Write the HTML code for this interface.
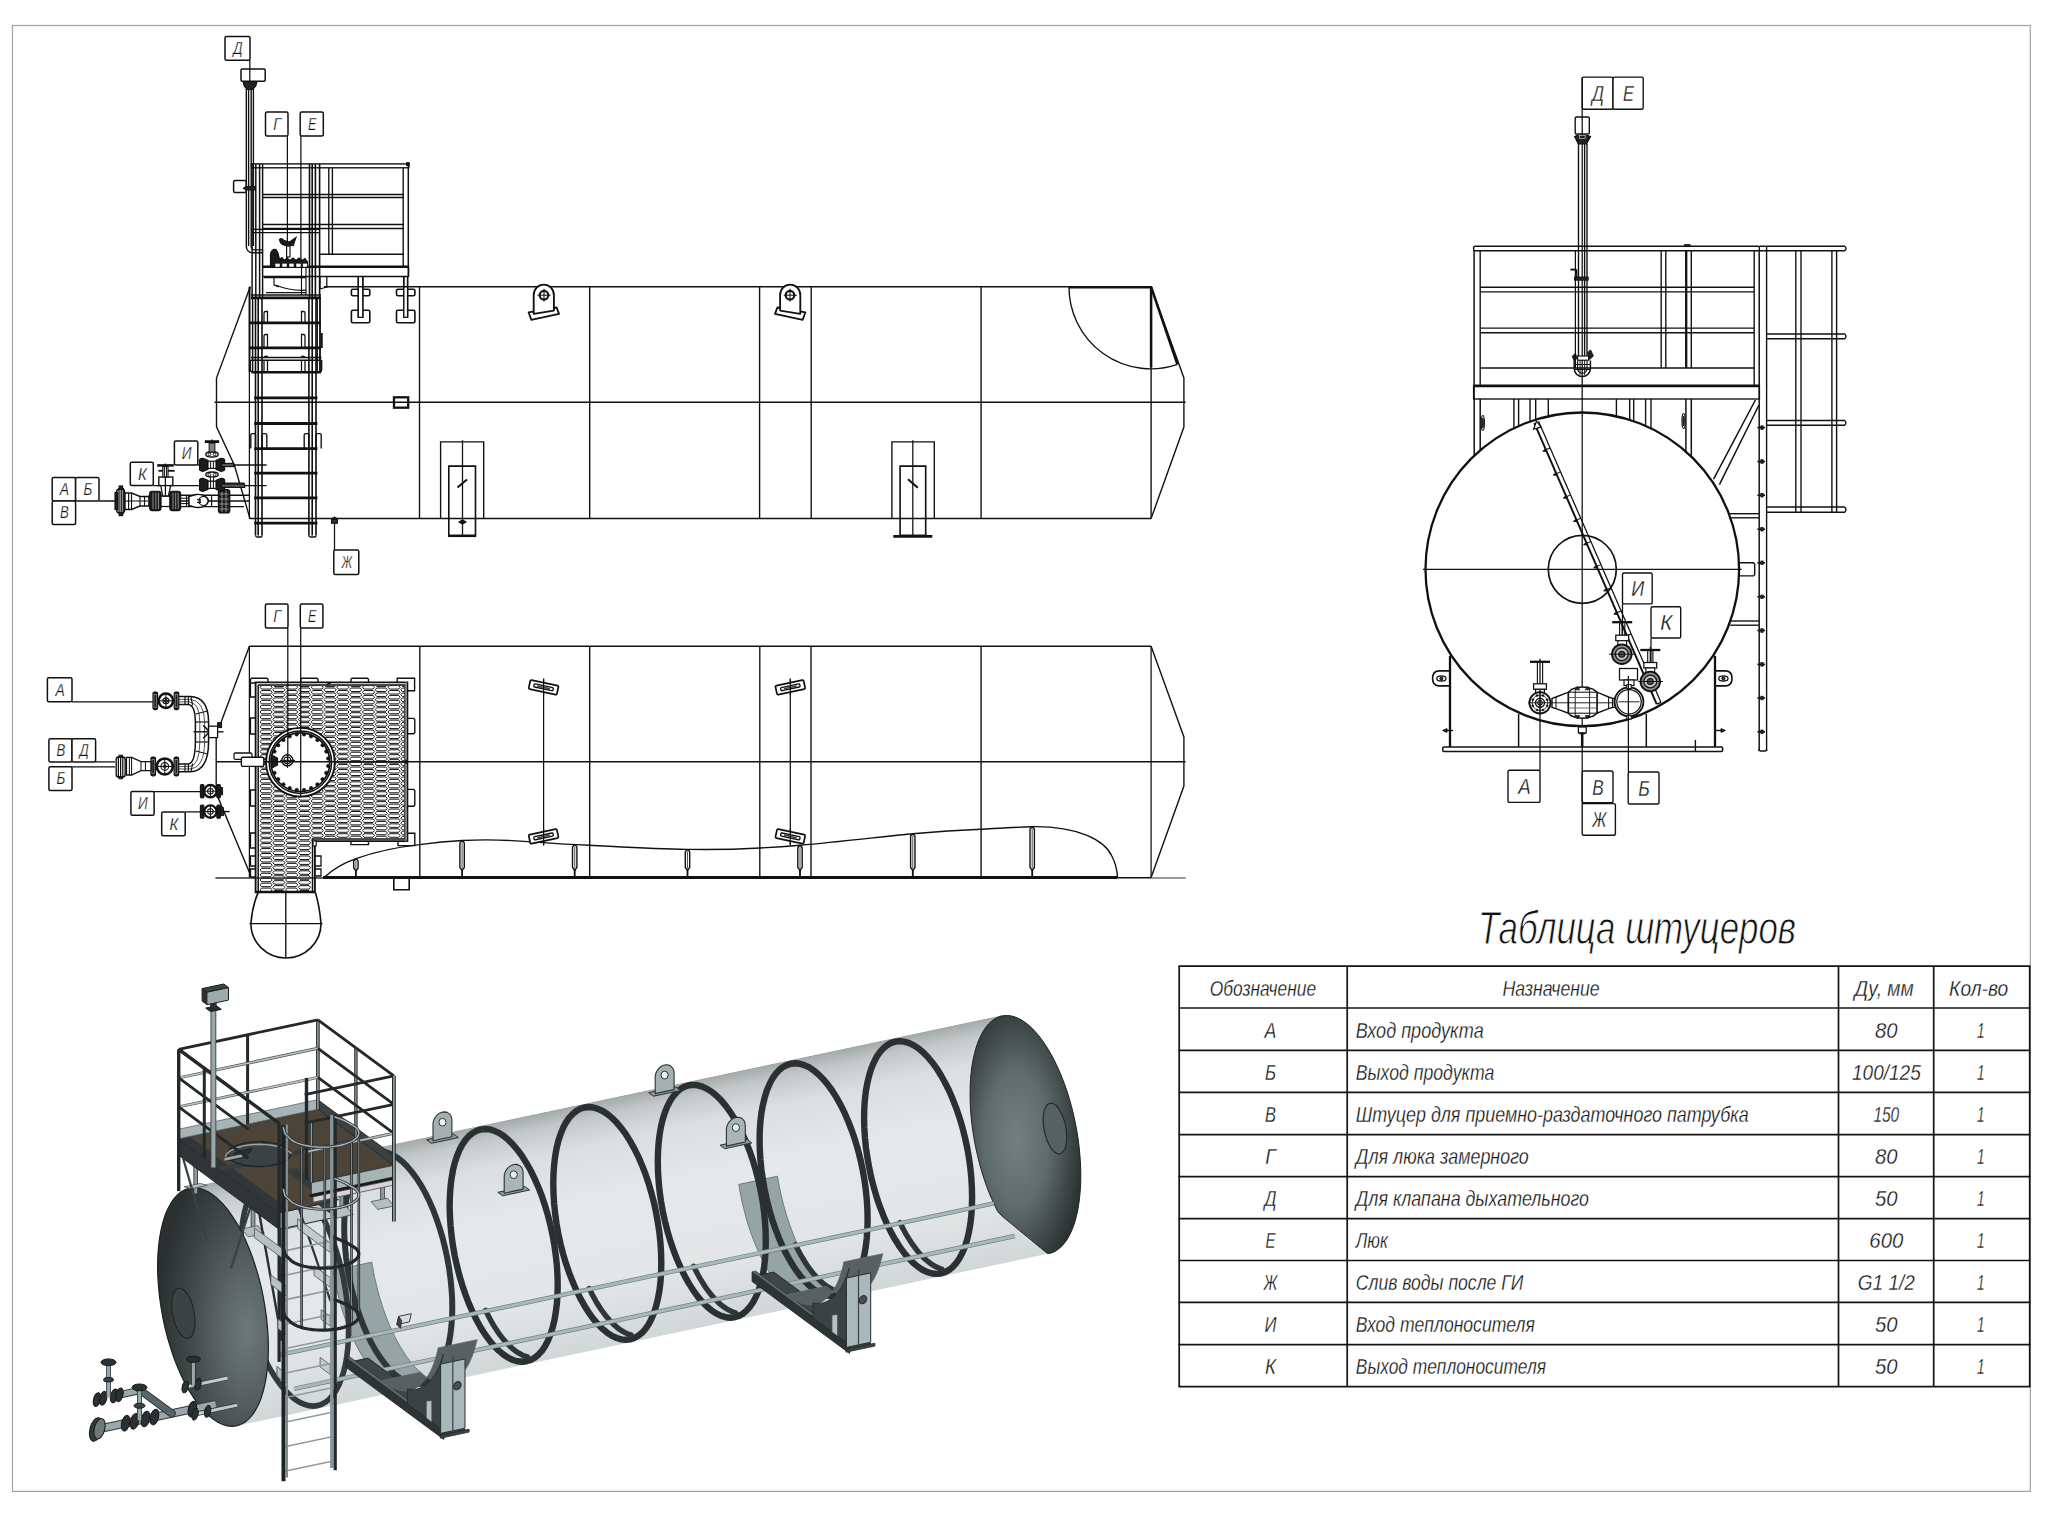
<!DOCTYPE html>
<html lang="ru"><head><meta charset="utf-8"><title>Таблица штуцеров</title>
<style>
html,body{margin:0;padding:0;background:#fff;}
body{width:2048px;height:1517px;overflow:hidden;}
svg{display:block;}
text{font-family:"Liberation Sans",sans-serif;font-style:italic;fill:#111;}
</style></head><body>
<svg width="2048" height="1517" viewBox="0 0 2048 1517">
<g id="p_frame">
<rect x="12.5" y="25.5" width="2017.8" height="1465.9" rx="0" fill="none" stroke="#a3a3a3" stroke-width="1.21" />
</g>
<g id="p_table">
<text x="1478.0" y="944.0" font-size="46" text-anchor="start" textLength="318.0" lengthAdjust="spacingAndGlyphs" stroke="#fff" stroke-width="0.9" >Таблица штуцеров</text>
<line x1="1178.5" y1="966.1" x2="2030.4" y2="966.1" stroke="#151515" stroke-width="1.72" />
<line x1="1178.5" y1="1008.0" x2="2030.4" y2="1008.0" stroke="#151515" stroke-width="1.72" />
<line x1="1178.5" y1="1050.4" x2="2030.4" y2="1050.4" stroke="#151515" stroke-width="1.72" />
<line x1="1178.5" y1="1092.4" x2="2030.4" y2="1092.4" stroke="#151515" stroke-width="1.72" />
<line x1="1178.5" y1="1134.7" x2="2030.4" y2="1134.7" stroke="#151515" stroke-width="1.72" />
<line x1="1178.5" y1="1176.6" x2="2030.4" y2="1176.6" stroke="#151515" stroke-width="1.72" />
<line x1="1178.5" y1="1218.7" x2="2030.4" y2="1218.7" stroke="#151515" stroke-width="1.72" />
<line x1="1178.5" y1="1260.5" x2="2030.4" y2="1260.5" stroke="#151515" stroke-width="1.72" />
<line x1="1178.5" y1="1302.4" x2="2030.4" y2="1302.4" stroke="#151515" stroke-width="1.72" />
<line x1="1178.5" y1="1344.7" x2="2030.4" y2="1344.7" stroke="#151515" stroke-width="1.72" />
<line x1="1178.5" y1="1386.7" x2="2030.4" y2="1386.7" stroke="#151515" stroke-width="1.72" />
<line x1="1179.2" y1="966.1" x2="1179.2" y2="1386.7" stroke="#151515" stroke-width="1.72" />
<line x1="1347.2" y1="966.1" x2="1347.2" y2="1386.7" stroke="#151515" stroke-width="1.72" />
<line x1="1838.5" y1="966.1" x2="1838.5" y2="1386.7" stroke="#151515" stroke-width="1.72" />
<line x1="1933.7" y1="966.1" x2="1933.7" y2="1386.7" stroke="#151515" stroke-width="1.72" />
<line x1="2029.7" y1="966.1" x2="2029.7" y2="1386.7" stroke="#151515" stroke-width="1.72" />
<text x="1209.7" y="995.8" font-size="22" text-anchor="start" textLength="106.4" lengthAdjust="spacingAndGlyphs" stroke="#fff" stroke-width="0.3" >Обозначение</text>
<text x="1502.6" y="995.8" font-size="22" text-anchor="start" textLength="97.1" lengthAdjust="spacingAndGlyphs" stroke="#fff" stroke-width="0.3" >Назначение</text>
<text x="1854.6" y="995.8" font-size="22" text-anchor="start" textLength="59.1" lengthAdjust="spacingAndGlyphs" stroke="#fff" stroke-width="0.3" >Ду, мм</text>
<text x="1949.1" y="995.8" font-size="22" text-anchor="start" textLength="59.1" lengthAdjust="spacingAndGlyphs" stroke="#fff" stroke-width="0.3" >Кол-во</text>
<text x="1264.6" y="1037.6" font-size="22" text-anchor="start" textLength="11.8" lengthAdjust="spacingAndGlyphs" stroke="#fff" stroke-width="0.3" >А</text>
<text x="1355.8" y="1037.6" font-size="22" text-anchor="start" textLength="127.9" lengthAdjust="spacingAndGlyphs" stroke="#fff" stroke-width="0.3" >Вход продукта</text>
<text x="1875.0" y="1037.6" font-size="22" text-anchor="start" textLength="22.6" lengthAdjust="spacingAndGlyphs" stroke="#fff" stroke-width="0.3" >80</text>
<text x="1977.0" y="1037.6" font-size="22" text-anchor="start" textLength="7.6" lengthAdjust="spacingAndGlyphs" stroke="#fff" stroke-width="0.3" >1</text>
<text x="1265.0" y="1080.0" font-size="22" text-anchor="start" textLength="11.0" lengthAdjust="spacingAndGlyphs" stroke="#fff" stroke-width="0.3" >Б</text>
<text x="1355.8" y="1080.0" font-size="22" text-anchor="start" textLength="138.6" lengthAdjust="spacingAndGlyphs" stroke="#fff" stroke-width="0.3" >Выход продукта</text>
<text x="1852.0" y="1080.0" font-size="22" text-anchor="start" textLength="68.7" lengthAdjust="spacingAndGlyphs" stroke="#fff" stroke-width="0.3" >100/125</text>
<text x="1977.0" y="1080.0" font-size="22" text-anchor="start" textLength="7.6" lengthAdjust="spacingAndGlyphs" stroke="#fff" stroke-width="0.3" >1</text>
<text x="1265.0" y="1122.0" font-size="22" text-anchor="start" textLength="11.0" lengthAdjust="spacingAndGlyphs" stroke="#fff" stroke-width="0.3" >В</text>
<text x="1355.8" y="1122.0" font-size="22" text-anchor="start" textLength="392.9" lengthAdjust="spacingAndGlyphs" stroke="#fff" stroke-width="0.3" >Штуцер для приемно-раздаточного патрубка</text>
<text x="1873.4" y="1122.0" font-size="22" text-anchor="start" textLength="25.8" lengthAdjust="spacingAndGlyphs" stroke="#fff" stroke-width="0.3" >150</text>
<text x="1977.0" y="1122.0" font-size="22" text-anchor="start" textLength="7.6" lengthAdjust="spacingAndGlyphs" stroke="#fff" stroke-width="0.3" >1</text>
<text x="1265.2" y="1164.3" font-size="22" text-anchor="start" textLength="10.5" lengthAdjust="spacingAndGlyphs" stroke="#fff" stroke-width="0.3" >Г</text>
<text x="1355.8" y="1164.3" font-size="22" text-anchor="start" textLength="173.0" lengthAdjust="spacingAndGlyphs" stroke="#fff" stroke-width="0.3" >Для люка замерного</text>
<text x="1875.0" y="1164.3" font-size="22" text-anchor="start" textLength="22.6" lengthAdjust="spacingAndGlyphs" stroke="#fff" stroke-width="0.3" >80</text>
<text x="1977.0" y="1164.3" font-size="22" text-anchor="start" textLength="7.6" lengthAdjust="spacingAndGlyphs" stroke="#fff" stroke-width="0.3" >1</text>
<text x="1264.5" y="1206.2" font-size="22" text-anchor="start" textLength="12.0" lengthAdjust="spacingAndGlyphs" stroke="#fff" stroke-width="0.3" >Д</text>
<text x="1355.8" y="1206.2" font-size="22" text-anchor="start" textLength="233.2" lengthAdjust="spacingAndGlyphs" stroke="#fff" stroke-width="0.3" >Для клапана дыхательного</text>
<text x="1875.0" y="1206.2" font-size="22" text-anchor="start" textLength="22.6" lengthAdjust="spacingAndGlyphs" stroke="#fff" stroke-width="0.3" >50</text>
<text x="1977.0" y="1206.2" font-size="22" text-anchor="start" textLength="7.6" lengthAdjust="spacingAndGlyphs" stroke="#fff" stroke-width="0.3" >1</text>
<text x="1265.5" y="1248.3" font-size="22" text-anchor="start" textLength="10.0" lengthAdjust="spacingAndGlyphs" stroke="#fff" stroke-width="0.3" >Е</text>
<text x="1355.8" y="1248.3" font-size="22" text-anchor="start" textLength="32.2" lengthAdjust="spacingAndGlyphs" stroke="#fff" stroke-width="0.3" >Люк</text>
<text x="1869.3" y="1248.3" font-size="22" text-anchor="start" textLength="34.0" lengthAdjust="spacingAndGlyphs" stroke="#fff" stroke-width="0.3" >600</text>
<text x="1977.0" y="1248.3" font-size="22" text-anchor="start" textLength="7.6" lengthAdjust="spacingAndGlyphs" stroke="#fff" stroke-width="0.3" >1</text>
<text x="1263.8" y="1290.1" font-size="22" text-anchor="start" textLength="13.5" lengthAdjust="spacingAndGlyphs" stroke="#fff" stroke-width="0.3" >Ж</text>
<text x="1355.8" y="1290.1" font-size="22" text-anchor="start" textLength="167.6" lengthAdjust="spacingAndGlyphs" stroke="#fff" stroke-width="0.3" >Слив воды после ГИ</text>
<text x="1857.8" y="1290.1" font-size="22" text-anchor="start" textLength="57.0" lengthAdjust="spacingAndGlyphs" stroke="#fff" stroke-width="0.3" >G1 1/2</text>
<text x="1977.0" y="1290.1" font-size="22" text-anchor="start" textLength="7.6" lengthAdjust="spacingAndGlyphs" stroke="#fff" stroke-width="0.3" >1</text>
<text x="1264.5" y="1332.0" font-size="22" text-anchor="start" textLength="12.0" lengthAdjust="spacingAndGlyphs" stroke="#fff" stroke-width="0.3" >И</text>
<text x="1355.8" y="1332.0" font-size="22" text-anchor="start" textLength="179.0" lengthAdjust="spacingAndGlyphs" stroke="#fff" stroke-width="0.3" >Вход теплоносителя</text>
<text x="1875.0" y="1332.0" font-size="22" text-anchor="start" textLength="22.6" lengthAdjust="spacingAndGlyphs" stroke="#fff" stroke-width="0.3" >50</text>
<text x="1977.0" y="1332.0" font-size="22" text-anchor="start" textLength="7.6" lengthAdjust="spacingAndGlyphs" stroke="#fff" stroke-width="0.3" >1</text>
<text x="1265.0" y="1374.3" font-size="22" text-anchor="start" textLength="11.0" lengthAdjust="spacingAndGlyphs" stroke="#fff" stroke-width="0.3" >К</text>
<text x="1355.8" y="1374.3" font-size="22" text-anchor="start" textLength="190.2" lengthAdjust="spacingAndGlyphs" stroke="#fff" stroke-width="0.3" >Выход теплоносителя</text>
<text x="1875.0" y="1374.3" font-size="22" text-anchor="start" textLength="22.6" lengthAdjust="spacingAndGlyphs" stroke="#fff" stroke-width="0.3" >50</text>
<text x="1977.0" y="1374.3" font-size="22" text-anchor="start" textLength="7.6" lengthAdjust="spacingAndGlyphs" stroke="#fff" stroke-width="0.3" >1</text>
</g>
<g id="p_view1">
<line x1="324.0" y1="286.8" x2="1151.1" y2="286.8" stroke="#111" stroke-width="1.49" />
<line x1="249.4" y1="518.5" x2="1151.1" y2="518.5" stroke="#111" stroke-width="1.49" />
<line x1="214.5" y1="402.2" x2="1185.6" y2="402.2" stroke="#111" stroke-width="1.38" />
<line x1="419.5" y1="286.8" x2="419.5" y2="518.5" stroke="#111" stroke-width="1.38" />
<line x1="589.7" y1="286.8" x2="589.7" y2="518.5" stroke="#111" stroke-width="1.38" />
<line x1="759.6" y1="286.8" x2="759.6" y2="518.5" stroke="#111" stroke-width="1.38" />
<line x1="811.2" y1="286.8" x2="811.2" y2="518.5" stroke="#111" stroke-width="1.38" />
<line x1="981.1" y1="286.8" x2="981.1" y2="518.5" stroke="#111" stroke-width="1.38" />
<line x1="249.4" y1="286.8" x2="249.4" y2="518.5" stroke="#111" stroke-width="1.26" />
<line x1="1151.1" y1="286.8" x2="1151.1" y2="518.5" stroke="#111" stroke-width="1.38" />
<path d="M250.3 286.5 L216.5 378.1 L216.5 426.9 L234.3 465.0 L250.0 518.5" fill="none" stroke="#111" stroke-width="1.38" />
<path d="M1151.1 286.8 L1183.9 377.9 L1183.9 427.1 L1151.1 518.5" fill="none" stroke="#111" stroke-width="1.38" />
<path d="M1069 286.8 A81.8 81.8 0 0 0 1177.4 364.4" fill="none" stroke="#111" stroke-width="1.38" />
<line x1="1069.0" y1="287.2" x2="1151.6" y2="287.2" stroke="#111" stroke-width="2.53" />
<line x1="1151.1" y1="286.8" x2="1151.1" y2="367.5" stroke="#111" stroke-width="2.53" />
<line x1="1151.1" y1="286.8" x2="1177.4" y2="364.4" stroke="#111" stroke-width="2.53" />
<rect x="394.0" y="397.3" width="14.2" height="10.4" rx="0" fill="none" stroke="#111" stroke-width="2.3" />
<path d="M528.6 312.3 L556.6 307.5 L559.0 313.9 L531.3 319.8 Z" fill="#fff" stroke="#111" stroke-width="1.84" stroke-linejoin="round"/>
<path d="M533.7 313.8 L533.7 295 A10.1 10.3 0 0 1 553.9 295 L553.9 310.6 Z" fill="#fff" stroke="#111" stroke-width="1.84" stroke-linejoin="round"/>
<circle cx="544.0" cy="295.2" r="4.3" fill="none" stroke="#111" stroke-width="2.18"/>
<line x1="537.4" y1="295.2" x2="550.6" y2="295.2" stroke="#111" stroke-width="1.03" />
<line x1="544.0" y1="288.8" x2="544.0" y2="301.8" stroke="#111" stroke-width="1.03" />
<path d="M805.4 312.3 L777.4 307.5 L775.0 313.9 L802.7 319.8 Z" fill="#fff" stroke="#111" stroke-width="1.84" stroke-linejoin="round"/>
<path d="M800.3 313.8 L800.3 295 A10.1 10.3 0 0 0 780.1 295 L780.1 310.6 Z" fill="#fff" stroke="#111" stroke-width="1.84" stroke-linejoin="round"/>
<circle cx="790.0" cy="295.2" r="4.3" fill="none" stroke="#111" stroke-width="2.18"/>
<line x1="783.8" y1="295.2" x2="797.0" y2="295.2" stroke="#111" stroke-width="1.03" />
<line x1="790.0" y1="288.8" x2="790.0" y2="301.8" stroke="#111" stroke-width="1.03" />
<path d="M440.6 518.5 L440.6 441.9 L483.7 441.9 L483.7 518.5" fill="none" stroke="#111" stroke-width="1.38" />
<path d="M448.8 535.4 L448.8 466.1 L475.5 466.1 L475.5 535.4" fill="none" stroke="#111" stroke-width="1.61" />
<line x1="448.1" y1="535.8" x2="476.2" y2="535.8" stroke="#111" stroke-width="2.53" />
<line x1="462.5" y1="440.2" x2="462.5" y2="535.5" stroke="#111" stroke-width="1.26" />
<line x1="457.5" y1="487.5" x2="467.0" y2="479.5" stroke="#111" stroke-width="2.07" />
<path d="M459.0 521.9 L462.5 519.8 L466.0 521.9 L462.5 524.0 Z" fill="#111" stroke="#111" stroke-width="1.15" />
<path d="M891.9 518.5 L891.9 441.9 L934.3 441.9 L934.3 518.5" fill="none" stroke="#111" stroke-width="1.38" />
<path d="M900.1 535.4 L900.1 466.1 L925.7 466.1 L925.7 535.4" fill="none" stroke="#111" stroke-width="1.61" />
<line x1="899.4" y1="535.8" x2="926.4" y2="535.8" stroke="#111" stroke-width="2.53" />
<line x1="912.8" y1="440.2" x2="912.8" y2="535.5" stroke="#111" stroke-width="1.26" />
<line x1="908.0" y1="479.3" x2="917.8" y2="487.8" stroke="#111" stroke-width="2.07" />
<line x1="893.3" y1="536.4" x2="932.3" y2="536.4" stroke="#111" stroke-width="2.76" />
<line x1="334.5" y1="516.5" x2="334.5" y2="550.0" stroke="#111" stroke-width="1.26" />
<rect x="331.6" y="519.2" width="5.8" height="4.0" rx="0" fill="#333" stroke="#111" stroke-width="1.15" />
<line x1="332.5" y1="518.2" x2="336.5" y2="518.2" stroke="#111" stroke-width="1.84" />
<rect x="333.8" y="550.0" width="25.0" height="24.4" rx="1.5" fill="#fff" stroke="#111" stroke-width="1.49" />
<text x="341.7" y="567.9" font-size="16" text-anchor="start" textLength="10.2" lengthAdjust="spacingAndGlyphs" stroke="#fff" stroke-width="0.25" >Ж</text>
<rect x="251.5" y="163.9" width="157.3" height="3.9" rx="0" fill="none" stroke="#111" stroke-width="1.38" />
<line x1="263.0" y1="194.4" x2="404.0" y2="194.4" stroke="#111" stroke-width="1.49" />
<line x1="263.0" y1="197.6" x2="404.0" y2="197.6" stroke="#111" stroke-width="1.49" />
<line x1="263.0" y1="224.6" x2="404.0" y2="224.6" stroke="#111" stroke-width="1.49" />
<line x1="263.0" y1="228.4" x2="404.0" y2="228.4" stroke="#111" stroke-width="1.49" />
<line x1="252.0" y1="229.4" x2="320.0" y2="229.4" stroke="#111" stroke-width="1.38" />
<line x1="252.0" y1="232.6" x2="320.0" y2="232.6" stroke="#111" stroke-width="1.38" />
<line x1="252.1" y1="164.0" x2="252.1" y2="297.0" stroke="#111" stroke-width="1.49" />
<line x1="255.8" y1="164.0" x2="255.8" y2="297.0" stroke="#111" stroke-width="1.49" />
<line x1="259.6" y1="164.0" x2="259.6" y2="297.0" stroke="#111" stroke-width="1.49" />
<line x1="262.6" y1="164.0" x2="262.6" y2="297.0" stroke="#111" stroke-width="1.49" />
<line x1="309.5" y1="164.0" x2="309.5" y2="297.0" stroke="#111" stroke-width="1.61" />
<line x1="312.2" y1="164.0" x2="312.2" y2="297.0" stroke="#111" stroke-width="1.61" />
<line x1="315.4" y1="164.0" x2="315.4" y2="297.0" stroke="#111" stroke-width="1.61" />
<line x1="319.6" y1="164.0" x2="319.6" y2="297.0" stroke="#111" stroke-width="1.61" />
<line x1="328.8" y1="167.8" x2="328.8" y2="254.0" stroke="#111" stroke-width="1.38" />
<line x1="332.4" y1="167.8" x2="332.4" y2="254.0" stroke="#111" stroke-width="1.38" />
<line x1="403.2" y1="167.8" x2="403.2" y2="266.7" stroke="#111" stroke-width="1.38" />
<line x1="408.3" y1="164.0" x2="408.3" y2="276.6" stroke="#111" stroke-width="1.49" />
<rect x="406.6" y="162.6" width="2.6" height="2.8" rx="0" fill="#111" stroke="#111" stroke-width="0.92" />
<line x1="320.0" y1="254.2" x2="403.2" y2="254.2" stroke="#111" stroke-width="1.49" />
<line x1="263.0" y1="266.8" x2="408.8" y2="266.8" stroke="#111" stroke-width="2.53" />
<line x1="263.0" y1="276.6" x2="408.8" y2="276.6" stroke="#111" stroke-width="1.49" />
<line x1="408.6" y1="266.8" x2="408.6" y2="276.6" stroke="#111" stroke-width="1.38" />
<line x1="324.0" y1="286.8" x2="328.0" y2="286.8" stroke="#111" stroke-width="1.38" />
<path d="M320.0 276.6 L320.0 289.0 L326.8 287.0" fill="none" stroke="#111" stroke-width="1.26" />
<line x1="326.8" y1="276.6" x2="326.8" y2="287.0" stroke="#111" stroke-width="1.26" />
<path d="M358.3 276.6 L358.3 317.0 L362.8 317.0 L362.8 276.6" fill="none" stroke="#111" stroke-width="1.38" />
<rect x="351.4" y="289.2" width="18.4" height="6.6" rx="1.5" fill="none" stroke="#111" stroke-width="1.61" />
<rect x="351.4" y="310.3" width="18.4" height="12.4" rx="1.5" fill="none" stroke="#111" stroke-width="1.61" />
<rect x="358.3" y="288.0" width="4.5" height="29.4" rx="0" fill="#fff" stroke="#fff" stroke-width="0.11" />
<path d="M358.3 276.6 L358.3 317.4 L362.8 317.4 L362.8 276.6" fill="none" stroke="#111" stroke-width="1.38" />
<path d="M403.8 276.6 L403.8 317.0 L407.6 317.0 L407.6 276.6" fill="none" stroke="#111" stroke-width="1.38" />
<rect x="396.5" y="289.2" width="18.4" height="6.6" rx="1.5" fill="none" stroke="#111" stroke-width="1.61" />
<rect x="396.5" y="310.3" width="18.4" height="12.4" rx="1.5" fill="none" stroke="#111" stroke-width="1.61" />
<rect x="403.8" y="288.0" width="3.8" height="29.4" rx="0" fill="#fff" stroke="#fff" stroke-width="0.11" />
<path d="M403.8 276.6 L403.8 317.4 L407.6 317.4 L407.6 276.6" fill="none" stroke="#111" stroke-width="1.38" />
<rect x="225.0" y="36.6" width="25.0" height="23.6" rx="1.5" fill="#fff" stroke="#111" stroke-width="1.49" />
<text x="233.3" y="54.1" font-size="16" text-anchor="start" textLength="9.3" lengthAdjust="spacingAndGlyphs" stroke="#fff" stroke-width="0.25" >Д</text>
<line x1="249.8" y1="60.0" x2="249.8" y2="82.0" stroke="#111" stroke-width="1.26" />
<rect x="241.0" y="68.9" width="24.2" height="12.4" rx="1.2" fill="none" stroke="#111" stroke-width="1.49" />
<path d="M243.2 82.2 L256.8 82.2 L255.8 86.0 L252.6 89.5 L247.0 89.5 L244.2 86.0 Z" fill="#222" stroke="#111" stroke-width="1.15" />
<line x1="246.3" y1="89.0" x2="246.3" y2="246.0" stroke="#111" stroke-width="1.38" />
<line x1="248.6" y1="89.0" x2="248.6" y2="246.0" stroke="#111" stroke-width="1.38" />
<line x1="251.2" y1="89.0" x2="251.2" y2="246.0" stroke="#111" stroke-width="1.38" />
<line x1="253.4" y1="89.0" x2="253.4" y2="246.0" stroke="#111" stroke-width="1.38" />
<path d="M246.3 246 Q246.5 252.5 253 252.8 L262 252.8" fill="none" stroke="#111" stroke-width="1.38" />
<path d="M251 246 Q251.2 249.6 254 249.8 L262 249.8" fill="none" stroke="#111" stroke-width="1.26" />
<rect x="233.6" y="180.5" width="12.7" height="11.9" rx="1.5" fill="none" stroke="#111" stroke-width="1.49" />
<path d="M243.5 188.3 L246.0 186.6 L255.0 186.6 L255.0 190.0 L246.0 190.0 Z" fill="#222" stroke="#111" stroke-width="1.15" />
<rect x="265.5" y="112.0" width="22.5" height="24.0" rx="1.5" fill="#fff" stroke="#111" stroke-width="1.49" />
<text x="273.3" y="129.7" font-size="16" text-anchor="start" textLength="7.9" lengthAdjust="spacingAndGlyphs" stroke="#fff" stroke-width="0.25" >Г</text>
<rect x="300.2" y="112.0" width="23.1" height="24.0" rx="1.5" fill="#fff" stroke="#111" stroke-width="1.49" />
<text x="308.1" y="129.7" font-size="16" text-anchor="start" textLength="8.4" lengthAdjust="spacingAndGlyphs" stroke="#fff" stroke-width="0.25" >Е</text>
<line x1="287.4" y1="136.0" x2="287.4" y2="262.0" stroke="#111" stroke-width="1.26" />
<line x1="300.9" y1="136.0" x2="300.9" y2="262.0" stroke="#111" stroke-width="1.26" />
<path d="M270.5 266 L270.5 254 Q272 248.5 276 249.5 L278 253 L279.5 259.5 L282 257.5 L284.5 260.5 L287 258 L290 260.5 L293 258 L296 260.5 L299 258 L302 260.5 L305 258.5 L307.5 262 L307.5 266 Z" fill="#1a1a1a" stroke="#111" stroke-width="1.15" />
<path d="M279.5 239.5 Q282 237.5 284 240.5 L289.5 242 L296 237.5 L294 243 L293.5 245.5 L287 246 L283.5 245 Q280 243.5 279.5 239.5 Z" fill="#1a1a1a" stroke="#111" stroke-width="1.15" />
<rect x="286.6" y="246.0" width="3.4" height="11.0" rx="0" fill="#fff" stroke="#111" stroke-width="1.15" />
<rect x="275.7" y="264.0" width="3.6" height="2.5" rx="0" fill="#fff" stroke="#fff" stroke-width="0.69" />
<rect x="282.7" y="264.0" width="3.6" height="2.5" rx="0" fill="#fff" stroke="#fff" stroke-width="0.69" />
<rect x="289.7" y="264.0" width="3.6" height="2.5" rx="0" fill="#fff" stroke="#fff" stroke-width="0.69" />
<rect x="296.7" y="264.0" width="3.6" height="2.5" rx="0" fill="#fff" stroke="#fff" stroke-width="0.69" />
<rect x="303.2" y="264.0" width="3.6" height="2.5" rx="0" fill="#fff" stroke="#fff" stroke-width="0.69" />
<line x1="264.0" y1="277.5" x2="306.0" y2="277.5" stroke="#111" stroke-width="1.26" />
<path d="M274.0 276.6 L274.0 285.0 L279.0 287.0" fill="none" stroke="#111" stroke-width="1.15" />
<path d="M275.5 285 Q290 291 306 290.2" fill="none" stroke="#111" stroke-width="1.26" />
<line x1="266.0" y1="292.6" x2="306.0" y2="292.6" stroke="#111" stroke-width="1.15" />
<line x1="301.5" y1="266.8" x2="301.5" y2="295.0" stroke="#111" stroke-width="1.15" />
<line x1="306.0" y1="266.8" x2="306.0" y2="295.0" stroke="#111" stroke-width="1.15" />
<line x1="249.6" y1="287.0" x2="249.6" y2="372.0" stroke="#111" stroke-width="1.84" />
<line x1="252.6" y1="297.0" x2="252.6" y2="372.0" stroke="#111" stroke-width="1.49" />
<line x1="320.0" y1="297.0" x2="320.0" y2="372.0" stroke="#111" stroke-width="1.84" />
<line x1="317.2" y1="297.0" x2="317.2" y2="372.0" stroke="#111" stroke-width="1.49" />
<line x1="321.8" y1="333.0" x2="321.8" y2="348.0" stroke="#111" stroke-width="1.84" />
<line x1="255.5" y1="297.0" x2="255.5" y2="535.5" stroke="#111" stroke-width="1.61" />
<line x1="258.2" y1="297.0" x2="258.2" y2="535.5" stroke="#111" stroke-width="1.61" />
<line x1="262.0" y1="297.0" x2="262.0" y2="535.5" stroke="#111" stroke-width="1.61" />
<line x1="308.9" y1="297.0" x2="308.9" y2="535.5" stroke="#111" stroke-width="1.61" />
<line x1="312.2" y1="297.0" x2="312.2" y2="535.5" stroke="#111" stroke-width="1.61" />
<line x1="316.0" y1="297.0" x2="316.0" y2="535.5" stroke="#111" stroke-width="1.61" />
<path d="M255.5 535.5 Q255.7 537 257 537 L260.6 537 Q262 537 262 535.5" fill="none" stroke="#111" stroke-width="1.38" />
<path d="M308.9 535.5 Q309 537 310.4 537 L314.6 537 Q316 537 316 535.5" fill="none" stroke="#111" stroke-width="1.38" />
<line x1="251.0" y1="295.0" x2="321.0" y2="295.0" stroke="#111" stroke-width="1.38" />
<line x1="251.0" y1="297.8" x2="321.0" y2="297.8" stroke="#111" stroke-width="2.76" />
<line x1="250.0" y1="322.8" x2="321.0" y2="322.8" stroke="#111" stroke-width="2.76" />
<line x1="250.0" y1="347.9" x2="321.0" y2="347.9" stroke="#111" stroke-width="2.76" />
<line x1="251.0" y1="357.6" x2="321.5" y2="357.6" stroke="#111" stroke-width="1.49" />
<line x1="251.0" y1="360.2" x2="321.5" y2="360.2" stroke="#111" stroke-width="1.49" />
<line x1="251.5" y1="372.3" x2="321.0" y2="372.3" stroke="#111" stroke-width="2.53" />
<path d="M250.2 360 L250.2 369.5 Q250.4 372 253 372.3" fill="none" stroke="#111" stroke-width="1.49" />
<path d="M321.6 360 L321.6 369.5 Q321.4 372 319 372.3" fill="none" stroke="#111" stroke-width="1.49" />
<path d="M264 322.5 L264 313.0 Q264 311.5 265.5 311.5 L267.5 311.5 L267.5 322.5" fill="none" stroke="#111" stroke-width="1.26" />
<path d="M305 322.5 L305 313.0 Q305 311.5 303.5 311.5 L301.5 311.5 L301.5 322.5" fill="none" stroke="#111" stroke-width="1.26" />
<path d="M264 347.5 L264 336.0 Q264 334.5 265.5 334.5 L267.5 334.5 L267.5 347.5" fill="none" stroke="#111" stroke-width="1.26" />
<path d="M305 347.5 L305 336.0 Q305 334.5 303.5 334.5 L301.5 334.5 L301.5 347.5" fill="none" stroke="#111" stroke-width="1.26" />
<line x1="264.0" y1="360.5" x2="264.0" y2="372.0" stroke="#111" stroke-width="1.26" />
<line x1="267.5" y1="360.5" x2="267.5" y2="372.0" stroke="#111" stroke-width="1.26" />
<line x1="301.5" y1="360.5" x2="301.5" y2="372.0" stroke="#111" stroke-width="1.26" />
<line x1="305.0" y1="360.5" x2="305.0" y2="372.0" stroke="#111" stroke-width="1.26" />
<path d="M264 357 Q266 355.5 268 356.5" fill="none" stroke="#111" stroke-width="1.15" />
<path d="M305 357 Q303 355.5 301 356.5" fill="none" stroke="#111" stroke-width="1.15" />
<line x1="254.2" y1="397.9" x2="317.4" y2="397.9" stroke="#111" stroke-width="2.76" />
<line x1="254.2" y1="423.5" x2="317.4" y2="423.5" stroke="#111" stroke-width="2.76" />
<line x1="254.2" y1="448.6" x2="317.4" y2="448.6" stroke="#111" stroke-width="2.76" />
<line x1="254.2" y1="473.2" x2="317.4" y2="473.2" stroke="#111" stroke-width="2.76" />
<line x1="254.2" y1="497.8" x2="317.4" y2="497.8" stroke="#111" stroke-width="2.76" />
<line x1="254.2" y1="523.2" x2="317.4" y2="523.2" stroke="#111" stroke-width="2.76" />
<path d="M250.8 448.4 L250.8 435.1 Q250.8 433.6 252.3 433.6 L254.0 433.6 Q255.5 433.6 255.5 435.1 L255.5 448.4" fill="none" stroke="#111" stroke-width="1.38" />
<path d="M262 448.4 L262 435.1 Q262 433.6 263.5 433.6 L265.3 433.6 Q266.8 433.6 266.8 435.1 L266.8 448.4" fill="none" stroke="#111" stroke-width="1.38" />
<path d="M304.2 448.4 L304.2 435.1 Q304.2 433.6 305.7 433.6 L307.4 433.6 Q308.9 433.6 308.9 435.1 L308.9 448.4" fill="none" stroke="#111" stroke-width="1.38" />
<path d="M316 448.4 L316 435.1 Q316 433.6 317.5 433.6 L319.7 433.6 Q321.2 433.6 321.2 435.1 L321.2 448.4" fill="none" stroke="#111" stroke-width="1.38" />
<rect x="52.2" y="477.5" width="23.4" height="23.4" rx="1.5" fill="#fff" stroke="#111" stroke-width="1.49" />
<text x="59.8" y="494.9" font-size="16" text-anchor="start" textLength="9.3" lengthAdjust="spacingAndGlyphs" stroke="#fff" stroke-width="0.25" >А</text>
<rect x="75.6" y="477.5" width="23.4" height="23.4" rx="1.5" fill="#fff" stroke="#111" stroke-width="1.49" />
<text x="83.4" y="494.9" font-size="16" text-anchor="start" textLength="8.8" lengthAdjust="spacingAndGlyphs" stroke="#fff" stroke-width="0.25" >Б</text>
<rect x="52.2" y="500.9" width="23.4" height="23.5" rx="1.5" fill="#fff" stroke="#111" stroke-width="1.49" />
<text x="60.0" y="518.4" font-size="16" text-anchor="start" textLength="8.8" lengthAdjust="spacingAndGlyphs" stroke="#fff" stroke-width="0.25" >В</text>
<rect x="130.3" y="462.2" width="23.0" height="23.4" rx="1.5" fill="#fff" stroke="#111" stroke-width="1.49" />
<text x="137.9" y="479.6" font-size="16" text-anchor="start" textLength="8.8" lengthAdjust="spacingAndGlyphs" stroke="#fff" stroke-width="0.25" >К</text>
<rect x="174.4" y="441.1" width="23.4" height="23.9" rx="1.5" fill="#fff" stroke="#111" stroke-width="1.49" />
<text x="181.7" y="458.8" font-size="16" text-anchor="start" textLength="9.8" lengthAdjust="spacingAndGlyphs" stroke="#fff" stroke-width="0.25" >И</text>
<line x1="99.0" y1="501.0" x2="250.0" y2="501.0" stroke="#111" stroke-width="1.26" />
<line x1="153.3" y1="485.6" x2="266.6" y2="485.6" stroke="#111" stroke-width="1.26" />
<line x1="197.8" y1="465.0" x2="266.6" y2="465.0" stroke="#111" stroke-width="1.26" />
<rect x="116.6" y="489.0" width="8.0" height="24.0" rx="3" fill="#fff" stroke="#111" stroke-width="1.38" />
<rect x="115.0" y="492.5" width="2.4" height="17.0" rx="0" fill="#222" stroke="#111" stroke-width="1.15" />
<line x1="119.0" y1="488.0" x2="119.0" y2="514.0" stroke="#111" stroke-width="1.38" />
<line x1="121.2" y1="488.0" x2="121.2" y2="514.0" stroke="#111" stroke-width="1.38" />
<line x1="123.2" y1="488.0" x2="123.2" y2="514.0" stroke="#111" stroke-width="1.38" />
<rect x="119.2" y="486.0" width="3.4" height="3.0" rx="0" fill="#222" stroke="#111" stroke-width="1.15" />
<rect x="119.2" y="513.0" width="3.4" height="2.6" rx="0" fill="#222" stroke="#111" stroke-width="1.15" />
<path d="M125.0 493.0 L131.5 493.0 L140.0 496.5 L149.0 496.5 L149.0 506.0 L140.0 506.0 L131.5 509.5 L125.0 509.5 Z" fill="#fff" stroke="#111" stroke-width="1.38" />
<line x1="128.6" y1="493.0" x2="128.6" y2="509.5" stroke="#111" stroke-width="1.15" />
<line x1="131.5" y1="493.0" x2="131.5" y2="509.5" stroke="#111" stroke-width="1.15" />
<line x1="140.0" y1="496.5" x2="140.0" y2="506.0" stroke="#111" stroke-width="1.15" />
<line x1="144.5" y1="496.5" x2="144.5" y2="506.0" stroke="#111" stroke-width="1.15" />
<line x1="125.0" y1="501.0" x2="149.0" y2="501.0" stroke="#111" stroke-width="1.03" />
<rect x="149.6" y="491.2" width="11.4" height="19.4" rx="2.5" fill="#1c1c1c" stroke="#111" stroke-width="1.15" />
<line x1="153.0" y1="492.7" x2="153.0" y2="509.1" stroke="#bbb" stroke-width="0.69" />
<line x1="155.9" y1="492.7" x2="155.9" y2="509.1" stroke="#bbb" stroke-width="0.69" />
<line x1="158.5" y1="492.7" x2="158.5" y2="509.1" stroke="#bbb" stroke-width="0.69" />
<rect x="148.8" y="495.7" width="1.8" height="3.0" rx="0" fill="#1c1c1c" stroke="#111" stroke-width="0.57" />
<rect x="148.8" y="503.1" width="1.8" height="3.0" rx="0" fill="#1c1c1c" stroke="#111" stroke-width="0.57" />
<rect x="169.8" y="491.2" width="10.8" height="19.4" rx="2.5" fill="#1c1c1c" stroke="#111" stroke-width="1.15" />
<line x1="173.0" y1="492.7" x2="173.0" y2="509.1" stroke="#bbb" stroke-width="0.69" />
<line x1="175.7" y1="492.7" x2="175.7" y2="509.1" stroke="#bbb" stroke-width="0.69" />
<line x1="178.2" y1="492.7" x2="178.2" y2="509.1" stroke="#bbb" stroke-width="0.69" />
<rect x="169.0" y="495.7" width="1.8" height="3.0" rx="0" fill="#1c1c1c" stroke="#111" stroke-width="0.57" />
<rect x="169.0" y="503.1" width="1.8" height="3.0" rx="0" fill="#1c1c1c" stroke="#111" stroke-width="0.57" />
<rect x="161.0" y="496.0" width="8.8" height="10.5" rx="0" fill="#fff" stroke="#111" stroke-width="1.26" />
<rect x="158.8" y="477.0" width="14.0" height="8.6" rx="0" fill="#fff" stroke="#111" stroke-width="1.38" />
<path d="M160.8 485.6 L162.6 496.0 L168.4 496.0 L170.6 485.6 Z" fill="#fff" stroke="#111" stroke-width="1.26" />
<line x1="165.4" y1="463.5" x2="165.4" y2="496.0" stroke="#111" stroke-width="1.26" />
<rect x="162.8" y="466.5" width="5.2" height="10.5" rx="0" fill="#fff" stroke="#111" stroke-width="1.15" />
<line x1="164.4" y1="466.5" x2="164.4" y2="477.0" stroke="#111" stroke-width="1.03" />
<line x1="166.4" y1="466.5" x2="166.4" y2="477.0" stroke="#111" stroke-width="1.03" />
<line x1="157.2" y1="465.4" x2="173.8" y2="465.4" stroke="#111" stroke-width="2.53" />
<line x1="158.5" y1="470.8" x2="162.8" y2="470.8" stroke="#111" stroke-width="1.84" />
<line x1="168.0" y1="470.8" x2="174.6" y2="470.8" stroke="#111" stroke-width="1.84" />
<line x1="180.6" y1="495.2" x2="250.0" y2="495.2" stroke="#111" stroke-width="1.38" />
<line x1="180.6" y1="506.6" x2="244.0" y2="506.6" stroke="#111" stroke-width="1.38" />
<line x1="180.6" y1="498.2" x2="196.0" y2="498.2" stroke="#111" stroke-width="1.03" />
<line x1="180.6" y1="503.6" x2="196.0" y2="503.6" stroke="#111" stroke-width="1.03" />
<line x1="186.6" y1="495.2" x2="186.6" y2="506.6" stroke="#111" stroke-width="1.15" />
<line x1="189.0" y1="495.2" x2="189.0" y2="506.6" stroke="#111" stroke-width="1.15" />
<path d="M189 496.5 L196 494.5 Q206 493.5 208.6 500.9 Q206 508.5 196 507.4 L189 505.5 Z" fill="#fff" stroke="#111" stroke-width="1.38" />
<circle cx="203.6" cy="500.9" r="4.6" fill="none" stroke="#111" stroke-width="1.15"/>
<path d="M199 498 Q201.5 501 199 504" fill="none" stroke="#111" stroke-width="1.03" />
<line x1="197.0" y1="499.6" x2="201.0" y2="499.6" stroke="#111" stroke-width="1.03" />
<line x1="197.0" y1="502.4" x2="201.0" y2="502.4" stroke="#111" stroke-width="1.03" />
<line x1="211.6" y1="495.2" x2="211.6" y2="506.6" stroke="#111" stroke-width="1.15" />
<rect x="218.4" y="489.5" width="11.4" height="23.5" rx="2.5" fill="#1c1c1c" stroke="#111" stroke-width="1.15" />
<line x1="219.5" y1="494.0" x2="228.6" y2="494.0" stroke="#bbb" stroke-width="0.69" />
<line x1="219.5" y1="499.0" x2="228.6" y2="499.0" stroke="#bbb" stroke-width="0.69" />
<line x1="219.5" y1="504.0" x2="228.6" y2="504.0" stroke="#bbb" stroke-width="0.69" />
<line x1="219.5" y1="509.0" x2="228.6" y2="509.0" stroke="#bbb" stroke-width="0.69" />
<line x1="222.0" y1="490.5" x2="222.0" y2="512.0" stroke="#bbb" stroke-width="0.69" />
<line x1="226.0" y1="490.5" x2="226.0" y2="512.0" stroke="#bbb" stroke-width="0.69" />
<path d="M199.6 461.8 Q198.6 458.3 203 458.3 L208 460.3 L208 469.3 L203 471.3 Q198.6 471.3 199.6 467.8 Z" fill="#1c1c1c" stroke="#111" stroke-width="1.15" />
<path d="M224.6 461.8 Q225.6 458.3 221 458.3 L216 460.3 L216 469.3 L221 471.3 Q225.6 471.3 224.6 467.8 Z" fill="#1c1c1c" stroke="#111" stroke-width="1.15" />
<rect x="208.0" y="461.2" width="8.0" height="7.2" rx="0" fill="#fff" stroke="#111" stroke-width="1.15" />
<line x1="210.6" y1="461.2" x2="210.6" y2="468.4" stroke="#111" stroke-width="1.03" />
<line x1="213.4" y1="461.2" x2="213.4" y2="468.4" stroke="#111" stroke-width="1.03" />
<path d="M199.6 481.8 Q198.6 478.3 203 478.3 L208 480.3 L208 489.3 L203 491.3 Q198.6 491.3 199.6 487.8 Z" fill="#1c1c1c" stroke="#111" stroke-width="1.15" />
<path d="M224.6 481.8 Q225.6 478.3 221 478.3 L216 480.3 L216 489.3 L221 491.3 Q225.6 491.3 224.6 487.8 Z" fill="#1c1c1c" stroke="#111" stroke-width="1.15" />
<rect x="208.0" y="481.2" width="8.0" height="7.2" rx="0" fill="#fff" stroke="#111" stroke-width="1.15" />
<line x1="210.6" y1="481.2" x2="210.6" y2="488.4" stroke="#111" stroke-width="1.03" />
<line x1="213.4" y1="481.2" x2="213.4" y2="488.4" stroke="#111" stroke-width="1.03" />
<ellipse cx="212.0" cy="454.4" rx="6.2" ry="2.6" fill="#fff" stroke="#111" stroke-width="1.38" />
<circle cx="209.4" cy="454.4" r="1.4" fill="none" stroke="#111" stroke-width="0.92"/>
<circle cx="214.6" cy="454.4" r="1.4" fill="none" stroke="#111" stroke-width="0.92"/>
<ellipse cx="212.0" cy="474.6" rx="6.2" ry="2.6" fill="#fff" stroke="#111" stroke-width="1.38" />
<circle cx="209.4" cy="474.6" r="1.4" fill="none" stroke="#111" stroke-width="0.92"/>
<circle cx="214.6" cy="474.6" r="1.4" fill="none" stroke="#111" stroke-width="0.92"/>
<rect x="209.2" y="443.0" width="5.6" height="9.0" rx="0" fill="#fff" stroke="#111" stroke-width="1.15" />
<line x1="211.0" y1="443.0" x2="211.0" y2="452.0" stroke="#111" stroke-width="1.03" />
<line x1="213.0" y1="443.0" x2="213.0" y2="452.0" stroke="#111" stroke-width="1.03" />
<rect x="210.4" y="477.0" width="3.2" height="4.0" rx="0" fill="#fff" stroke="#111" stroke-width="1.03" />
<line x1="204.8" y1="441.6" x2="219.2" y2="441.6" stroke="#111" stroke-width="2.76" />
<line x1="212.0" y1="439.5" x2="212.0" y2="443.0" stroke="#111" stroke-width="1.38" />
<rect x="221.5" y="463.4" width="12.1" height="3.2" rx="0" fill="#555" stroke="#111" stroke-width="1.15" />
<rect x="221.5" y="484.0" width="23.1" height="3.4" rx="0" fill="#555" stroke="#111" stroke-width="1.15" />
<line x1="222.0" y1="483.2" x2="244.6" y2="483.2" stroke="#111" stroke-width="1.38" />
</g>
<g id="p_view2">
<line x1="249.4" y1="646.2" x2="1151.1" y2="646.2" stroke="#111" stroke-width="1.49" />
<line x1="216.0" y1="761.8" x2="1185.6" y2="761.8" stroke="#111" stroke-width="1.38" />
<line x1="249.4" y1="646.2" x2="249.4" y2="877.6" stroke="#111" stroke-width="1.26" />
<line x1="1151.1" y1="646.2" x2="1151.1" y2="877.6" stroke="#111" stroke-width="1.26" />
<line x1="419.8" y1="646.2" x2="419.8" y2="877.6" stroke="#111" stroke-width="1.38" />
<line x1="589.7" y1="646.2" x2="589.7" y2="877.6" stroke="#111" stroke-width="1.38" />
<line x1="759.8" y1="646.2" x2="759.8" y2="877.6" stroke="#111" stroke-width="1.38" />
<line x1="811.0" y1="646.2" x2="811.0" y2="877.6" stroke="#111" stroke-width="1.38" />
<line x1="981.1" y1="646.2" x2="981.1" y2="877.6" stroke="#111" stroke-width="1.38" />
<line x1="215.4" y1="878.0" x2="323.0" y2="878.0" stroke="#333" stroke-width="1.26" />
<line x1="323.0" y1="877.6" x2="1117.0" y2="877.6" stroke="#111" stroke-width="2.99" />
<line x1="1117.0" y1="877.8" x2="1151.1" y2="877.8" stroke="#111" stroke-width="1.61" />
<line x1="1151.1" y1="878.0" x2="1185.6" y2="878.0" stroke="#777" stroke-width="1.38" />
<path d="M249.4 646.2 L220.7 723.3" fill="none" stroke="#111" stroke-width="1.38" />
<path d="M216.2 733.6 L216.2 793.0 L250.5 875.0" fill="none" stroke="#111" stroke-width="1.38" />
<path d="M1151.1 646.2 L1183.9 736.9 L1183.9 786.1 L1151.1 877.6" fill="none" stroke="#111" stroke-width="1.38" />
<path d="M324 877.6 C334 868 345 862.5 355.9 858.6 C376 851.5 398 847 419.4 844.6 C434 842.6 448 841.2 462.5 840.5 C480 839.6 497 839.8 512 840.6 C523 841.2 533 841.9 543.6 842.6 C559 843.8 574 844.6 589.7 845.3 C622 846.9 655 848.9 687.1 849.4 C712 849.8 736 849.4 760 848 C775 847.2 788 846.3 800 845.3 C838 842 875 837.5 912.8 833.7 C936 831.5 958 830 981.1 829.2 C998 828.3 1015 827.2 1032.2 826.7 C1052 826.3 1071 829 1087.1 835.3 C1100 840.8 1108 847.5 1111.7 855.8 C1115.5 863 1117.2 870 1117.5 877.6" fill="none" stroke="#111" stroke-width="1.38" />
<path d="M353.7 868.0 L353.7 861.1 Q355.9 857.1 358.1 861.1 L358.1 868.0 L355.9 871.0 Z" fill="#fff" stroke="#111" stroke-width="1.38" />
<line x1="355.9" y1="860.6" x2="355.9" y2="869.0" stroke="#555" stroke-width="1.03" />
<line x1="355.9" y1="870.0" x2="355.9" y2="877.6" stroke="#111" stroke-width="1.84" />
<path d="M459.9 867.4 L459.9 843.0 Q462.1 839.0 464.3 843.0 L464.3 867.4 L462.1 870.4 Z" fill="#fff" stroke="#111" stroke-width="1.38" />
<line x1="462.1" y1="842.5" x2="462.1" y2="868.4" stroke="#555" stroke-width="1.03" />
<line x1="462.1" y1="869.4" x2="462.1" y2="877.6" stroke="#111" stroke-width="1.84" />
<path d="M572.5 867.4 L572.5 847.0 Q574.7 843.0 576.9 847.0 L576.9 867.4 L574.7 870.4 Z" fill="#fff" stroke="#111" stroke-width="1.38" />
<line x1="574.7" y1="846.5" x2="574.7" y2="868.4" stroke="#555" stroke-width="1.03" />
<line x1="574.7" y1="869.4" x2="574.7" y2="877.6" stroke="#111" stroke-width="1.84" />
<path d="M685.3 867.4 L685.3 851.9 Q687.5 847.9 689.7 851.9 L689.7 867.4 L687.5 870.4 Z" fill="#fff" stroke="#111" stroke-width="1.38" />
<line x1="687.5" y1="851.4" x2="687.5" y2="868.4" stroke="#555" stroke-width="1.03" />
<line x1="687.5" y1="869.4" x2="687.5" y2="877.6" stroke="#111" stroke-width="1.84" />
<path d="M797.8 867.4 L797.8 847.8 Q800.0 843.8 802.2 847.8 L802.2 867.4 L800.0 870.4 Z" fill="#fff" stroke="#111" stroke-width="1.38" />
<line x1="800.0" y1="847.3" x2="800.0" y2="868.4" stroke="#555" stroke-width="1.03" />
<line x1="800.0" y1="869.4" x2="800.0" y2="877.6" stroke="#111" stroke-width="1.84" />
<path d="M910.6 867.4 L910.6 836.2 Q912.8 832.2 915.0 836.2 L915.0 867.4 L912.8 870.4 Z" fill="#fff" stroke="#111" stroke-width="1.38" />
<line x1="912.8" y1="835.7" x2="912.8" y2="868.4" stroke="#555" stroke-width="1.03" />
<line x1="912.8" y1="869.4" x2="912.8" y2="877.6" stroke="#111" stroke-width="1.84" />
<path d="M1030.0 867.4 L1030.0 829.2 Q1032.2 825.2 1034.4 829.2 L1034.4 867.4 L1032.2 870.4 Z" fill="#fff" stroke="#111" stroke-width="1.38" />
<line x1="1032.2" y1="828.7" x2="1032.2" y2="868.4" stroke="#555" stroke-width="1.03" />
<line x1="1032.2" y1="869.4" x2="1032.2" y2="877.6" stroke="#111" stroke-width="1.84" />
<path d="M393.8 878.0 L393.8 889.7 L409.2 889.7 L409.2 878.0" fill="none" stroke="#111" stroke-width="1.61" />
<line x1="543.6" y1="678.5" x2="543.6" y2="845.6" stroke="#111" stroke-width="1.26" />
<g transform="rotate(12 543.6 687.3)">
<rect x="529.2" y="682.7" width="28.8" height="9.2" rx="1.2" fill="#fff" stroke="#111" stroke-width="1.72" />
<rect x="533.8" y="685.7" width="19.6" height="3.2" rx="1" fill="#fff" stroke="#111" stroke-width="1.38" />
<line x1="537.1" y1="687.3" x2="550.1" y2="687.3" stroke="#444" stroke-width="1.49" />
</g>
<line x1="543.6" y1="679.3" x2="543.6" y2="695.3" stroke="#111" stroke-width="1.15" />
<g transform="rotate(-12 543.6 836.4)">
<rect x="529.2" y="831.8" width="28.8" height="9.2" rx="1.2" fill="#fff" stroke="#111" stroke-width="1.72" />
<rect x="533.8" y="834.8" width="19.6" height="3.2" rx="1" fill="#fff" stroke="#111" stroke-width="1.38" />
<line x1="537.1" y1="836.4" x2="550.1" y2="836.4" stroke="#444" stroke-width="1.49" />
</g>
<line x1="543.6" y1="828.4" x2="543.6" y2="844.4" stroke="#111" stroke-width="1.15" />
<line x1="790.3" y1="678.5" x2="790.3" y2="845.6" stroke="#111" stroke-width="1.26" />
<g transform="rotate(-12 790.3 687.3)">
<rect x="775.9" y="682.7" width="28.8" height="9.2" rx="1.2" fill="#fff" stroke="#111" stroke-width="1.72" />
<rect x="780.5" y="685.7" width="19.6" height="3.2" rx="1" fill="#fff" stroke="#111" stroke-width="1.38" />
<line x1="783.8" y1="687.3" x2="796.8" y2="687.3" stroke="#444" stroke-width="1.49" />
</g>
<line x1="790.3" y1="679.3" x2="790.3" y2="695.3" stroke="#111" stroke-width="1.15" />
<g transform="rotate(12 790.3 836.4)">
<rect x="775.9" y="831.8" width="28.8" height="9.2" rx="1.2" fill="#fff" stroke="#111" stroke-width="1.72" />
<rect x="780.5" y="834.8" width="19.6" height="3.2" rx="1" fill="#fff" stroke="#111" stroke-width="1.38" />
<line x1="783.8" y1="836.4" x2="796.8" y2="836.4" stroke="#444" stroke-width="1.49" />
</g>
<line x1="790.3" y1="828.4" x2="790.3" y2="844.4" stroke="#111" stroke-width="1.15" />
<path d="M250.5 682.3 L250.5 679.2 L251.5 678.2 L267.0 678.2 L268.0 679.2 L268.0 682.3" fill="none" stroke="#111" stroke-width="1.38" />
<path d="M300.8 682.3 L300.8 679.2 L301.8 678.2 L317.0 678.2 L318.0 679.2 L318.0 682.3" fill="none" stroke="#111" stroke-width="1.38" />
<path d="M351.0 682.3 L351.0 679.2 L352.0 678.2 L367.5 678.2 L368.5 679.2 L368.5 682.3" fill="none" stroke="#111" stroke-width="1.38" />
<path d="M397.2 682.3 L397.2 678.2 L414.6 678.2 L414.6 690.8 L407.4 690.8" fill="none" stroke="#111" stroke-width="1.38" />
<path d="M407.4 718.4 L413.6 718.4 L414.8 719.6 L414.8 732.6 L413.6 733.8 L407.4 733.8" fill="none" stroke="#111" stroke-width="1.38" />
<path d="M407.4 789.4 L413.6 789.4 L414.8 790.6 L414.8 805.0 L413.6 806.2 L407.4 806.2" fill="none" stroke="#111" stroke-width="1.38" />
<path d="M407.4 833.3 L414.8 833.3 L414.8 845.6 L398.0 845.6 L398.0 841.2" fill="none" stroke="#111" stroke-width="1.38" />
<path d="M351.0 841.2 L351.0 844.6 L368.5 844.6 L368.5 841.2" fill="none" stroke="#111" stroke-width="1.38" />
<path d="M255.6 683.0 L250.5 683.0 L250.5 697.0 L255.6 697.0" fill="none" stroke="#111" stroke-width="1.26" />
<path d="M255.6 718.0 L250.5 718.0 L250.5 734.0 L255.6 734.0" fill="none" stroke="#111" stroke-width="1.26" />
<path d="M255.6 790.0 L250.5 790.0 L250.5 806.0 L255.6 806.0" fill="none" stroke="#111" stroke-width="1.26" />
<path d="M255.6 833.0 L250.5 833.0 L250.5 848.0 L255.6 848.0" fill="none" stroke="#111" stroke-width="1.26" />
<path d="M255.6 856.0 L250.5 856.0 L250.5 866.0 L255.6 866.0" fill="none" stroke="#111" stroke-width="1.26" />
<path d="M255.6 869.0 L250.5 869.0 L250.5 877.0 L255.6 877.0" fill="none" stroke="#111" stroke-width="1.26" />
<path d="M314.9 856.0 L321.0 856.0 L321.0 866.0 L314.9 866.0" fill="none" stroke="#111" stroke-width="1.26" />
<path d="M314.9 869.0 L321.0 869.0 L321.0 876.0 L314.9 876.0" fill="none" stroke="#111" stroke-width="1.26" />
<defs><clipPath id="grc"><path d="M259.4 685.4 L404 685.4 L404 838.0 L311.7 838.0 L311.7 891.1999999999999 L259.4 891.1999999999999 Z"/></clipPath></defs>
<path clip-path="url(#grc)" fill="none" stroke="#151515" stroke-width="1.0" d="M260.05 682.36l1.5-1.75h9.1l1.5 1.75l-1.5 1.75h-9.1zM260.05 687.30l1.5-1.75h9.1l1.5 1.75l-1.5 1.75h-9.1zM260.05 692.24l1.5-1.75h9.1l1.5 1.75l-1.5 1.75h-9.1zM260.05 697.18l1.5-1.75h9.1l1.5 1.75l-1.5 1.75h-9.1zM260.05 702.12l1.5-1.75h9.1l1.5 1.75l-1.5 1.75h-9.1zM260.05 707.06l1.5-1.75h9.1l1.5 1.75l-1.5 1.75h-9.1zM260.05 712.00l1.5-1.75h9.1l1.5 1.75l-1.5 1.75h-9.1zM260.05 716.94l1.5-1.75h9.1l1.5 1.75l-1.5 1.75h-9.1zM260.05 721.88l1.5-1.75h9.1l1.5 1.75l-1.5 1.75h-9.1zM260.05 726.82l1.5-1.75h9.1l1.5 1.75l-1.5 1.75h-9.1zM260.05 731.76l1.5-1.75h9.1l1.5 1.75l-1.5 1.75h-9.1zM260.05 736.70l1.5-1.75h9.1l1.5 1.75l-1.5 1.75h-9.1zM260.05 741.64l1.5-1.75h9.1l1.5 1.75l-1.5 1.75h-9.1zM260.05 746.58l1.5-1.75h9.1l1.5 1.75l-1.5 1.75h-9.1zM260.05 751.52l1.5-1.75h9.1l1.5 1.75l-1.5 1.75h-9.1zM260.05 756.46l1.5-1.75h9.1l1.5 1.75l-1.5 1.75h-9.1zM260.05 761.40l1.5-1.75h9.1l1.5 1.75l-1.5 1.75h-9.1zM260.05 766.34l1.5-1.75h9.1l1.5 1.75l-1.5 1.75h-9.1zM260.05 771.28l1.5-1.75h9.1l1.5 1.75l-1.5 1.75h-9.1zM260.05 776.22l1.5-1.75h9.1l1.5 1.75l-1.5 1.75h-9.1zM260.05 781.16l1.5-1.75h9.1l1.5 1.75l-1.5 1.75h-9.1zM260.05 786.10l1.5-1.75h9.1l1.5 1.75l-1.5 1.75h-9.1zM260.05 791.04l1.5-1.75h9.1l1.5 1.75l-1.5 1.75h-9.1zM260.05 795.98l1.5-1.75h9.1l1.5 1.75l-1.5 1.75h-9.1zM260.05 800.92l1.5-1.75h9.1l1.5 1.75l-1.5 1.75h-9.1zM260.05 805.86l1.5-1.75h9.1l1.5 1.75l-1.5 1.75h-9.1zM260.05 810.80l1.5-1.75h9.1l1.5 1.75l-1.5 1.75h-9.1zM260.05 815.74l1.5-1.75h9.1l1.5 1.75l-1.5 1.75h-9.1zM260.05 820.68l1.5-1.75h9.1l1.5 1.75l-1.5 1.75h-9.1zM260.05 825.62l1.5-1.75h9.1l1.5 1.75l-1.5 1.75h-9.1zM260.05 830.56l1.5-1.75h9.1l1.5 1.75l-1.5 1.75h-9.1zM260.05 835.50l1.5-1.75h9.1l1.5 1.75l-1.5 1.75h-9.1zM260.05 840.44l1.5-1.75h9.1l1.5 1.75l-1.5 1.75h-9.1zM260.05 845.38l1.5-1.75h9.1l1.5 1.75l-1.5 1.75h-9.1zM260.05 850.32l1.5-1.75h9.1l1.5 1.75l-1.5 1.75h-9.1zM260.05 855.26l1.5-1.75h9.1l1.5 1.75l-1.5 1.75h-9.1zM260.05 860.20l1.5-1.75h9.1l1.5 1.75l-1.5 1.75h-9.1zM260.05 865.14l1.5-1.75h9.1l1.5 1.75l-1.5 1.75h-9.1zM260.05 870.08l1.5-1.75h9.1l1.5 1.75l-1.5 1.75h-9.1zM260.05 875.02l1.5-1.75h9.1l1.5 1.75l-1.5 1.75h-9.1zM260.05 879.96l1.5-1.75h9.1l1.5 1.75l-1.5 1.75h-9.1zM260.05 884.90l1.5-1.75h9.1l1.5 1.75l-1.5 1.75h-9.1zM260.05 889.84l1.5-1.75h9.1l1.5 1.75l-1.5 1.75h-9.1zM260.05 894.78l1.5-1.75h9.1l1.5 1.75l-1.5 1.75h-9.1zM272.85 684.83l1.5-1.75h9.1l1.5 1.75l-1.5 1.75h-9.1zM272.85 689.77l1.5-1.75h9.1l1.5 1.75l-1.5 1.75h-9.1zM272.85 694.71l1.5-1.75h9.1l1.5 1.75l-1.5 1.75h-9.1zM272.85 699.65l1.5-1.75h9.1l1.5 1.75l-1.5 1.75h-9.1zM272.85 704.59l1.5-1.75h9.1l1.5 1.75l-1.5 1.75h-9.1zM272.85 709.53l1.5-1.75h9.1l1.5 1.75l-1.5 1.75h-9.1zM272.85 714.47l1.5-1.75h9.1l1.5 1.75l-1.5 1.75h-9.1zM272.85 719.41l1.5-1.75h9.1l1.5 1.75l-1.5 1.75h-9.1zM272.85 724.35l1.5-1.75h9.1l1.5 1.75l-1.5 1.75h-9.1zM272.85 729.29l1.5-1.75h9.1l1.5 1.75l-1.5 1.75h-9.1zM272.85 734.23l1.5-1.75h9.1l1.5 1.75l-1.5 1.75h-9.1zM272.85 739.17l1.5-1.75h9.1l1.5 1.75l-1.5 1.75h-9.1zM272.85 744.11l1.5-1.75h9.1l1.5 1.75l-1.5 1.75h-9.1zM272.85 749.05l1.5-1.75h9.1l1.5 1.75l-1.5 1.75h-9.1zM272.85 753.99l1.5-1.75h9.1l1.5 1.75l-1.5 1.75h-9.1zM272.85 758.93l1.5-1.75h9.1l1.5 1.75l-1.5 1.75h-9.1zM272.85 763.87l1.5-1.75h9.1l1.5 1.75l-1.5 1.75h-9.1zM272.85 768.81l1.5-1.75h9.1l1.5 1.75l-1.5 1.75h-9.1zM272.85 773.75l1.5-1.75h9.1l1.5 1.75l-1.5 1.75h-9.1zM272.85 778.69l1.5-1.75h9.1l1.5 1.75l-1.5 1.75h-9.1zM272.85 783.63l1.5-1.75h9.1l1.5 1.75l-1.5 1.75h-9.1zM272.85 788.57l1.5-1.75h9.1l1.5 1.75l-1.5 1.75h-9.1zM272.85 793.51l1.5-1.75h9.1l1.5 1.75l-1.5 1.75h-9.1zM272.85 798.45l1.5-1.75h9.1l1.5 1.75l-1.5 1.75h-9.1zM272.85 803.39l1.5-1.75h9.1l1.5 1.75l-1.5 1.75h-9.1zM272.85 808.33l1.5-1.75h9.1l1.5 1.75l-1.5 1.75h-9.1zM272.85 813.27l1.5-1.75h9.1l1.5 1.75l-1.5 1.75h-9.1zM272.85 818.21l1.5-1.75h9.1l1.5 1.75l-1.5 1.75h-9.1zM272.85 823.15l1.5-1.75h9.1l1.5 1.75l-1.5 1.75h-9.1zM272.85 828.09l1.5-1.75h9.1l1.5 1.75l-1.5 1.75h-9.1zM272.85 833.03l1.5-1.75h9.1l1.5 1.75l-1.5 1.75h-9.1zM272.85 837.97l1.5-1.75h9.1l1.5 1.75l-1.5 1.75h-9.1zM272.85 842.91l1.5-1.75h9.1l1.5 1.75l-1.5 1.75h-9.1zM272.85 847.85l1.5-1.75h9.1l1.5 1.75l-1.5 1.75h-9.1zM272.85 852.79l1.5-1.75h9.1l1.5 1.75l-1.5 1.75h-9.1zM272.85 857.73l1.5-1.75h9.1l1.5 1.75l-1.5 1.75h-9.1zM272.85 862.67l1.5-1.75h9.1l1.5 1.75l-1.5 1.75h-9.1zM272.85 867.61l1.5-1.75h9.1l1.5 1.75l-1.5 1.75h-9.1zM272.85 872.55l1.5-1.75h9.1l1.5 1.75l-1.5 1.75h-9.1zM272.85 877.49l1.5-1.75h9.1l1.5 1.75l-1.5 1.75h-9.1zM272.85 882.43l1.5-1.75h9.1l1.5 1.75l-1.5 1.75h-9.1zM272.85 887.37l1.5-1.75h9.1l1.5 1.75l-1.5 1.75h-9.1zM272.85 892.31l1.5-1.75h9.1l1.5 1.75l-1.5 1.75h-9.1zM285.65 682.36l1.5-1.75h9.1l1.5 1.75l-1.5 1.75h-9.1zM285.65 687.30l1.5-1.75h9.1l1.5 1.75l-1.5 1.75h-9.1zM285.65 692.24l1.5-1.75h9.1l1.5 1.75l-1.5 1.75h-9.1zM285.65 697.18l1.5-1.75h9.1l1.5 1.75l-1.5 1.75h-9.1zM285.65 702.12l1.5-1.75h9.1l1.5 1.75l-1.5 1.75h-9.1zM285.65 707.06l1.5-1.75h9.1l1.5 1.75l-1.5 1.75h-9.1zM285.65 712.00l1.5-1.75h9.1l1.5 1.75l-1.5 1.75h-9.1zM285.65 716.94l1.5-1.75h9.1l1.5 1.75l-1.5 1.75h-9.1zM285.65 721.88l1.5-1.75h9.1l1.5 1.75l-1.5 1.75h-9.1zM285.65 726.82l1.5-1.75h9.1l1.5 1.75l-1.5 1.75h-9.1zM285.65 731.76l1.5-1.75h9.1l1.5 1.75l-1.5 1.75h-9.1zM285.65 736.70l1.5-1.75h9.1l1.5 1.75l-1.5 1.75h-9.1zM285.65 741.64l1.5-1.75h9.1l1.5 1.75l-1.5 1.75h-9.1zM285.65 746.58l1.5-1.75h9.1l1.5 1.75l-1.5 1.75h-9.1zM285.65 751.52l1.5-1.75h9.1l1.5 1.75l-1.5 1.75h-9.1zM285.65 756.46l1.5-1.75h9.1l1.5 1.75l-1.5 1.75h-9.1zM285.65 761.40l1.5-1.75h9.1l1.5 1.75l-1.5 1.75h-9.1zM285.65 766.34l1.5-1.75h9.1l1.5 1.75l-1.5 1.75h-9.1zM285.65 771.28l1.5-1.75h9.1l1.5 1.75l-1.5 1.75h-9.1zM285.65 776.22l1.5-1.75h9.1l1.5 1.75l-1.5 1.75h-9.1zM285.65 781.16l1.5-1.75h9.1l1.5 1.75l-1.5 1.75h-9.1zM285.65 786.10l1.5-1.75h9.1l1.5 1.75l-1.5 1.75h-9.1zM285.65 791.04l1.5-1.75h9.1l1.5 1.75l-1.5 1.75h-9.1zM285.65 795.98l1.5-1.75h9.1l1.5 1.75l-1.5 1.75h-9.1zM285.65 800.92l1.5-1.75h9.1l1.5 1.75l-1.5 1.75h-9.1zM285.65 805.86l1.5-1.75h9.1l1.5 1.75l-1.5 1.75h-9.1zM285.65 810.80l1.5-1.75h9.1l1.5 1.75l-1.5 1.75h-9.1zM285.65 815.74l1.5-1.75h9.1l1.5 1.75l-1.5 1.75h-9.1zM285.65 820.68l1.5-1.75h9.1l1.5 1.75l-1.5 1.75h-9.1zM285.65 825.62l1.5-1.75h9.1l1.5 1.75l-1.5 1.75h-9.1zM285.65 830.56l1.5-1.75h9.1l1.5 1.75l-1.5 1.75h-9.1zM285.65 835.50l1.5-1.75h9.1l1.5 1.75l-1.5 1.75h-9.1zM285.65 840.44l1.5-1.75h9.1l1.5 1.75l-1.5 1.75h-9.1zM285.65 845.38l1.5-1.75h9.1l1.5 1.75l-1.5 1.75h-9.1zM285.65 850.32l1.5-1.75h9.1l1.5 1.75l-1.5 1.75h-9.1zM285.65 855.26l1.5-1.75h9.1l1.5 1.75l-1.5 1.75h-9.1zM285.65 860.20l1.5-1.75h9.1l1.5 1.75l-1.5 1.75h-9.1zM285.65 865.14l1.5-1.75h9.1l1.5 1.75l-1.5 1.75h-9.1zM285.65 870.08l1.5-1.75h9.1l1.5 1.75l-1.5 1.75h-9.1zM285.65 875.02l1.5-1.75h9.1l1.5 1.75l-1.5 1.75h-9.1zM285.65 879.96l1.5-1.75h9.1l1.5 1.75l-1.5 1.75h-9.1zM285.65 884.90l1.5-1.75h9.1l1.5 1.75l-1.5 1.75h-9.1zM285.65 889.84l1.5-1.75h9.1l1.5 1.75l-1.5 1.75h-9.1zM285.65 894.78l1.5-1.75h9.1l1.5 1.75l-1.5 1.75h-9.1zM298.45 684.83l1.5-1.75h9.1l1.5 1.75l-1.5 1.75h-9.1zM298.45 689.77l1.5-1.75h9.1l1.5 1.75l-1.5 1.75h-9.1zM298.45 694.71l1.5-1.75h9.1l1.5 1.75l-1.5 1.75h-9.1zM298.45 699.65l1.5-1.75h9.1l1.5 1.75l-1.5 1.75h-9.1zM298.45 704.59l1.5-1.75h9.1l1.5 1.75l-1.5 1.75h-9.1zM298.45 709.53l1.5-1.75h9.1l1.5 1.75l-1.5 1.75h-9.1zM298.45 714.47l1.5-1.75h9.1l1.5 1.75l-1.5 1.75h-9.1zM298.45 719.41l1.5-1.75h9.1l1.5 1.75l-1.5 1.75h-9.1zM298.45 724.35l1.5-1.75h9.1l1.5 1.75l-1.5 1.75h-9.1zM298.45 729.29l1.5-1.75h9.1l1.5 1.75l-1.5 1.75h-9.1zM298.45 734.23l1.5-1.75h9.1l1.5 1.75l-1.5 1.75h-9.1zM298.45 739.17l1.5-1.75h9.1l1.5 1.75l-1.5 1.75h-9.1zM298.45 744.11l1.5-1.75h9.1l1.5 1.75l-1.5 1.75h-9.1zM298.45 749.05l1.5-1.75h9.1l1.5 1.75l-1.5 1.75h-9.1zM298.45 753.99l1.5-1.75h9.1l1.5 1.75l-1.5 1.75h-9.1zM298.45 758.93l1.5-1.75h9.1l1.5 1.75l-1.5 1.75h-9.1zM298.45 763.87l1.5-1.75h9.1l1.5 1.75l-1.5 1.75h-9.1zM298.45 768.81l1.5-1.75h9.1l1.5 1.75l-1.5 1.75h-9.1zM298.45 773.75l1.5-1.75h9.1l1.5 1.75l-1.5 1.75h-9.1zM298.45 778.69l1.5-1.75h9.1l1.5 1.75l-1.5 1.75h-9.1zM298.45 783.63l1.5-1.75h9.1l1.5 1.75l-1.5 1.75h-9.1zM298.45 788.57l1.5-1.75h9.1l1.5 1.75l-1.5 1.75h-9.1zM298.45 793.51l1.5-1.75h9.1l1.5 1.75l-1.5 1.75h-9.1zM298.45 798.45l1.5-1.75h9.1l1.5 1.75l-1.5 1.75h-9.1zM298.45 803.39l1.5-1.75h9.1l1.5 1.75l-1.5 1.75h-9.1zM298.45 808.33l1.5-1.75h9.1l1.5 1.75l-1.5 1.75h-9.1zM298.45 813.27l1.5-1.75h9.1l1.5 1.75l-1.5 1.75h-9.1zM298.45 818.21l1.5-1.75h9.1l1.5 1.75l-1.5 1.75h-9.1zM298.45 823.15l1.5-1.75h9.1l1.5 1.75l-1.5 1.75h-9.1zM298.45 828.09l1.5-1.75h9.1l1.5 1.75l-1.5 1.75h-9.1zM298.45 833.03l1.5-1.75h9.1l1.5 1.75l-1.5 1.75h-9.1zM298.45 837.97l1.5-1.75h9.1l1.5 1.75l-1.5 1.75h-9.1zM298.45 842.91l1.5-1.75h9.1l1.5 1.75l-1.5 1.75h-9.1zM298.45 847.85l1.5-1.75h9.1l1.5 1.75l-1.5 1.75h-9.1zM298.45 852.79l1.5-1.75h9.1l1.5 1.75l-1.5 1.75h-9.1zM298.45 857.73l1.5-1.75h9.1l1.5 1.75l-1.5 1.75h-9.1zM298.45 862.67l1.5-1.75h9.1l1.5 1.75l-1.5 1.75h-9.1zM298.45 867.61l1.5-1.75h9.1l1.5 1.75l-1.5 1.75h-9.1zM298.45 872.55l1.5-1.75h9.1l1.5 1.75l-1.5 1.75h-9.1zM298.45 877.49l1.5-1.75h9.1l1.5 1.75l-1.5 1.75h-9.1zM298.45 882.43l1.5-1.75h9.1l1.5 1.75l-1.5 1.75h-9.1zM298.45 887.37l1.5-1.75h9.1l1.5 1.75l-1.5 1.75h-9.1zM298.45 892.31l1.5-1.75h9.1l1.5 1.75l-1.5 1.75h-9.1zM311.25 682.36l1.5-1.75h9.1l1.5 1.75l-1.5 1.75h-9.1zM311.25 687.30l1.5-1.75h9.1l1.5 1.75l-1.5 1.75h-9.1zM311.25 692.24l1.5-1.75h9.1l1.5 1.75l-1.5 1.75h-9.1zM311.25 697.18l1.5-1.75h9.1l1.5 1.75l-1.5 1.75h-9.1zM311.25 702.12l1.5-1.75h9.1l1.5 1.75l-1.5 1.75h-9.1zM311.25 707.06l1.5-1.75h9.1l1.5 1.75l-1.5 1.75h-9.1zM311.25 712.00l1.5-1.75h9.1l1.5 1.75l-1.5 1.75h-9.1zM311.25 716.94l1.5-1.75h9.1l1.5 1.75l-1.5 1.75h-9.1zM311.25 721.88l1.5-1.75h9.1l1.5 1.75l-1.5 1.75h-9.1zM311.25 726.82l1.5-1.75h9.1l1.5 1.75l-1.5 1.75h-9.1zM311.25 731.76l1.5-1.75h9.1l1.5 1.75l-1.5 1.75h-9.1zM311.25 736.70l1.5-1.75h9.1l1.5 1.75l-1.5 1.75h-9.1zM311.25 741.64l1.5-1.75h9.1l1.5 1.75l-1.5 1.75h-9.1zM311.25 746.58l1.5-1.75h9.1l1.5 1.75l-1.5 1.75h-9.1zM311.25 751.52l1.5-1.75h9.1l1.5 1.75l-1.5 1.75h-9.1zM311.25 756.46l1.5-1.75h9.1l1.5 1.75l-1.5 1.75h-9.1zM311.25 761.40l1.5-1.75h9.1l1.5 1.75l-1.5 1.75h-9.1zM311.25 766.34l1.5-1.75h9.1l1.5 1.75l-1.5 1.75h-9.1zM311.25 771.28l1.5-1.75h9.1l1.5 1.75l-1.5 1.75h-9.1zM311.25 776.22l1.5-1.75h9.1l1.5 1.75l-1.5 1.75h-9.1zM311.25 781.16l1.5-1.75h9.1l1.5 1.75l-1.5 1.75h-9.1zM311.25 786.10l1.5-1.75h9.1l1.5 1.75l-1.5 1.75h-9.1zM311.25 791.04l1.5-1.75h9.1l1.5 1.75l-1.5 1.75h-9.1zM311.25 795.98l1.5-1.75h9.1l1.5 1.75l-1.5 1.75h-9.1zM311.25 800.92l1.5-1.75h9.1l1.5 1.75l-1.5 1.75h-9.1zM311.25 805.86l1.5-1.75h9.1l1.5 1.75l-1.5 1.75h-9.1zM311.25 810.80l1.5-1.75h9.1l1.5 1.75l-1.5 1.75h-9.1zM311.25 815.74l1.5-1.75h9.1l1.5 1.75l-1.5 1.75h-9.1zM311.25 820.68l1.5-1.75h9.1l1.5 1.75l-1.5 1.75h-9.1zM311.25 825.62l1.5-1.75h9.1l1.5 1.75l-1.5 1.75h-9.1zM311.25 830.56l1.5-1.75h9.1l1.5 1.75l-1.5 1.75h-9.1zM311.25 835.50l1.5-1.75h9.1l1.5 1.75l-1.5 1.75h-9.1zM311.25 840.44l1.5-1.75h9.1l1.5 1.75l-1.5 1.75h-9.1zM324.05 684.83l1.5-1.75h9.1l1.5 1.75l-1.5 1.75h-9.1zM324.05 689.77l1.5-1.75h9.1l1.5 1.75l-1.5 1.75h-9.1zM324.05 694.71l1.5-1.75h9.1l1.5 1.75l-1.5 1.75h-9.1zM324.05 699.65l1.5-1.75h9.1l1.5 1.75l-1.5 1.75h-9.1zM324.05 704.59l1.5-1.75h9.1l1.5 1.75l-1.5 1.75h-9.1zM324.05 709.53l1.5-1.75h9.1l1.5 1.75l-1.5 1.75h-9.1zM324.05 714.47l1.5-1.75h9.1l1.5 1.75l-1.5 1.75h-9.1zM324.05 719.41l1.5-1.75h9.1l1.5 1.75l-1.5 1.75h-9.1zM324.05 724.35l1.5-1.75h9.1l1.5 1.75l-1.5 1.75h-9.1zM324.05 729.29l1.5-1.75h9.1l1.5 1.75l-1.5 1.75h-9.1zM324.05 734.23l1.5-1.75h9.1l1.5 1.75l-1.5 1.75h-9.1zM324.05 739.17l1.5-1.75h9.1l1.5 1.75l-1.5 1.75h-9.1zM324.05 744.11l1.5-1.75h9.1l1.5 1.75l-1.5 1.75h-9.1zM324.05 749.05l1.5-1.75h9.1l1.5 1.75l-1.5 1.75h-9.1zM324.05 753.99l1.5-1.75h9.1l1.5 1.75l-1.5 1.75h-9.1zM324.05 758.93l1.5-1.75h9.1l1.5 1.75l-1.5 1.75h-9.1zM324.05 763.87l1.5-1.75h9.1l1.5 1.75l-1.5 1.75h-9.1zM324.05 768.81l1.5-1.75h9.1l1.5 1.75l-1.5 1.75h-9.1zM324.05 773.75l1.5-1.75h9.1l1.5 1.75l-1.5 1.75h-9.1zM324.05 778.69l1.5-1.75h9.1l1.5 1.75l-1.5 1.75h-9.1zM324.05 783.63l1.5-1.75h9.1l1.5 1.75l-1.5 1.75h-9.1zM324.05 788.57l1.5-1.75h9.1l1.5 1.75l-1.5 1.75h-9.1zM324.05 793.51l1.5-1.75h9.1l1.5 1.75l-1.5 1.75h-9.1zM324.05 798.45l1.5-1.75h9.1l1.5 1.75l-1.5 1.75h-9.1zM324.05 803.39l1.5-1.75h9.1l1.5 1.75l-1.5 1.75h-9.1zM324.05 808.33l1.5-1.75h9.1l1.5 1.75l-1.5 1.75h-9.1zM324.05 813.27l1.5-1.75h9.1l1.5 1.75l-1.5 1.75h-9.1zM324.05 818.21l1.5-1.75h9.1l1.5 1.75l-1.5 1.75h-9.1zM324.05 823.15l1.5-1.75h9.1l1.5 1.75l-1.5 1.75h-9.1zM324.05 828.09l1.5-1.75h9.1l1.5 1.75l-1.5 1.75h-9.1zM324.05 833.03l1.5-1.75h9.1l1.5 1.75l-1.5 1.75h-9.1zM324.05 837.97l1.5-1.75h9.1l1.5 1.75l-1.5 1.75h-9.1zM324.05 842.91l1.5-1.75h9.1l1.5 1.75l-1.5 1.75h-9.1zM336.85 682.36l1.5-1.75h9.1l1.5 1.75l-1.5 1.75h-9.1zM336.85 687.30l1.5-1.75h9.1l1.5 1.75l-1.5 1.75h-9.1zM336.85 692.24l1.5-1.75h9.1l1.5 1.75l-1.5 1.75h-9.1zM336.85 697.18l1.5-1.75h9.1l1.5 1.75l-1.5 1.75h-9.1zM336.85 702.12l1.5-1.75h9.1l1.5 1.75l-1.5 1.75h-9.1zM336.85 707.06l1.5-1.75h9.1l1.5 1.75l-1.5 1.75h-9.1zM336.85 712.00l1.5-1.75h9.1l1.5 1.75l-1.5 1.75h-9.1zM336.85 716.94l1.5-1.75h9.1l1.5 1.75l-1.5 1.75h-9.1zM336.85 721.88l1.5-1.75h9.1l1.5 1.75l-1.5 1.75h-9.1zM336.85 726.82l1.5-1.75h9.1l1.5 1.75l-1.5 1.75h-9.1zM336.85 731.76l1.5-1.75h9.1l1.5 1.75l-1.5 1.75h-9.1zM336.85 736.70l1.5-1.75h9.1l1.5 1.75l-1.5 1.75h-9.1zM336.85 741.64l1.5-1.75h9.1l1.5 1.75l-1.5 1.75h-9.1zM336.85 746.58l1.5-1.75h9.1l1.5 1.75l-1.5 1.75h-9.1zM336.85 751.52l1.5-1.75h9.1l1.5 1.75l-1.5 1.75h-9.1zM336.85 756.46l1.5-1.75h9.1l1.5 1.75l-1.5 1.75h-9.1zM336.85 761.40l1.5-1.75h9.1l1.5 1.75l-1.5 1.75h-9.1zM336.85 766.34l1.5-1.75h9.1l1.5 1.75l-1.5 1.75h-9.1zM336.85 771.28l1.5-1.75h9.1l1.5 1.75l-1.5 1.75h-9.1zM336.85 776.22l1.5-1.75h9.1l1.5 1.75l-1.5 1.75h-9.1zM336.85 781.16l1.5-1.75h9.1l1.5 1.75l-1.5 1.75h-9.1zM336.85 786.10l1.5-1.75h9.1l1.5 1.75l-1.5 1.75h-9.1zM336.85 791.04l1.5-1.75h9.1l1.5 1.75l-1.5 1.75h-9.1zM336.85 795.98l1.5-1.75h9.1l1.5 1.75l-1.5 1.75h-9.1zM336.85 800.92l1.5-1.75h9.1l1.5 1.75l-1.5 1.75h-9.1zM336.85 805.86l1.5-1.75h9.1l1.5 1.75l-1.5 1.75h-9.1zM336.85 810.80l1.5-1.75h9.1l1.5 1.75l-1.5 1.75h-9.1zM336.85 815.74l1.5-1.75h9.1l1.5 1.75l-1.5 1.75h-9.1zM336.85 820.68l1.5-1.75h9.1l1.5 1.75l-1.5 1.75h-9.1zM336.85 825.62l1.5-1.75h9.1l1.5 1.75l-1.5 1.75h-9.1zM336.85 830.56l1.5-1.75h9.1l1.5 1.75l-1.5 1.75h-9.1zM336.85 835.50l1.5-1.75h9.1l1.5 1.75l-1.5 1.75h-9.1zM336.85 840.44l1.5-1.75h9.1l1.5 1.75l-1.5 1.75h-9.1zM349.65 684.83l1.5-1.75h9.1l1.5 1.75l-1.5 1.75h-9.1zM349.65 689.77l1.5-1.75h9.1l1.5 1.75l-1.5 1.75h-9.1zM349.65 694.71l1.5-1.75h9.1l1.5 1.75l-1.5 1.75h-9.1zM349.65 699.65l1.5-1.75h9.1l1.5 1.75l-1.5 1.75h-9.1zM349.65 704.59l1.5-1.75h9.1l1.5 1.75l-1.5 1.75h-9.1zM349.65 709.53l1.5-1.75h9.1l1.5 1.75l-1.5 1.75h-9.1zM349.65 714.47l1.5-1.75h9.1l1.5 1.75l-1.5 1.75h-9.1zM349.65 719.41l1.5-1.75h9.1l1.5 1.75l-1.5 1.75h-9.1zM349.65 724.35l1.5-1.75h9.1l1.5 1.75l-1.5 1.75h-9.1zM349.65 729.29l1.5-1.75h9.1l1.5 1.75l-1.5 1.75h-9.1zM349.65 734.23l1.5-1.75h9.1l1.5 1.75l-1.5 1.75h-9.1zM349.65 739.17l1.5-1.75h9.1l1.5 1.75l-1.5 1.75h-9.1zM349.65 744.11l1.5-1.75h9.1l1.5 1.75l-1.5 1.75h-9.1zM349.65 749.05l1.5-1.75h9.1l1.5 1.75l-1.5 1.75h-9.1zM349.65 753.99l1.5-1.75h9.1l1.5 1.75l-1.5 1.75h-9.1zM349.65 758.93l1.5-1.75h9.1l1.5 1.75l-1.5 1.75h-9.1zM349.65 763.87l1.5-1.75h9.1l1.5 1.75l-1.5 1.75h-9.1zM349.65 768.81l1.5-1.75h9.1l1.5 1.75l-1.5 1.75h-9.1zM349.65 773.75l1.5-1.75h9.1l1.5 1.75l-1.5 1.75h-9.1zM349.65 778.69l1.5-1.75h9.1l1.5 1.75l-1.5 1.75h-9.1zM349.65 783.63l1.5-1.75h9.1l1.5 1.75l-1.5 1.75h-9.1zM349.65 788.57l1.5-1.75h9.1l1.5 1.75l-1.5 1.75h-9.1zM349.65 793.51l1.5-1.75h9.1l1.5 1.75l-1.5 1.75h-9.1zM349.65 798.45l1.5-1.75h9.1l1.5 1.75l-1.5 1.75h-9.1zM349.65 803.39l1.5-1.75h9.1l1.5 1.75l-1.5 1.75h-9.1zM349.65 808.33l1.5-1.75h9.1l1.5 1.75l-1.5 1.75h-9.1zM349.65 813.27l1.5-1.75h9.1l1.5 1.75l-1.5 1.75h-9.1zM349.65 818.21l1.5-1.75h9.1l1.5 1.75l-1.5 1.75h-9.1zM349.65 823.15l1.5-1.75h9.1l1.5 1.75l-1.5 1.75h-9.1zM349.65 828.09l1.5-1.75h9.1l1.5 1.75l-1.5 1.75h-9.1zM349.65 833.03l1.5-1.75h9.1l1.5 1.75l-1.5 1.75h-9.1zM349.65 837.97l1.5-1.75h9.1l1.5 1.75l-1.5 1.75h-9.1zM349.65 842.91l1.5-1.75h9.1l1.5 1.75l-1.5 1.75h-9.1zM362.45 682.36l1.5-1.75h9.1l1.5 1.75l-1.5 1.75h-9.1zM362.45 687.30l1.5-1.75h9.1l1.5 1.75l-1.5 1.75h-9.1zM362.45 692.24l1.5-1.75h9.1l1.5 1.75l-1.5 1.75h-9.1zM362.45 697.18l1.5-1.75h9.1l1.5 1.75l-1.5 1.75h-9.1zM362.45 702.12l1.5-1.75h9.1l1.5 1.75l-1.5 1.75h-9.1zM362.45 707.06l1.5-1.75h9.1l1.5 1.75l-1.5 1.75h-9.1zM362.45 712.00l1.5-1.75h9.1l1.5 1.75l-1.5 1.75h-9.1zM362.45 716.94l1.5-1.75h9.1l1.5 1.75l-1.5 1.75h-9.1zM362.45 721.88l1.5-1.75h9.1l1.5 1.75l-1.5 1.75h-9.1zM362.45 726.82l1.5-1.75h9.1l1.5 1.75l-1.5 1.75h-9.1zM362.45 731.76l1.5-1.75h9.1l1.5 1.75l-1.5 1.75h-9.1zM362.45 736.70l1.5-1.75h9.1l1.5 1.75l-1.5 1.75h-9.1zM362.45 741.64l1.5-1.75h9.1l1.5 1.75l-1.5 1.75h-9.1zM362.45 746.58l1.5-1.75h9.1l1.5 1.75l-1.5 1.75h-9.1zM362.45 751.52l1.5-1.75h9.1l1.5 1.75l-1.5 1.75h-9.1zM362.45 756.46l1.5-1.75h9.1l1.5 1.75l-1.5 1.75h-9.1zM362.45 761.40l1.5-1.75h9.1l1.5 1.75l-1.5 1.75h-9.1zM362.45 766.34l1.5-1.75h9.1l1.5 1.75l-1.5 1.75h-9.1zM362.45 771.28l1.5-1.75h9.1l1.5 1.75l-1.5 1.75h-9.1zM362.45 776.22l1.5-1.75h9.1l1.5 1.75l-1.5 1.75h-9.1zM362.45 781.16l1.5-1.75h9.1l1.5 1.75l-1.5 1.75h-9.1zM362.45 786.10l1.5-1.75h9.1l1.5 1.75l-1.5 1.75h-9.1zM362.45 791.04l1.5-1.75h9.1l1.5 1.75l-1.5 1.75h-9.1zM362.45 795.98l1.5-1.75h9.1l1.5 1.75l-1.5 1.75h-9.1zM362.45 800.92l1.5-1.75h9.1l1.5 1.75l-1.5 1.75h-9.1zM362.45 805.86l1.5-1.75h9.1l1.5 1.75l-1.5 1.75h-9.1zM362.45 810.80l1.5-1.75h9.1l1.5 1.75l-1.5 1.75h-9.1zM362.45 815.74l1.5-1.75h9.1l1.5 1.75l-1.5 1.75h-9.1zM362.45 820.68l1.5-1.75h9.1l1.5 1.75l-1.5 1.75h-9.1zM362.45 825.62l1.5-1.75h9.1l1.5 1.75l-1.5 1.75h-9.1zM362.45 830.56l1.5-1.75h9.1l1.5 1.75l-1.5 1.75h-9.1zM362.45 835.50l1.5-1.75h9.1l1.5 1.75l-1.5 1.75h-9.1zM362.45 840.44l1.5-1.75h9.1l1.5 1.75l-1.5 1.75h-9.1zM375.25 684.83l1.5-1.75h9.1l1.5 1.75l-1.5 1.75h-9.1zM375.25 689.77l1.5-1.75h9.1l1.5 1.75l-1.5 1.75h-9.1zM375.25 694.71l1.5-1.75h9.1l1.5 1.75l-1.5 1.75h-9.1zM375.25 699.65l1.5-1.75h9.1l1.5 1.75l-1.5 1.75h-9.1zM375.25 704.59l1.5-1.75h9.1l1.5 1.75l-1.5 1.75h-9.1zM375.25 709.53l1.5-1.75h9.1l1.5 1.75l-1.5 1.75h-9.1zM375.25 714.47l1.5-1.75h9.1l1.5 1.75l-1.5 1.75h-9.1zM375.25 719.41l1.5-1.75h9.1l1.5 1.75l-1.5 1.75h-9.1zM375.25 724.35l1.5-1.75h9.1l1.5 1.75l-1.5 1.75h-9.1zM375.25 729.29l1.5-1.75h9.1l1.5 1.75l-1.5 1.75h-9.1zM375.25 734.23l1.5-1.75h9.1l1.5 1.75l-1.5 1.75h-9.1zM375.25 739.17l1.5-1.75h9.1l1.5 1.75l-1.5 1.75h-9.1zM375.25 744.11l1.5-1.75h9.1l1.5 1.75l-1.5 1.75h-9.1zM375.25 749.05l1.5-1.75h9.1l1.5 1.75l-1.5 1.75h-9.1zM375.25 753.99l1.5-1.75h9.1l1.5 1.75l-1.5 1.75h-9.1zM375.25 758.93l1.5-1.75h9.1l1.5 1.75l-1.5 1.75h-9.1zM375.25 763.87l1.5-1.75h9.1l1.5 1.75l-1.5 1.75h-9.1zM375.25 768.81l1.5-1.75h9.1l1.5 1.75l-1.5 1.75h-9.1zM375.25 773.75l1.5-1.75h9.1l1.5 1.75l-1.5 1.75h-9.1zM375.25 778.69l1.5-1.75h9.1l1.5 1.75l-1.5 1.75h-9.1zM375.25 783.63l1.5-1.75h9.1l1.5 1.75l-1.5 1.75h-9.1zM375.25 788.57l1.5-1.75h9.1l1.5 1.75l-1.5 1.75h-9.1zM375.25 793.51l1.5-1.75h9.1l1.5 1.75l-1.5 1.75h-9.1zM375.25 798.45l1.5-1.75h9.1l1.5 1.75l-1.5 1.75h-9.1zM375.25 803.39l1.5-1.75h9.1l1.5 1.75l-1.5 1.75h-9.1zM375.25 808.33l1.5-1.75h9.1l1.5 1.75l-1.5 1.75h-9.1zM375.25 813.27l1.5-1.75h9.1l1.5 1.75l-1.5 1.75h-9.1zM375.25 818.21l1.5-1.75h9.1l1.5 1.75l-1.5 1.75h-9.1zM375.25 823.15l1.5-1.75h9.1l1.5 1.75l-1.5 1.75h-9.1zM375.25 828.09l1.5-1.75h9.1l1.5 1.75l-1.5 1.75h-9.1zM375.25 833.03l1.5-1.75h9.1l1.5 1.75l-1.5 1.75h-9.1zM375.25 837.97l1.5-1.75h9.1l1.5 1.75l-1.5 1.75h-9.1zM375.25 842.91l1.5-1.75h9.1l1.5 1.75l-1.5 1.75h-9.1zM388.05 682.36l1.5-1.75h9.1l1.5 1.75l-1.5 1.75h-9.1zM388.05 687.30l1.5-1.75h9.1l1.5 1.75l-1.5 1.75h-9.1zM388.05 692.24l1.5-1.75h9.1l1.5 1.75l-1.5 1.75h-9.1zM388.05 697.18l1.5-1.75h9.1l1.5 1.75l-1.5 1.75h-9.1zM388.05 702.12l1.5-1.75h9.1l1.5 1.75l-1.5 1.75h-9.1zM388.05 707.06l1.5-1.75h9.1l1.5 1.75l-1.5 1.75h-9.1zM388.05 712.00l1.5-1.75h9.1l1.5 1.75l-1.5 1.75h-9.1zM388.05 716.94l1.5-1.75h9.1l1.5 1.75l-1.5 1.75h-9.1zM388.05 721.88l1.5-1.75h9.1l1.5 1.75l-1.5 1.75h-9.1zM388.05 726.82l1.5-1.75h9.1l1.5 1.75l-1.5 1.75h-9.1zM388.05 731.76l1.5-1.75h9.1l1.5 1.75l-1.5 1.75h-9.1zM388.05 736.70l1.5-1.75h9.1l1.5 1.75l-1.5 1.75h-9.1zM388.05 741.64l1.5-1.75h9.1l1.5 1.75l-1.5 1.75h-9.1zM388.05 746.58l1.5-1.75h9.1l1.5 1.75l-1.5 1.75h-9.1zM388.05 751.52l1.5-1.75h9.1l1.5 1.75l-1.5 1.75h-9.1zM388.05 756.46l1.5-1.75h9.1l1.5 1.75l-1.5 1.75h-9.1zM388.05 761.40l1.5-1.75h9.1l1.5 1.75l-1.5 1.75h-9.1zM388.05 766.34l1.5-1.75h9.1l1.5 1.75l-1.5 1.75h-9.1zM388.05 771.28l1.5-1.75h9.1l1.5 1.75l-1.5 1.75h-9.1zM388.05 776.22l1.5-1.75h9.1l1.5 1.75l-1.5 1.75h-9.1zM388.05 781.16l1.5-1.75h9.1l1.5 1.75l-1.5 1.75h-9.1zM388.05 786.10l1.5-1.75h9.1l1.5 1.75l-1.5 1.75h-9.1zM388.05 791.04l1.5-1.75h9.1l1.5 1.75l-1.5 1.75h-9.1zM388.05 795.98l1.5-1.75h9.1l1.5 1.75l-1.5 1.75h-9.1zM388.05 800.92l1.5-1.75h9.1l1.5 1.75l-1.5 1.75h-9.1zM388.05 805.86l1.5-1.75h9.1l1.5 1.75l-1.5 1.75h-9.1zM388.05 810.80l1.5-1.75h9.1l1.5 1.75l-1.5 1.75h-9.1zM388.05 815.74l1.5-1.75h9.1l1.5 1.75l-1.5 1.75h-9.1zM388.05 820.68l1.5-1.75h9.1l1.5 1.75l-1.5 1.75h-9.1zM388.05 825.62l1.5-1.75h9.1l1.5 1.75l-1.5 1.75h-9.1zM388.05 830.56l1.5-1.75h9.1l1.5 1.75l-1.5 1.75h-9.1zM388.05 835.50l1.5-1.75h9.1l1.5 1.75l-1.5 1.75h-9.1zM388.05 840.44l1.5-1.75h9.1l1.5 1.75l-1.5 1.75h-9.1zM400.85 684.83l1.5-1.75h9.1l1.5 1.75l-1.5 1.75h-9.1zM400.85 689.77l1.5-1.75h9.1l1.5 1.75l-1.5 1.75h-9.1zM400.85 694.71l1.5-1.75h9.1l1.5 1.75l-1.5 1.75h-9.1zM400.85 699.65l1.5-1.75h9.1l1.5 1.75l-1.5 1.75h-9.1zM400.85 704.59l1.5-1.75h9.1l1.5 1.75l-1.5 1.75h-9.1zM400.85 709.53l1.5-1.75h9.1l1.5 1.75l-1.5 1.75h-9.1zM400.85 714.47l1.5-1.75h9.1l1.5 1.75l-1.5 1.75h-9.1zM400.85 719.41l1.5-1.75h9.1l1.5 1.75l-1.5 1.75h-9.1zM400.85 724.35l1.5-1.75h9.1l1.5 1.75l-1.5 1.75h-9.1zM400.85 729.29l1.5-1.75h9.1l1.5 1.75l-1.5 1.75h-9.1zM400.85 734.23l1.5-1.75h9.1l1.5 1.75l-1.5 1.75h-9.1zM400.85 739.17l1.5-1.75h9.1l1.5 1.75l-1.5 1.75h-9.1zM400.85 744.11l1.5-1.75h9.1l1.5 1.75l-1.5 1.75h-9.1zM400.85 749.05l1.5-1.75h9.1l1.5 1.75l-1.5 1.75h-9.1zM400.85 753.99l1.5-1.75h9.1l1.5 1.75l-1.5 1.75h-9.1zM400.85 758.93l1.5-1.75h9.1l1.5 1.75l-1.5 1.75h-9.1zM400.85 763.87l1.5-1.75h9.1l1.5 1.75l-1.5 1.75h-9.1zM400.85 768.81l1.5-1.75h9.1l1.5 1.75l-1.5 1.75h-9.1zM400.85 773.75l1.5-1.75h9.1l1.5 1.75l-1.5 1.75h-9.1zM400.85 778.69l1.5-1.75h9.1l1.5 1.75l-1.5 1.75h-9.1zM400.85 783.63l1.5-1.75h9.1l1.5 1.75l-1.5 1.75h-9.1zM400.85 788.57l1.5-1.75h9.1l1.5 1.75l-1.5 1.75h-9.1zM400.85 793.51l1.5-1.75h9.1l1.5 1.75l-1.5 1.75h-9.1zM400.85 798.45l1.5-1.75h9.1l1.5 1.75l-1.5 1.75h-9.1zM400.85 803.39l1.5-1.75h9.1l1.5 1.75l-1.5 1.75h-9.1zM400.85 808.33l1.5-1.75h9.1l1.5 1.75l-1.5 1.75h-9.1zM400.85 813.27l1.5-1.75h9.1l1.5 1.75l-1.5 1.75h-9.1zM400.85 818.21l1.5-1.75h9.1l1.5 1.75l-1.5 1.75h-9.1zM400.85 823.15l1.5-1.75h9.1l1.5 1.75l-1.5 1.75h-9.1zM400.85 828.09l1.5-1.75h9.1l1.5 1.75l-1.5 1.75h-9.1zM400.85 833.03l1.5-1.75h9.1l1.5 1.75l-1.5 1.75h-9.1zM400.85 837.97l1.5-1.75h9.1l1.5 1.75l-1.5 1.75h-9.1zM400.85 842.91l1.5-1.75h9.1l1.5 1.75l-1.5 1.75h-9.1z"/>
<path d="M255.6 682.3 L407.4 682.3 L407.4 841.2 L314.9 841.2 L314.9 892.4 L255.6 892.4 Z" fill="none" stroke="#111" stroke-width="1.84" />
<path d="M258.2 684.9 L405.0 684.9 L405.0 839.0 L312.5 839.0 L312.5 892.4 M258.2 892.4 L258.2 684.9" fill="none" stroke="#111" stroke-width="1.49" />
<line x1="327.0" y1="684.8" x2="331.0" y2="682.2" stroke="#111" stroke-width="1.84" />
<line x1="406.0" y1="682.3" x2="406.0" y2="841.2" stroke="#888" stroke-width="1.38" />
<line x1="255.6" y1="891.8" x2="314.9" y2="891.8" stroke="#111" stroke-width="2.07" />
<rect x="313.0" y="841.0" width="3.2" height="5.0" rx="0" fill="#fff" stroke="#111" stroke-width="1.15" />
<circle cx="300.4" cy="762.2" r="34.4" fill="#fff" stroke="#111" stroke-width="1.84"/>
<circle cx="300.4" cy="762.2" r="31.2" fill="none" stroke="#111" stroke-width="1.49"/>
<circle cx="328.2" cy="765.9" r="1.7" fill="#111" stroke="#111" stroke-width="0.69"/>
<circle cx="326.3" cy="772.9" r="1.7" fill="#111" stroke="#111" stroke-width="0.69"/>
<circle cx="322.6" cy="779.2" r="1.7" fill="#111" stroke="#111" stroke-width="0.69"/>
<circle cx="317.4" cy="784.4" r="1.7" fill="#111" stroke="#111" stroke-width="0.69"/>
<circle cx="311.1" cy="788.1" r="1.7" fill="#111" stroke="#111" stroke-width="0.69"/>
<circle cx="304.1" cy="790.0" r="1.7" fill="#111" stroke="#111" stroke-width="0.69"/>
<circle cx="296.7" cy="790.0" r="1.7" fill="#111" stroke="#111" stroke-width="0.69"/>
<circle cx="289.7" cy="788.1" r="1.7" fill="#111" stroke="#111" stroke-width="0.69"/>
<circle cx="283.4" cy="784.4" r="1.7" fill="#111" stroke="#111" stroke-width="0.69"/>
<circle cx="278.2" cy="779.2" r="1.7" fill="#111" stroke="#111" stroke-width="0.69"/>
<circle cx="274.5" cy="772.9" r="1.7" fill="#111" stroke="#111" stroke-width="0.69"/>
<circle cx="272.6" cy="765.9" r="1.7" fill="#111" stroke="#111" stroke-width="0.69"/>
<circle cx="272.6" cy="758.5" r="1.7" fill="#111" stroke="#111" stroke-width="0.69"/>
<circle cx="274.5" cy="751.5" r="1.7" fill="#111" stroke="#111" stroke-width="0.69"/>
<circle cx="278.2" cy="745.2" r="1.7" fill="#111" stroke="#111" stroke-width="0.69"/>
<circle cx="283.4" cy="740.0" r="1.7" fill="#111" stroke="#111" stroke-width="0.69"/>
<circle cx="289.7" cy="736.3" r="1.7" fill="#111" stroke="#111" stroke-width="0.69"/>
<circle cx="296.7" cy="734.4" r="1.7" fill="#111" stroke="#111" stroke-width="0.69"/>
<circle cx="304.1" cy="734.4" r="1.7" fill="#111" stroke="#111" stroke-width="0.69"/>
<circle cx="311.1" cy="736.3" r="1.7" fill="#111" stroke="#111" stroke-width="0.69"/>
<circle cx="317.4" cy="740.0" r="1.7" fill="#111" stroke="#111" stroke-width="0.69"/>
<circle cx="322.6" cy="745.2" r="1.7" fill="#111" stroke="#111" stroke-width="0.69"/>
<circle cx="326.3" cy="751.5" r="1.7" fill="#111" stroke="#111" stroke-width="0.69"/>
<circle cx="328.2" cy="758.5" r="1.7" fill="#111" stroke="#111" stroke-width="0.69"/>
<circle cx="300.4" cy="762.2" r="29.4" fill="none" stroke="#111" stroke-width="1.72"/>
<circle cx="287.4" cy="760.4" r="5.6" fill="#fff" stroke="#111" stroke-width="1.38"/>
<circle cx="287.4" cy="760.4" r="3.4" fill="none" stroke="#111" stroke-width="1.15"/>
<line x1="280.0" y1="760.4" x2="295.0" y2="760.4" stroke="#111" stroke-width="1.03" />
<line x1="287.4" y1="753.0" x2="287.4" y2="768.0" stroke="#111" stroke-width="1.03" />
<path d="M271.5 755.0 L277.5 758.0 L277.5 765.0 L271.5 768.0 Z" fill="#1c1c1c" stroke="#111" stroke-width="1.15" />
<line x1="255.6" y1="761.8" x2="407.4" y2="761.8" stroke="#111" stroke-width="1.38" />
<path d="M404.6 761.8 L406.4 759.8 L408.2 761.8 L406.4 763.8 Z" fill="#111" stroke="#111" stroke-width="0.92" />
<rect x="265.4" y="604.0" width="22.6" height="24.0" rx="1.5" fill="#fff" stroke="#111" stroke-width="1.49" />
<text x="273.2" y="621.7" font-size="16" text-anchor="start" textLength="7.9" lengthAdjust="spacingAndGlyphs" stroke="#fff" stroke-width="0.25" >Г</text>
<rect x="300.3" y="604.0" width="22.6" height="24.0" rx="1.5" fill="#fff" stroke="#111" stroke-width="1.49" />
<text x="307.9" y="621.7" font-size="16" text-anchor="start" textLength="8.4" lengthAdjust="spacingAndGlyphs" stroke="#fff" stroke-width="0.25" >Е</text>
<line x1="287.8" y1="628.0" x2="287.8" y2="762.0" stroke="#111" stroke-width="1.26" />
<line x1="300.7" y1="628.0" x2="300.7" y2="796.0" stroke="#111" stroke-width="1.26" />
<rect x="234.0" y="753.0" width="18.0" height="6.4" rx="1.5" fill="#fff" stroke="#111" stroke-width="1.26" />
<rect x="241.4" y="757.2" width="22.4" height="9.2" rx="1.5" fill="#fff" stroke="#111" stroke-width="1.38" />
<path d="M258.2 892.4 Q252.2 906 250.9 923.6 A35.05 34.4 0 0 0 321 923.6 Q319.6 906 315.4 892.4" fill="none" stroke="#111" stroke-width="1.61" />
<line x1="249.5" y1="923.6" x2="322.5" y2="923.6" stroke="#111" stroke-width="1.38" />
<line x1="285.8" y1="892.4" x2="285.8" y2="958.0" stroke="#111" stroke-width="1.38" />
<rect x="47.4" y="677.8" width="24.6" height="24.0" rx="1.5" fill="#fff" stroke="#111" stroke-width="1.49" />
<text x="55.6" y="695.5" font-size="16" text-anchor="start" textLength="9.3" lengthAdjust="spacingAndGlyphs" stroke="#fff" stroke-width="0.25" >А</text>
<rect x="48.9" y="738.7" width="23.1" height="23.2" rx="1.5" fill="#fff" stroke="#111" stroke-width="1.49" />
<text x="56.6" y="756.0" font-size="16" text-anchor="start" textLength="8.8" lengthAdjust="spacingAndGlyphs" stroke="#fff" stroke-width="0.25" >В</text>
<rect x="72.0" y="738.7" width="23.6" height="23.2" rx="1.5" fill="#fff" stroke="#111" stroke-width="1.49" />
<text x="79.6" y="756.0" font-size="16" text-anchor="start" textLength="9.3" lengthAdjust="spacingAndGlyphs" stroke="#fff" stroke-width="0.25" >Д</text>
<rect x="48.9" y="766.8" width="23.1" height="23.8" rx="1.5" fill="#fff" stroke="#111" stroke-width="1.49" />
<text x="56.6" y="784.4" font-size="16" text-anchor="start" textLength="8.8" lengthAdjust="spacingAndGlyphs" stroke="#fff" stroke-width="0.25" >Б</text>
<rect x="130.9" y="791.6" width="23.2" height="23.6" rx="1.5" fill="#fff" stroke="#111" stroke-width="1.49" />
<text x="138.1" y="809.1" font-size="16" text-anchor="start" textLength="9.8" lengthAdjust="spacingAndGlyphs" stroke="#fff" stroke-width="0.25" >И</text>
<rect x="161.7" y="811.9" width="23.5" height="23.8" rx="1.5" fill="#fff" stroke="#111" stroke-width="1.49" />
<text x="169.5" y="829.5" font-size="16" text-anchor="start" textLength="8.8" lengthAdjust="spacingAndGlyphs" stroke="#fff" stroke-width="0.25" >К</text>
<line x1="72.0" y1="701.8" x2="153.0" y2="701.8" stroke="#111" stroke-width="1.26" />
<line x1="95.6" y1="761.9" x2="115.0" y2="761.9" stroke="#111" stroke-width="1.26" />
<line x1="72.0" y1="766.8" x2="115.0" y2="766.8" stroke="#111" stroke-width="1.26" />
<line x1="154.0" y1="791.6" x2="200.2" y2="791.6" stroke="#111" stroke-width="1.26" />
<line x1="185.0" y1="811.9" x2="200.2" y2="811.9" stroke="#111" stroke-width="1.26" />
<path d="M178.7 696.6 L190 696.6 Q208.4 697.2 208.6 722 L208.6 742 Q208.4 771.4 190 771.8 L178.7 771.8" fill="none" stroke="#111" stroke-width="1.49" />
<path d="M178.7 704.6 L188 704.6 Q195.2 705 195.4 722 L195.4 742 Q195.2 763.6 188 764 L178.7 764" fill="none" stroke="#111" stroke-width="1.49" />
<path d="M178.7 699.4 L189 699.4 Q204.4 700 204.6 722" fill="none" stroke="#444" stroke-width="0.92" />
<path d="M178.7 701.8 L189 701.8 Q199.6 702.4 199.8 722" fill="none" stroke="#444" stroke-width="0.92" />
<path d="M178.7 769 L189 769 Q204.4 768.6 204.6 742" fill="none" stroke="#444" stroke-width="0.92" />
<path d="M178.7 766.6 L189 766.6 Q199.6 766.2 199.8 742" fill="none" stroke="#444" stroke-width="0.92" />
<line x1="185.0" y1="696.6" x2="185.0" y2="704.6" stroke="#111" stroke-width="1.15" />
<line x1="188.4" y1="696.6" x2="188.4" y2="704.8" stroke="#111" stroke-width="1.15" />
<line x1="185.0" y1="764.0" x2="185.0" y2="771.8" stroke="#111" stroke-width="1.15" />
<line x1="188.4" y1="764.0" x2="188.4" y2="771.8" stroke="#111" stroke-width="1.15" />
<line x1="191.0" y1="697.0" x2="192.6" y2="705.4" stroke="#111" stroke-width="1.15" />
<line x1="191.0" y1="771.6" x2="192.6" y2="763.6" stroke="#111" stroke-width="1.15" />
<line x1="195.8" y1="714.0" x2="207.6" y2="711.0" stroke="#111" stroke-width="1.15" />
<line x1="195.4" y1="722.0" x2="208.6" y2="722.0" stroke="#111" stroke-width="1.15" />
<line x1="195.4" y1="742.0" x2="208.6" y2="742.0" stroke="#111" stroke-width="1.15" />
<line x1="195.8" y1="751.0" x2="207.6" y2="754.0" stroke="#111" stroke-width="1.15" />
<line x1="199.8" y1="722.0" x2="199.8" y2="742.0" stroke="#444" stroke-width="0.92" />
<line x1="204.6" y1="722.0" x2="204.6" y2="742.0" stroke="#444" stroke-width="0.92" />
<line x1="193.5" y1="731.8" x2="223.5" y2="731.8" stroke="#111" stroke-width="1.38" />
<path d="M203.2 725.4 L209.6 731.8 L203.2 738.2" fill="none" stroke="#111" stroke-width="1.49" />
<rect x="208.6" y="726.2" width="9.0" height="11.4" rx="0" fill="#fff" stroke="#111" stroke-width="1.26" />
<rect x="217.6" y="722.6" width="4.0" height="5.0" rx="0" fill="#222" stroke="#111" stroke-width="0.92" />
<line x1="217.0" y1="726.2" x2="221.0" y2="726.2" stroke="#111" stroke-width="1.38" />
<rect x="153.0" y="692.0" width="4.6" height="17.6" rx="1.5" fill="#1c1c1c" stroke="#111" stroke-width="1.15" />
<rect x="174.2" y="692.0" width="4.6" height="17.6" rx="1.5" fill="#1c1c1c" stroke="#111" stroke-width="1.15" />
<rect x="154.0" y="694.4" width="2.6" height="12.8" rx="0" fill="none" stroke="#999" stroke-width="0.69" />
<rect x="175.2" y="694.4" width="2.6" height="12.8" rx="0" fill="none" stroke="#999" stroke-width="0.69" />
<circle cx="165.9" cy="700.8" r="7.2" fill="#fff" stroke="#111" stroke-width="2.53"/>
<circle cx="165.9" cy="700.8" r="3.0" fill="none" stroke="#111" stroke-width="1.15"/>
<line x1="159.3" y1="700.8" x2="172.5" y2="700.8" stroke="#111" stroke-width="1.03" />
<line x1="165.9" y1="694.2" x2="165.9" y2="707.4" stroke="#111" stroke-width="1.03" />
<path d="M163.7 700.8 L165.9 698.6 L168.1 700.8 L165.9 703.0 Z" fill="#222" stroke="#111" stroke-width="0.57" />
<rect x="150.9" y="757.0" width="4.6" height="18.8" rx="1.5" fill="#1c1c1c" stroke="#111" stroke-width="1.15" />
<rect x="174.1" y="757.0" width="4.6" height="18.8" rx="1.5" fill="#1c1c1c" stroke="#111" stroke-width="1.15" />
<rect x="151.9" y="759.4" width="2.6" height="14.0" rx="0" fill="none" stroke="#999" stroke-width="0.69" />
<rect x="175.1" y="759.4" width="2.6" height="14.0" rx="0" fill="none" stroke="#999" stroke-width="0.69" />
<circle cx="164.8" cy="766.4" r="8.0" fill="#fff" stroke="#111" stroke-width="2.53"/>
<circle cx="164.8" cy="766.4" r="3.8" fill="none" stroke="#111" stroke-width="1.15"/>
<line x1="157.4" y1="766.4" x2="172.2" y2="766.4" stroke="#111" stroke-width="1.03" />
<line x1="164.8" y1="759.0" x2="164.8" y2="773.8" stroke="#111" stroke-width="1.03" />
<path d="M162.6 766.4 L164.8 764.2 L167.0 766.4 L164.8 768.6 Z" fill="#222" stroke="#111" stroke-width="0.57" />
<path d="M126.4 757.4 L131.6 757.4 L141.0 761.6 L151.0 761.6 L151.0 770.6 L141.0 770.6 L131.6 775.0 L126.4 775.0 Z" fill="#fff" stroke="#111" stroke-width="1.38" />
<line x1="129.4" y1="757.4" x2="129.4" y2="775.0" stroke="#111" stroke-width="1.03" />
<line x1="131.6" y1="757.4" x2="131.6" y2="775.0" stroke="#111" stroke-width="1.03" />
<line x1="141.0" y1="761.6" x2="141.0" y2="770.6" stroke="#111" stroke-width="1.03" />
<line x1="145.4" y1="761.6" x2="145.4" y2="770.6" stroke="#111" stroke-width="1.03" />
<rect x="116.2" y="757.0" width="9.0" height="20.0" rx="2.5" fill="#fff" stroke="#111" stroke-width="1.38" />
<line x1="118.4" y1="756.4" x2="118.4" y2="777.6" stroke="#111" stroke-width="1.26" />
<line x1="120.6" y1="756.4" x2="120.6" y2="777.6" stroke="#111" stroke-width="1.26" />
<line x1="122.8" y1="756.4" x2="122.8" y2="777.6" stroke="#111" stroke-width="1.26" />
<rect x="119.0" y="755.2" width="3.4" height="2.2" rx="0" fill="#222" stroke="#111" stroke-width="0.92" />
<rect x="119.0" y="776.6" width="3.4" height="2.2" rx="0" fill="#222" stroke="#111" stroke-width="0.92" />
<rect x="200.4" y="784.6" width="3.6" height="13.2" rx="1.3" fill="#1c1c1c" stroke="#111" stroke-width="1.15" />
<rect x="216.8" y="784.6" width="3.6" height="13.2" rx="1.3" fill="#1c1c1c" stroke="#111" stroke-width="1.15" />
<circle cx="210.4" cy="791.2" r="6.2" fill="#fff" stroke="#111" stroke-width="2.3"/>
<circle cx="210.4" cy="791.2" r="2.8" fill="none" stroke="#111" stroke-width="1.03"/>
<line x1="203.9" y1="791.2" x2="216.9" y2="791.2" stroke="#111" stroke-width="1.03" />
<line x1="210.4" y1="784.7" x2="210.4" y2="797.7" stroke="#111" stroke-width="1.03" />
<rect x="200.4" y="805.0" width="3.6" height="13.2" rx="1.3" fill="#1c1c1c" stroke="#111" stroke-width="1.15" />
<rect x="216.8" y="805.0" width="3.6" height="13.2" rx="1.3" fill="#1c1c1c" stroke="#111" stroke-width="1.15" />
<circle cx="210.4" cy="811.6" r="6.2" fill="#fff" stroke="#111" stroke-width="2.3"/>
<circle cx="210.4" cy="811.6" r="2.8" fill="none" stroke="#111" stroke-width="1.03"/>
<line x1="203.9" y1="811.6" x2="216.9" y2="811.6" stroke="#111" stroke-width="1.03" />
<line x1="210.4" y1="805.1" x2="210.4" y2="818.1" stroke="#111" stroke-width="1.03" />
<line x1="220.4" y1="811.6" x2="229.6" y2="811.6" stroke="#111" stroke-width="1.38" />
<rect x="220.4" y="807.6" width="3.0" height="8.0" rx="0" fill="#222" stroke="#111" stroke-width="0.92" />
<rect x="220.4" y="787.6" width="2.2" height="7.2" rx="0" fill="#222" stroke="#111" stroke-width="0.92" />
</g>
<g id="p_view3">
<line x1="1513.9" y1="399.0" x2="1513.9" y2="428.2" stroke="#111" stroke-width="1.38" />
<line x1="1518.6" y1="399.0" x2="1518.6" y2="426.0" stroke="#111" stroke-width="1.38" />
<line x1="1530.0" y1="399.0" x2="1530.0" y2="421.5" stroke="#111" stroke-width="1.38" />
<line x1="1535.7" y1="399.0" x2="1535.7" y2="419.6" stroke="#111" stroke-width="1.38" />
<line x1="1548.3" y1="399.0" x2="1548.3" y2="416.2" stroke="#111" stroke-width="1.38" />
<line x1="1616.4" y1="399.0" x2="1616.4" y2="416.3" stroke="#111" stroke-width="1.38" />
<line x1="1629.7" y1="399.0" x2="1629.7" y2="419.8" stroke="#111" stroke-width="1.38" />
<line x1="1633.7" y1="399.0" x2="1633.7" y2="421.2" stroke="#111" stroke-width="1.38" />
<line x1="1645.6" y1="399.0" x2="1645.6" y2="425.8" stroke="#111" stroke-width="1.38" />
<line x1="1651.0" y1="399.0" x2="1651.0" y2="428.4" stroke="#111" stroke-width="1.38" />
<line x1="1474.2" y1="399.0" x2="1474.2" y2="455.7" stroke="#111" stroke-width="1.49" />
<line x1="1480.2" y1="399.0" x2="1480.2" y2="450.3" stroke="#111" stroke-width="1.49" />
<line x1="1685.9" y1="399.0" x2="1685.9" y2="451.6" stroke="#111" stroke-width="1.49" />
<line x1="1691.3" y1="399.0" x2="1691.3" y2="456.6" stroke="#111" stroke-width="1.49" />
<ellipse cx="1482.8" cy="423.0" rx="1.6" ry="7.5" fill="#fff" stroke="#111" stroke-width="1.15" />
<ellipse cx="1482.8" cy="423.0" rx="0.6" ry="5.0" fill="#333" stroke="#111" stroke-width="0.92" />
<ellipse cx="1683.6" cy="421.0" rx="1.6" ry="7.5" fill="#fff" stroke="#111" stroke-width="1.15" />
<ellipse cx="1683.6" cy="421.0" rx="0.6" ry="5.0" fill="#333" stroke="#111" stroke-width="0.92" />
<line x1="1755.4" y1="400.0" x2="1713.6" y2="479.2" stroke="#111" stroke-width="1.49" />
<line x1="1759.0" y1="405.0" x2="1719.4" y2="484.6" stroke="#111" stroke-width="1.49" />
<line x1="1728.9" y1="513.7" x2="1759.0" y2="513.7" stroke="#111" stroke-width="1.38" />
<line x1="1728.9" y1="517.8" x2="1759.0" y2="517.8" stroke="#111" stroke-width="1.38" />
<line x1="1730.3" y1="621.0" x2="1759.0" y2="621.0" stroke="#111" stroke-width="1.38" />
<line x1="1730.3" y1="625.2" x2="1759.0" y2="625.2" stroke="#111" stroke-width="1.38" />
<circle cx="1582.3" cy="569.3" r="156.8" fill="none" stroke="#111" stroke-width="2.3"/>
<circle cx="1582.3" cy="569.3" r="34.0" fill="none" stroke="#111" stroke-width="1.72"/>
<line x1="1423.0" y1="569.3" x2="1741.6" y2="569.3" stroke="#111" stroke-width="1.26" />
<path d="M1739.0 562.8 L1753.5 562.8 L1754.7 564.0 L1754.7 574.7 L1753.5 575.9 L1739.0 575.9" fill="none" stroke="#111" stroke-width="1.38" />
<rect x="1582.2" y="77.1" width="30.8" height="32.2" rx="1.5" fill="#fff" stroke="#111" stroke-width="1.38" />
<text x="1592.1" y="101.1" font-size="22" text-anchor="start" textLength="12.0" lengthAdjust="spacingAndGlyphs" stroke="#fff" stroke-width="0.3" >Д</text>
<rect x="1613.0" y="77.1" width="30.2" height="32.2" rx="1.5" fill="#fff" stroke="#111" stroke-width="1.38" />
<text x="1623.1" y="101.1" font-size="22" text-anchor="start" textLength="11.0" lengthAdjust="spacingAndGlyphs" stroke="#fff" stroke-width="0.3" >Е</text>
<line x1="1582.2" y1="77.0" x2="1582.2" y2="804.0" stroke="#111" stroke-width="1.26" />
<rect x="1575.2" y="117.0" width="14.1" height="17.0" rx="1.2" fill="none" stroke="#111" stroke-width="1.38" />
<path d="M1574.6 136.6 L1577.4 135.2 L1587.2 135.2 L1590.6 136.6 L1588.4 140.5 L1586.6 144.0 L1578.2 144.0 L1576.6 140.5 Z" fill="#222" stroke="#111" stroke-width="1.15" />
<rect x="1579.4" y="135.6" width="5.8" height="3.0" rx="0" fill="none" stroke="#ccc" stroke-width="0.69" />
<line x1="1578.5" y1="144.0" x2="1578.5" y2="357.0" stroke="#111" stroke-width="1.38" />
<line x1="1584.6" y1="144.0" x2="1584.6" y2="357.0" stroke="#111" stroke-width="1.38" />
<line x1="1587.0" y1="144.0" x2="1587.0" y2="357.0" stroke="#111" stroke-width="1.38" />
<line x1="1570.4" y1="269.6" x2="1576.6" y2="269.6" stroke="#111" stroke-width="1.84" />
<line x1="1576.6" y1="269.6" x2="1576.6" y2="278.0" stroke="#111" stroke-width="1.61" />
<rect x="1574.6" y="277.0" width="13.6" height="3.2" rx="0" fill="#222" stroke="#111" stroke-width="0.92" />
<path d="M1572.2 356.2 L1575.6 353.4 L1577.0 358.5 L1574.0 360.6 Z" fill="#222" stroke="#111" stroke-width="0.92" />
<path d="M1587.6 352.4 L1590.6 350.0 L1593.4 356.0 L1589.6 359.5 Z" fill="#222" stroke="#111" stroke-width="0.92" />
<rect x="1577.6" y="356.0" width="11.0" height="4.2" rx="0" fill="#fff" stroke="#111" stroke-width="1.15" />
<path d="M1574.2 360.5 L1574.2 368.5 A8.1 8.1 0 0 0 1590.4 368.5 L1590.4 360.5" fill="none" stroke="#111" stroke-width="1.49" />
<path d="M1577.6 360.5 L1577.6 368.5 A4.7 4.7 0 0 0 1587 368.5 L1587 360.5" fill="none" stroke="#111" stroke-width="1.15" />
<line x1="1575.0" y1="364.5" x2="1590.0" y2="364.5" stroke="#111" stroke-width="1.03" />
<line x1="1574.4" y1="369.5" x2="1590.2" y2="369.5" stroke="#111" stroke-width="1.03" />
<line x1="1580.0" y1="360.0" x2="1580.0" y2="375.0" stroke="#111" stroke-width="0.92" />
<line x1="1584.6" y1="360.0" x2="1584.6" y2="375.0" stroke="#111" stroke-width="0.92" />
<rect x="1473.6" y="246.2" width="285.8" height="4.6" rx="1.5" fill="none" stroke="#111" stroke-width="1.38" />
<line x1="1480.2" y1="287.3" x2="1754.2" y2="287.3" stroke="#111" stroke-width="1.38" />
<line x1="1480.2" y1="291.9" x2="1754.2" y2="291.9" stroke="#111" stroke-width="1.38" />
<line x1="1480.2" y1="328.1" x2="1754.2" y2="328.1" stroke="#111" stroke-width="1.38" />
<line x1="1480.2" y1="332.8" x2="1754.2" y2="332.8" stroke="#111" stroke-width="1.38" />
<line x1="1480.2" y1="368.0" x2="1754.2" y2="368.0" stroke="#111" stroke-width="1.38" />
<line x1="1474.1" y1="250.0" x2="1474.1" y2="399.0" stroke="#111" stroke-width="1.49" />
<line x1="1480.2" y1="250.8" x2="1480.2" y2="386.0" stroke="#111" stroke-width="1.38" />
<line x1="1754.2" y1="250.8" x2="1754.2" y2="386.0" stroke="#111" stroke-width="1.38" />
<line x1="1759.2" y1="250.0" x2="1759.2" y2="751.0" stroke="#111" stroke-width="1.49" />
<line x1="1661.2" y1="250.8" x2="1661.2" y2="368.0" stroke="#111" stroke-width="1.38" />
<line x1="1665.8" y1="250.8" x2="1665.8" y2="368.0" stroke="#111" stroke-width="1.38" />
<line x1="1686.2" y1="250.8" x2="1686.2" y2="368.0" stroke="#111" stroke-width="2.3" />
<line x1="1691.3" y1="250.8" x2="1691.3" y2="368.0" stroke="#111" stroke-width="1.38" />
<line x1="1575.4" y1="250.8" x2="1575.4" y2="368.0" stroke="#111" stroke-width="1.26" />
<rect x="1684.6" y="244.6" width="5.4" height="2.0" rx="0" fill="#222" stroke="#111" stroke-width="0.92" />
<line x1="1473.6" y1="385.8" x2="1759.4" y2="385.8" stroke="#111" stroke-width="2.76" />
<rect x="1473.6" y="385.8" width="285.8" height="13.2" rx="0" fill="none" stroke="#111" stroke-width="1.38" />
<line x1="1766.6" y1="246.0" x2="1766.6" y2="751.0" stroke="#111" stroke-width="1.38" />
<path d="M1758.6 749 Q1758.8 751 1760.5 751 L1765 751 Q1766.6 751 1766.6 749" fill="none" stroke="#111" stroke-width="1.38" />
<line x1="1757.4" y1="427.6" x2="1765.0" y2="427.6" stroke="#111" stroke-width="1.61" />
<rect x="1760.8" y="425.8" width="2.4" height="3.6" rx="0" fill="#222" stroke="#111" stroke-width="0.69" />
<line x1="1757.4" y1="461.5" x2="1765.0" y2="461.5" stroke="#111" stroke-width="1.61" />
<rect x="1760.8" y="459.7" width="2.4" height="3.6" rx="0" fill="#222" stroke="#111" stroke-width="0.69" />
<line x1="1757.4" y1="495.2" x2="1765.0" y2="495.2" stroke="#111" stroke-width="1.61" />
<rect x="1760.8" y="493.4" width="2.4" height="3.6" rx="0" fill="#222" stroke="#111" stroke-width="0.69" />
<line x1="1757.4" y1="529.2" x2="1765.0" y2="529.2" stroke="#111" stroke-width="1.61" />
<rect x="1760.8" y="527.4" width="2.4" height="3.6" rx="0" fill="#222" stroke="#111" stroke-width="0.69" />
<line x1="1757.4" y1="562.8" x2="1765.0" y2="562.8" stroke="#111" stroke-width="1.61" />
<rect x="1760.8" y="561.0" width="2.4" height="3.6" rx="0" fill="#222" stroke="#111" stroke-width="0.69" />
<line x1="1757.4" y1="596.8" x2="1765.0" y2="596.8" stroke="#111" stroke-width="1.61" />
<rect x="1760.8" y="595.0" width="2.4" height="3.6" rx="0" fill="#222" stroke="#111" stroke-width="0.69" />
<line x1="1757.4" y1="630.5" x2="1765.0" y2="630.5" stroke="#111" stroke-width="1.61" />
<rect x="1760.8" y="628.7" width="2.4" height="3.6" rx="0" fill="#222" stroke="#111" stroke-width="0.69" />
<line x1="1757.4" y1="664.4" x2="1765.0" y2="664.4" stroke="#111" stroke-width="1.61" />
<rect x="1760.8" y="662.6" width="2.4" height="3.6" rx="0" fill="#222" stroke="#111" stroke-width="0.69" />
<line x1="1757.4" y1="698.0" x2="1765.0" y2="698.0" stroke="#111" stroke-width="1.61" />
<rect x="1760.8" y="696.2" width="2.4" height="3.6" rx="0" fill="#222" stroke="#111" stroke-width="0.69" />
<line x1="1757.4" y1="731.8" x2="1765.0" y2="731.8" stroke="#111" stroke-width="1.61" />
<rect x="1760.8" y="730.0" width="2.4" height="3.6" rx="0" fill="#222" stroke="#111" stroke-width="0.69" />
<line x1="1795.8" y1="250.8" x2="1795.8" y2="512.0" stroke="#111" stroke-width="1.38" />
<line x1="1801.0" y1="250.8" x2="1801.0" y2="512.0" stroke="#111" stroke-width="1.38" />
<line x1="1831.9" y1="250.8" x2="1831.9" y2="512.0" stroke="#111" stroke-width="1.38" />
<line x1="1836.6" y1="250.8" x2="1836.6" y2="512.0" stroke="#111" stroke-width="1.38" />
<path d="M1759.4 246.2 L1844.6 246.2 Q1847.6 248.5 1844.6 250.8 L1759.4 250.8" fill="none" stroke="#111" stroke-width="1.38" />
<path d="M1766.6 334 L1844.6 334 Q1847.4 336.4 1844.6 338.8 L1766.6 338.8" fill="none" stroke="#111" stroke-width="1.38" />
<path d="M1766.6 420.5 L1844.6 420.5 Q1847.4 422.85 1844.6 425.2 L1766.6 425.2" fill="none" stroke="#111" stroke-width="1.38" />
<path d="M1766.6 507 L1844.6 507 Q1847.4 509.65 1844.6 512.3 L1766.6 512.3" fill="none" stroke="#111" stroke-width="1.38" />
<line x1="1450.0" y1="655.8" x2="1450.0" y2="747.0" stroke="#111" stroke-width="2.3" />
<line x1="1715.0" y1="655.8" x2="1715.0" y2="747.0" stroke="#111" stroke-width="2.3" />
<line x1="1518.6" y1="713.9" x2="1518.6" y2="747.0" stroke="#111" stroke-width="1.49" />
<line x1="1646.3" y1="713.9" x2="1646.3" y2="747.0" stroke="#111" stroke-width="1.49" />
<rect x="1442.8" y="747.1" width="279.8" height="4.3" rx="1" fill="none" stroke="#111" stroke-width="1.49" />
<line x1="1695.4" y1="740.0" x2="1695.4" y2="751.0" stroke="#111" stroke-width="1.38" />
<path d="M1450 670.9 L1438.6 670.9 Q1432.6 671.4 1432.6 678.4 Q1432.6 685.4 1438.6 685.9 L1450 685.9" fill="none" stroke="#111" stroke-width="1.61" />
<ellipse cx="1441.4" cy="678.4" rx="4.6" ry="2.6" fill="none" stroke="#111" stroke-width="1.26" />
<ellipse cx="1441.4" cy="678.4" rx="1.6" ry="1.6" fill="#333" stroke="#111" stroke-width="0.92" />
<path d="M1715 670.9 L1726 670.9 Q1732 671.4 1732 678.4 Q1732 685.4 1726 685.9 L1715 685.9" fill="none" stroke="#111" stroke-width="1.61" />
<ellipse cx="1723.4" cy="678.4" rx="4.6" ry="2.6" fill="none" stroke="#111" stroke-width="1.26" />
<ellipse cx="1723.4" cy="678.4" rx="1.6" ry="1.6" fill="#333" stroke="#111" stroke-width="0.92" />
<path d="M1442.6 730.5 L1447.0 728.6 L1447.0 732.4 Z" fill="#111" stroke="#111" stroke-width="0.92" />
<line x1="1446.0" y1="730.5" x2="1453.0" y2="730.5" stroke="#111" stroke-width="1.38" />
<path d="M1725.4 730.5 L1721.0 728.6 L1721.0 732.4 Z" fill="#111" stroke="#111" stroke-width="0.92" />
<line x1="1714.0" y1="730.5" x2="1722.0" y2="730.5" stroke="#111" stroke-width="1.38" />
<rect x="1578.4" y="727.0" width="7.8" height="6.0" rx="0" fill="#fff" stroke="#111" stroke-width="1.26" />
<line x1="1579.4" y1="733.4" x2="1585.2" y2="733.4" stroke="#111" stroke-width="1.84" />
<line x1="1582.2" y1="733.0" x2="1582.2" y2="747.0" stroke="#111" stroke-width="2.53" />
<line x1="1534.3" y1="423.1" x2="1656.7" y2="704.1" stroke="#111" stroke-width="1.95" />
<line x1="1538.5" y1="421.3" x2="1660.9" y2="702.3" stroke="#111" stroke-width="1.26" />
<line x1="1660.9" y1="702.3" x2="1656.7" y2="704.1" stroke="#111" stroke-width="1.38" />
<path d="M1533.6 429.2 L1536.4 421.2 L1541.2 427.2 Z" fill="#fff" stroke="#111" stroke-width="1.26" />
<path d="M1545.9 448.3 L1542.8 451.2 L1546.6 451.5 Z" fill="#111" stroke="#111" stroke-width="0.92" />
<line x1="1550.1" y1="448.0" x2="1545.9" y2="449.8" stroke="#111" stroke-width="1.03" />
<path d="M1556.3 472.2 L1553.2 475.1 L1557.0 475.3 Z" fill="#111" stroke="#111" stroke-width="0.92" />
<line x1="1560.5" y1="471.9" x2="1556.3" y2="473.7" stroke="#111" stroke-width="1.03" />
<path d="M1566.4 495.3 L1563.2 498.1 L1567.1 498.4 Z" fill="#111" stroke="#111" stroke-width="0.92" />
<line x1="1570.6" y1="494.9" x2="1566.4" y2="496.7" stroke="#111" stroke-width="1.03" />
<path d="M1576.5 518.6 L1573.4 521.4 L1577.2 521.7 Z" fill="#111" stroke="#111" stroke-width="0.92" />
<line x1="1580.7" y1="518.2" x2="1576.5" y2="520.1" stroke="#111" stroke-width="1.03" />
<path d="M1586.7 541.9 L1583.6 544.7 L1587.4 545.0 Z" fill="#111" stroke="#111" stroke-width="0.92" />
<line x1="1590.9" y1="541.5" x2="1586.7" y2="543.4" stroke="#111" stroke-width="1.03" />
<path d="M1596.7 565.0 L1593.6 567.8 L1597.4 568.1 Z" fill="#111" stroke="#111" stroke-width="0.92" />
<line x1="1600.9" y1="564.6" x2="1596.7" y2="566.4" stroke="#111" stroke-width="1.03" />
<path d="M1606.8 588.0 L1603.6 590.8 L1607.5 591.1 Z" fill="#111" stroke="#111" stroke-width="0.92" />
<line x1="1611.0" y1="587.6" x2="1606.8" y2="589.5" stroke="#111" stroke-width="1.03" />
<path d="M1616.9 611.3 L1613.8 614.2 L1617.6 614.4 Z" fill="#111" stroke="#111" stroke-width="0.92" />
<line x1="1621.1" y1="611.0" x2="1616.9" y2="612.8" stroke="#111" stroke-width="1.03" />
<path d="M1626.9 634.4 L1623.8 637.2 L1627.7 637.5 Z" fill="#111" stroke="#111" stroke-width="0.92" />
<line x1="1631.2" y1="634.0" x2="1626.9" y2="635.8" stroke="#111" stroke-width="1.03" />
<rect x="1622.5" y="573.0" width="29.7" height="30.9" rx="1.5" fill="#fff" stroke="#111" stroke-width="1.38" />
<text x="1631.3" y="596.3" font-size="22" text-anchor="start" textLength="13.0" lengthAdjust="spacingAndGlyphs" stroke="#fff" stroke-width="0.3" >И</text>
<rect x="1651.0" y="606.7" width="29.7" height="31.3" rx="1.5" fill="#fff" stroke="#111" stroke-width="1.38" />
<text x="1660.3" y="630.2" font-size="22" text-anchor="start" textLength="12.0" lengthAdjust="spacingAndGlyphs" stroke="#fff" stroke-width="0.3" >К</text>
<line x1="1622.5" y1="603.9" x2="1622.5" y2="640.0" stroke="#111" stroke-width="1.26" />
<line x1="1651.0" y1="638.0" x2="1651.0" y2="668.0" stroke="#111" stroke-width="1.26" />
<line x1="1530.0" y1="661.8" x2="1550.0" y2="661.8" stroke="#111" stroke-width="2.3" />
<line x1="1540.0" y1="658.8" x2="1540.0" y2="702.8" stroke="#111" stroke-width="1.26" />
<line x1="1537.4" y1="662.8" x2="1537.4" y2="688.8" stroke="#111" stroke-width="1.15" />
<line x1="1542.6" y1="662.8" x2="1542.6" y2="688.8" stroke="#111" stroke-width="1.15" />
<rect x="1533.6" y="683.8" width="12.8" height="5.5" rx="0" fill="#fff" stroke="#111" stroke-width="1.26" />
<rect x="1535.6" y="689.3" width="8.8" height="7.5" rx="0" fill="#fff" stroke="#111" stroke-width="1.15" />
<circle cx="1540.0" cy="702.8" r="10.6" fill="#fff" stroke="#111" stroke-width="1.84"/>
<circle cx="1540.0" cy="702.8" r="7.8" fill="none" stroke="#333" stroke-width="0.92"/>
<circle cx="1540.0" cy="702.8" r="4.5" fill="none" stroke="#111" stroke-width="1.38"/>
<circle cx="1540.0" cy="702.8" r="2.3" fill="none" stroke="#111" stroke-width="1.03"/>
<line x1="1527.9" y1="702.8" x2="1552.1" y2="702.8" stroke="#111" stroke-width="0.92" />
<line x1="1540.0" y1="690.7" x2="1540.0" y2="714.9" stroke="#111" stroke-width="0.92" />
<circle cx="1547.2" cy="705.8" r="1.0" fill="#111" stroke="#111" stroke-width="0.57"/>
<circle cx="1543.0" cy="710.0" r="1.0" fill="#111" stroke="#111" stroke-width="0.57"/>
<circle cx="1537.0" cy="710.0" r="1.0" fill="#111" stroke="#111" stroke-width="0.57"/>
<circle cx="1532.8" cy="705.8" r="1.0" fill="#111" stroke="#111" stroke-width="0.57"/>
<circle cx="1532.8" cy="699.8" r="1.0" fill="#111" stroke="#111" stroke-width="0.57"/>
<circle cx="1537.0" cy="695.6" r="1.0" fill="#111" stroke="#111" stroke-width="0.57"/>
<circle cx="1543.0" cy="695.6" r="1.0" fill="#111" stroke="#111" stroke-width="0.57"/>
<circle cx="1547.2" cy="699.8" r="1.0" fill="#111" stroke="#111" stroke-width="0.57"/>
<line x1="1612.2" y1="622.2" x2="1632.2" y2="622.2" stroke="#111" stroke-width="2.3" />
<line x1="1622.2" y1="619.2" x2="1622.2" y2="654.2" stroke="#111" stroke-width="1.26" />
<line x1="1619.6" y1="623.2" x2="1619.6" y2="640.2" stroke="#111" stroke-width="1.15" />
<line x1="1624.8" y1="623.2" x2="1624.8" y2="640.2" stroke="#111" stroke-width="1.15" />
<rect x="1615.8" y="635.2" width="12.8" height="5.5" rx="0" fill="#fff" stroke="#111" stroke-width="1.26" />
<rect x="1617.8" y="640.7" width="8.8" height="7.5" rx="0" fill="#fff" stroke="#111" stroke-width="1.15" />
<circle cx="1621.8" cy="654.2" r="9.8" fill="#8a8a8a" stroke="#111" stroke-width="1.84"/>
<circle cx="1621.8" cy="654.2" r="6.4" fill="#c4c4c4" stroke="#111" stroke-width="1.15"/>
<circle cx="1621.8" cy="654.2" r="3.0" fill="#555" stroke="#111" stroke-width="1.15"/>
<line x1="1609.0" y1="654.2" x2="1635.0" y2="654.2" stroke="#111" stroke-width="1.03" />
<rect x="1619.5" y="668.5" width="18.0" height="11.5" rx="0" fill="#fff" stroke="#111" stroke-width="1.26" />
<rect x="1624.0" y="680.0" width="10.0" height="5.5" rx="0" fill="#fff" stroke="#111" stroke-width="1.15" />
<line x1="1640.3" y1="650.0" x2="1660.3" y2="650.0" stroke="#111" stroke-width="2.3" />
<line x1="1650.3" y1="647.0" x2="1650.3" y2="681.5" stroke="#111" stroke-width="1.26" />
<line x1="1647.7" y1="651.0" x2="1647.7" y2="667.5" stroke="#111" stroke-width="1.15" />
<line x1="1652.9" y1="651.0" x2="1652.9" y2="667.5" stroke="#111" stroke-width="1.15" />
<rect x="1643.9" y="662.5" width="12.8" height="5.5" rx="0" fill="#fff" stroke="#111" stroke-width="1.26" />
<rect x="1645.9" y="668.0" width="8.8" height="7.5" rx="0" fill="#fff" stroke="#111" stroke-width="1.15" />
<circle cx="1650.3" cy="681.5" r="9.8" fill="#8a8a8a" stroke="#111" stroke-width="1.84"/>
<circle cx="1650.3" cy="681.5" r="6.4" fill="#c4c4c4" stroke="#111" stroke-width="1.15"/>
<circle cx="1650.3" cy="681.5" r="3.0" fill="#555" stroke="#111" stroke-width="1.15"/>
<line x1="1638.0" y1="681.5" x2="1663.0" y2="681.5" stroke="#111" stroke-width="1.03" />
<path d="M1552.0 698.4 L1556.0 697.0 L1568.4 692.2 L1568.4 713.2 L1556.0 708.6 L1552.0 707.4 Z" fill="#fff" stroke="#111" stroke-width="1.38" />
<path d="M1612.6 698.4 L1608.6 697.0 L1597.0 692.2 L1597.0 713.2 L1608.6 708.6 L1612.6 707.4 Z" fill="#fff" stroke="#111" stroke-width="1.38" />
<line x1="1556.0" y1="697.0" x2="1556.0" y2="708.6" stroke="#111" stroke-width="1.03" />
<line x1="1608.6" y1="697.0" x2="1608.6" y2="708.6" stroke="#111" stroke-width="1.03" />
<path d="M1568.4 692.2 L1571.5 689.4 Q1582.3 684.6 1593.4 689.4 L1597 692.2 L1597 713.2 L1593.4 716 Q1582.3 720.6 1571.5 716 L1568.4 713.2 Z" fill="#fff" stroke="#111" stroke-width="1.49" />
<line x1="1568.4" y1="692.2" x2="1597.0" y2="692.2" stroke="#111" stroke-width="1.03" />
<line x1="1568.4" y1="713.2" x2="1597.0" y2="713.2" stroke="#111" stroke-width="1.03" />
<line x1="1552.0" y1="702.8" x2="1612.6" y2="702.8" stroke="#111" stroke-width="0.92" />
<line x1="1575.2" y1="688.0" x2="1575.2" y2="717.6" stroke="#111" stroke-width="0.92" />
<line x1="1589.6" y1="688.0" x2="1589.6" y2="717.6" stroke="#111" stroke-width="0.92" />
<line x1="1568.4" y1="697.5" x2="1597.0" y2="697.5" stroke="#444" stroke-width="0.8" />
<line x1="1568.4" y1="708.0" x2="1597.0" y2="708.0" stroke="#444" stroke-width="0.8" />
<path d="M1575.4 689.8 L1577.6 686.4 L1579.8 689.8 Z" fill="#222" stroke="#111" stroke-width="0.69" />
<path d="M1585.2 689.8 L1587.4 686.4 L1589.6 689.8 Z" fill="#222" stroke="#111" stroke-width="0.69" />
<path d="M1575.4 715.6 L1577.6 719.0 L1579.8 715.6 Z" fill="#222" stroke="#111" stroke-width="0.69" />
<path d="M1585.2 715.6 L1587.4 719.0 L1589.6 715.6 Z" fill="#222" stroke="#111" stroke-width="0.69" />
<circle cx="1629.0" cy="701.8" r="14.4" fill="#fff" stroke="#111" stroke-width="1.84"/>
<circle cx="1629.0" cy="701.8" r="12.2" fill="none" stroke="#111" stroke-width="1.26"/>
<line x1="1618.5" y1="701.8" x2="1639.5" y2="701.8" stroke="#111" stroke-width="0.92" />
<rect x="1626.8" y="684.6" width="4.4" height="4.0" rx="0" fill="#fff" stroke="#111" stroke-width="1.03" />
<rect x="1626.8" y="715.6" width="4.4" height="3.4" rx="0" fill="#fff" stroke="#111" stroke-width="1.03" />
<path d="M1612.6 698.4 L1614.8 698.4 M1612.6 707.4 L1614.8 707.4" fill="none" stroke="#111" stroke-width="1.15" />
<line x1="1540.0" y1="690.0" x2="1540.0" y2="770.3" stroke="#111" stroke-width="1.26" />
<line x1="1628.4" y1="676.0" x2="1628.4" y2="772.0" stroke="#111" stroke-width="1.26" />
<rect x="1508.0" y="770.3" width="32.0" height="32.1" rx="1.5" fill="#fff" stroke="#111" stroke-width="1.38" />
<text x="1518.2" y="794.2" font-size="22" text-anchor="start" textLength="12.5" lengthAdjust="spacingAndGlyphs" stroke="#fff" stroke-width="0.3" >А</text>
<rect x="1582.2" y="771.0" width="30.8" height="31.8" rx="1.5" fill="#fff" stroke="#111" stroke-width="1.38" />
<text x="1592.3" y="794.8" font-size="22" text-anchor="start" textLength="11.5" lengthAdjust="spacingAndGlyphs" stroke="#fff" stroke-width="0.3" >В</text>
<rect x="1582.2" y="803.6" width="33.2" height="31.7" rx="1.5" fill="#fff" stroke="#111" stroke-width="1.38" />
<text x="1592.3" y="827.3" font-size="22" text-anchor="start" textLength="14.0" lengthAdjust="spacingAndGlyphs" stroke="#fff" stroke-width="0.3" >Ж</text>
<rect x="1628.2" y="772.0" width="30.8" height="32.0" rx="1.5" fill="#fff" stroke="#111" stroke-width="1.38" />
<text x="1638.3" y="795.9" font-size="22" text-anchor="start" textLength="11.5" lengthAdjust="spacingAndGlyphs" stroke="#fff" stroke-width="0.3" >Б</text>
</g>
<g id="p_view4">
<defs>
<linearGradient id="gBody" gradientUnits="userSpaceOnUse" x1="594.3" y1="1104.5" x2="643.7" y2="1337.3">
<stop offset="0" stop-color="#a9afaf"/><stop offset="0.05" stop-color="#c2c7c7"/><stop offset="0.16" stop-color="#dadede"/>
<stop offset="0.4" stop-color="#e6e9e9"/><stop offset="0.75" stop-color="#e2e6e6"/><stop offset="1" stop-color="#d2d7d7"/></linearGradient>
<radialGradient id="gFront" cx="0.80" cy="0.60" r="0.80">
<stop offset="0" stop-color="#6f7979"/><stop offset="0.3" stop-color="#5b6464"/><stop offset="0.65" stop-color="#404848"/><stop offset="1" stop-color="#2b3030"/></radialGradient>
<radialGradient id="gRear" cx="0.42" cy="0.52" r="0.62">
<stop offset="0" stop-color="#738080"/><stop offset="0.45" stop-color="#616d6d"/><stop offset="0.8" stop-color="#3d4545"/><stop offset="1" stop-color="#2a3030"/></radialGradient>
</defs>
<polygon points="236.4,1425.9 233.7,1426.3 231.0,1426.3 228.3,1426.0 225.5,1425.4 222.6,1424.5 219.7,1423.3 216.9,1421.7 214.0,1419.8 211.1,1417.7 208.2,1415.2 205.3,1412.4 202.4,1409.3 199.6,1405.9 196.8,1402.3 194.1,1398.4 191.4,1394.3 188.7,1389.9 186.2,1385.3 183.7,1380.5 181.2,1375.5 178.9,1370.3 176.7,1364.9 174.5,1359.3 172.5,1353.7 170.6,1347.8 168.8,1341.9 167.1,1335.9 165.5,1329.8 164.1,1323.6 162.8,1317.4 161.7,1311.2 160.6,1305.0 159.8,1298.7 159.0,1292.5 158.5,1286.3 158.0,1280.2 157.8,1274.1 157.6,1268.2 157.7,1262.3 157.8,1256.6 158.2,1251.0 158.6,1245.6 159.3,1240.3 160.0,1235.2 161.0,1230.3 162.0,1225.6 163.2,1221.2 164.6,1217.0 166.0,1213.0 167.6,1209.3 169.4,1205.8 171.2,1202.7 173.2,1199.8 175.2,1197.2 177.4,1194.9 179.7,1192.9 182.0,1191.2 184.5,1189.9 187.0,1188.8 189.6,1188.1 1002.0,1015.9 1004.7,1015.5 1007.4,1015.5 1010.2,1015.7 1013.0,1016.3 1015.8,1017.3 1018.7,1018.5 1021.6,1020.1 1024.5,1021.9 1027.4,1024.1 1030.3,1026.6 1033.1,1029.4 1036.0,1032.5 1038.8,1035.8 1041.6,1039.5 1044.4,1043.3 1047.1,1047.5 1049.7,1051.9 1052.3,1056.5 1054.8,1061.3 1057.2,1066.3 1059.5,1071.5 1061.8,1076.9 1063.9,1082.4 1065.9,1088.1 1067.9,1093.9 1069.7,1099.9 1071.3,1105.9 1072.9,1112.0 1074.3,1118.1 1075.6,1124.3 1076.8,1130.6 1077.8,1136.8 1078.7,1143.1 1079.4,1149.3 1080.0,1155.5 1080.4,1161.6 1080.7,1167.6 1080.8,1173.6 1080.8,1179.4 1080.6,1185.2 1080.3,1190.8 1079.8,1196.2 1079.2,1201.5 1078.4,1206.6 1077.5,1211.5 1076.4,1216.1 1075.2,1220.6 1073.9,1224.8 1072.4,1228.8 1070.8,1232.5 1069.1,1236.0 1067.2,1239.1 1065.3,1242.0 1063.2,1244.6 1061.0,1246.9 1058.8,1248.9 1056.4,1250.5 1054.0,1251.9 1051.4,1252.9 1048.8,1253.6" fill="url(#gBody)" stroke="none"/>
<line x1="189.6" y1="1188.1" x2="1002.0" y2="1015.9" stroke="#9da3a3" stroke-width="1"/>
<polygon points="1080.8,1175.6 1080.7,1168.1 1080.3,1160.6 1079.7,1152.9 1078.9,1145.1 1077.9,1137.3 1076.6,1129.5 1075.1,1121.7 1073.4,1114.0 1071.5,1106.4 1069.4,1098.9 1067.1,1091.5 1064.6,1084.3 1061.9,1077.3 1059.1,1070.6 1056.2,1064.2 1053.1,1058.0 1049.9,1052.2 1046.6,1046.8 1043.2,1041.7 1039.8,1037.0 1036.2,1032.7 1032.7,1028.9 1029.1,1025.5 1025.4,1022.6 1021.8,1020.2 1018.2,1018.3 1014.6,1016.8 1011.1,1015.9 1007.6,1015.5 1004.2,1015.6 1000.9,1016.2 997.7,1017.3 994.7,1018.9 991.7,1021.0 988.9,1023.6 986.3,1026.6 983.8,1030.2 981.5,1034.2 979.4,1038.6 977.5,1043.4 975.8,1048.6 974.3,1054.2 973.0,1060.1 971.9,1066.4 971.1,1072.9 970.5,1079.7 970.2,1086.7 970.1,1094.0 970.2,1101.4 970.5,1109.0 971.1,1116.7 971.9,1124.4 973.0,1132.2 974.3,1140.0 975.8,1147.8 977.5,1155.5 979.4,1163.2 981.5,1170.7 983.8,1178.1 986.3,1185.2 988.9,1192.2 991.7,1198.9 994.7,1205.4 997.7,1211.5 1002.0,1216.0 1006.7,1219.9 1011.2,1223.6 1015.5,1227.2 1019.7,1230.7 1023.7,1234.0 1027.5,1237.1 1031.1,1240.1 1034.4,1242.8 1037.5,1245.4 1040.4,1247.7 1042.9,1249.8 1045.2,1251.7 1047.2,1253.3 1049.9,1253.4 1053.1,1252.3 1056.2,1250.7 1059.1,1248.6 1061.9,1246.0 1064.6,1242.9 1067.1,1239.4 1069.4,1235.4 1071.5,1231.0 1073.4,1226.2 1075.1,1220.9 1076.6,1215.4 1077.9,1209.4 1078.9,1203.2 1079.7,1196.6 1080.3,1189.8 1080.7,1182.8" fill="url(#gRear)" stroke="#1f2424" stroke-width="1" stroke-linejoin="round"/>
<polygon points="1066.7,1137.2 1066.6,1134.0 1066.3,1130.7 1065.8,1127.4 1065.2,1124.1 1064.3,1120.9 1063.3,1117.8 1062.1,1114.9 1060.9,1112.2 1059.5,1109.8 1058.0,1107.8 1056.5,1106.0 1055.0,1104.7 1053.4,1103.8 1051.9,1103.3 1050.5,1103.2 1049.1,1103.6 1047.8,1104.3 1046.7,1105.5 1045.7,1107.1 1044.8,1109.1 1044.1,1111.4 1043.6,1114.0 1043.3,1116.8 1043.2,1119.9 1043.3,1123.0 1043.6,1126.3 1044.1,1129.6 1044.8,1132.9 1045.7,1136.1 1046.7,1139.2 1047.8,1142.1 1049.1,1144.8 1050.5,1147.2 1051.9,1149.3 1053.4,1151.0 1055.0,1152.3 1056.5,1153.2 1058.0,1153.8 1059.5,1153.8 1060.9,1153.5 1062.1,1152.7 1063.3,1151.5 1064.3,1149.9 1065.2,1147.9 1065.8,1145.6 1066.3,1143.0 1066.6,1140.2" fill="#566161" stroke="#252a2a" stroke-width="1.2" stroke-linejoin="round"/>
<polygon points="333.1,1270.4 333.9,1275.2 334.7,1280.0 335.7,1284.7 336.7,1289.4 337.8,1294.1 339.0,1298.8 340.3,1303.4 341.6,1308.0 343.0,1312.5 344.5,1316.9 346.0,1321.3 347.6,1325.5 349.3,1329.7 351.0,1333.8 352.7,1337.9 354.6,1341.8 356.4,1345.5 358.3,1349.2 360.3,1352.8 362.3,1356.2 364.3,1359.5 366.4,1362.6 368.5,1365.6 370.6,1368.5 372.7,1371.2 374.9,1373.7 377.1,1376.1 379.3,1378.3 381.5,1380.3 383.7,1382.2 422.4,1374.0 420.2,1372.1 418.0,1370.1 415.8,1367.9 413.6,1365.5 411.5,1362.9 409.3,1360.2 407.2,1357.4 405.1,1354.4 403.1,1351.2 401.0,1348.0 399.0,1344.5 397.1,1341.0 395.2,1337.3 393.3,1333.5 391.5,1329.6 389.7,1325.6 388.0,1321.5 386.4,1317.3 384.8,1313.0 383.2,1308.7 381.8,1304.2 380.4,1299.7 379.0,1295.2 377.8,1290.6 376.6,1285.9 375.5,1281.2 374.4,1276.5 373.5,1271.8 372.6,1267.0 371.8,1262.2" fill="#96a4a6" stroke="#5d6768" stroke-width="0.8" stroke-linejoin="round"/>
<polygon points="738.8,1184.4 739.6,1189.2 740.5,1194.0 741.4,1198.7 742.4,1203.4 743.6,1208.1 744.8,1212.8 746.0,1217.4 747.3,1222.0 748.7,1226.5 750.2,1230.9 751.7,1235.3 753.3,1239.5 755.0,1243.7 756.7,1247.8 758.5,1251.8 760.3,1255.7 762.1,1259.5 764.1,1263.2 766.0,1266.7 768.0,1270.2 770.0,1273.5 772.1,1276.6 774.2,1279.6 776.3,1282.4 778.4,1285.1 780.6,1287.7 782.8,1290.1 785.0,1292.3 787.2,1294.3 789.4,1296.2 828.1,1288.0 825.9,1286.1 823.7,1284.1 821.5,1281.9 819.4,1279.5 817.2,1276.9 815.0,1274.2 812.9,1271.4 810.8,1268.4 808.8,1265.2 806.7,1262.0 804.8,1258.5 802.8,1255.0 800.9,1251.3 799.0,1247.5 797.2,1243.6 795.4,1239.6 793.7,1235.5 792.1,1231.3 790.5,1227.0 789.0,1222.7 787.5,1218.2 786.1,1213.7 784.8,1209.2 783.5,1204.6 782.3,1199.9 781.2,1195.2 780.2,1190.5 779.2,1185.7 778.3,1181.0 777.5,1176.2" fill="#96a4a6" stroke="#5d6768" stroke-width="0.8" stroke-linejoin="round"/>
<polygon points="557.7,1285.2 557.5,1275.5 556.9,1265.6 555.8,1255.5 554.4,1245.3 552.6,1235.2 550.4,1225.1 547.9,1215.2 545.0,1205.5 541.9,1196.2 538.4,1187.2 534.6,1178.6 530.7,1170.5 526.5,1163.1 522.1,1156.2 517.6,1150.0 513.0,1144.6 508.4,1139.9 503.7,1136.0 499.0,1132.9 494.3,1130.8 489.7,1129.4 485.2,1129.0 480.8,1129.4 476.7,1130.8 472.7,1133.0 468.9,1136.0 465.5,1139.9 462.3,1144.6 459.4,1150.1 456.9,1156.2 454.7,1163.1 452.9,1170.6 451.5,1178.7 450.5,1187.2 449.9,1196.2 449.6,1205.6 449.9,1215.3 450.5,1225.2 451.5,1235.3 452.9,1245.4 454.7,1255.6 456.9,1265.6 459.4,1275.5 462.3,1285.2 465.5,1294.6 468.9,1303.6 472.7,1312.2 476.7,1320.2 480.8,1327.7 485.2,1334.6 489.7,1340.7 494.3,1346.2 499.0,1350.9 503.7,1354.8 508.4,1357.8 513.0,1360.0 517.6,1361.3 522.1,1361.8 526.5,1361.3 530.7,1360.0 534.6,1357.8 538.4,1354.7 541.9,1350.9 545.0,1346.2 547.9,1340.7 550.4,1334.5 552.6,1327.7 554.4,1320.2 555.8,1312.1 556.9,1303.5 557.5,1294.5" fill="none" stroke="#2b3132" stroke-width="6.4" stroke-linejoin="round" />
<polyline points="485.6,1310.4 487.1,1313.6 488.7,1316.6 490.3,1319.6 491.9,1322.5 493.5,1325.2 495.2,1327.9 496.9,1330.5 498.6,1333.0 500.3,1335.4 502.1,1337.7 503.9,1339.8 505.7,1341.9 507.5,1343.8 509.3,1345.6 511.1,1347.3 512.9,1348.9 514.7,1350.3 516.5,1351.7 518.4,1352.9 520.2,1353.9 522.0,1354.9 523.8,1355.7 525.6,1356.4 527.4,1356.9" fill="none" stroke="#2f3637" stroke-width="5.4" stroke-linejoin="round" stroke-linecap="round" />
<polygon points="661.3,1263.2 661.1,1253.5 660.5,1243.6 659.5,1233.5 658.0,1223.4 656.2,1213.2 654.1,1203.2 651.5,1193.3 648.7,1183.6 645.5,1174.2 642.0,1165.2 638.3,1156.6 634.3,1148.6 630.1,1141.1 625.8,1134.2 621.3,1128.1 616.7,1122.6 612.0,1117.9 607.3,1114.0 602.6,1111.0 597.9,1108.8 593.3,1107.5 588.8,1107.0 584.5,1107.5 580.3,1108.8 576.3,1111.0 572.6,1114.1 569.1,1117.9 565.9,1122.6 563.0,1128.1 560.5,1134.3 558.3,1141.1 556.5,1148.6 555.1,1156.7 554.1,1165.3 553.5,1174.3 553.3,1183.6 553.5,1193.3 554.1,1203.2 555.1,1213.3 556.5,1223.5 558.3,1233.6 560.5,1243.7 563.0,1253.6 565.9,1263.3 569.1,1272.6 572.6,1281.6 576.3,1290.2 580.3,1298.3 584.5,1305.7 588.8,1312.6 593.3,1318.8 597.9,1324.2 602.6,1328.9 607.3,1332.8 612.0,1335.9 616.7,1338.0 621.3,1339.4 625.8,1339.8 630.1,1339.4 634.3,1338.0 638.3,1335.8 642.0,1332.8 645.5,1328.9 648.7,1324.2 651.5,1318.7 654.1,1312.6 656.2,1305.7 658.0,1298.2 659.5,1290.1 660.5,1281.6 661.1,1272.6" fill="none" stroke="#2b3132" stroke-width="6.4" stroke-linejoin="round" />
<polyline points="589.2,1288.5 590.7,1291.6 592.3,1294.7 593.9,1297.6 595.5,1300.5 597.1,1303.3 598.8,1306.0 600.5,1308.6 602.2,1311.0 604.0,1313.4 605.7,1315.7 607.5,1317.9 609.3,1319.9 611.1,1321.8 612.9,1323.7 614.7,1325.4 616.5,1326.9 618.3,1328.4 620.2,1329.7 622.0,1330.9 623.8,1332.0 625.6,1332.9 627.4,1333.7 629.2,1334.4 631.0,1334.9" fill="none" stroke="#2f3637" stroke-width="5.4" stroke-linejoin="round" stroke-linecap="round" />
<polygon points="765.8,1241.0 765.6,1231.4 765.0,1221.4 764.0,1211.4 762.6,1201.2 760.7,1191.1 758.6,1181.0 756.0,1171.1 753.2,1161.4 750.0,1152.0 746.5,1143.0 742.8,1134.5 738.8,1126.4 734.6,1118.9 730.3,1112.1 725.8,1105.9 721.2,1100.4 716.5,1095.8 711.8,1091.9 707.1,1088.8 702.4,1086.6 697.8,1085.3 693.3,1084.9 689.0,1085.3 684.8,1086.6 680.8,1088.8 677.1,1091.9 673.6,1095.8 670.4,1100.5 667.5,1105.9 665.0,1112.1 662.8,1119.0 661.0,1126.5 659.6,1134.5 658.6,1143.1 658.0,1152.1 657.8,1161.5 658.0,1171.2 658.6,1181.1 659.6,1191.2 661.0,1201.3 662.8,1211.4 665.0,1221.5 667.5,1231.4 670.4,1241.1 673.6,1250.5 677.1,1259.5 680.8,1268.0 684.8,1276.1 689.0,1283.6 693.3,1290.4 697.8,1296.6 702.4,1302.1 707.1,1306.8 711.8,1310.6 716.5,1313.7 721.2,1315.9 725.8,1317.2 730.3,1317.7 734.6,1317.2 738.8,1315.9 742.8,1313.7 746.5,1310.6 750.0,1306.7 753.2,1302.0 756.0,1296.6 758.6,1290.4 760.7,1283.5 762.6,1276.1 764.0,1268.0 765.0,1259.4 765.6,1250.4" fill="none" stroke="#2b3132" stroke-width="6.4" stroke-linejoin="round" />
<polyline points="693.7,1266.3 695.2,1269.4 696.8,1272.5 698.4,1275.5 700.0,1278.3 701.7,1281.1 703.3,1283.8 705.0,1286.4 706.7,1288.9 708.5,1291.3 710.2,1293.5 712.0,1295.7 713.8,1297.8 715.6,1299.7 717.4,1301.5 719.2,1303.2 721.0,1304.8 722.8,1306.2 724.7,1307.5 726.5,1308.7 728.3,1309.8 730.1,1310.7 731.9,1311.6 733.7,1312.2 735.5,1312.8" fill="none" stroke="#2f3637" stroke-width="5.4" stroke-linejoin="round" stroke-linecap="round" />
<polygon points="867.6,1219.5 867.4,1209.8 866.8,1199.9 865.8,1189.8 864.4,1179.6 862.6,1169.5 860.4,1159.4 857.9,1149.5 855.0,1139.8 851.8,1130.5 848.3,1121.5 844.6,1112.9 840.6,1104.8 836.4,1097.4 832.1,1090.5 827.6,1084.3 823.0,1078.9 818.3,1074.2 813.6,1070.3 808.9,1067.2 804.2,1065.1 799.6,1063.7 795.1,1063.3 790.8,1063.7 786.6,1065.1 782.6,1067.3 778.9,1070.3 775.4,1074.2 772.2,1078.9 769.4,1084.4 766.8,1090.5 764.7,1097.4 762.9,1104.9 761.4,1112.9 760.4,1121.5 759.8,1130.5 759.6,1139.9 759.8,1149.6 760.4,1159.5 761.4,1169.6 762.9,1179.7 764.7,1189.9 766.8,1199.9 769.4,1209.8 772.2,1219.5 775.4,1228.9 778.9,1237.9 782.6,1246.5 786.6,1254.5 790.8,1262.0 795.1,1268.9 799.6,1275.0 804.2,1280.5 808.9,1285.2 813.6,1289.1 818.3,1292.1 823.0,1294.3 827.6,1295.6 832.1,1296.1 836.4,1295.6 840.6,1294.3 844.6,1292.1 848.3,1289.0 851.8,1285.2 855.0,1280.5 857.9,1275.0 860.4,1268.8 862.6,1262.0 864.4,1254.5 865.8,1246.4 866.8,1237.8 867.4,1228.8" fill="none" stroke="#2b3132" stroke-width="6.4" stroke-linejoin="round" />
<polyline points="795.5,1244.7 797.0,1247.9 798.6,1250.9 800.2,1253.9 801.8,1256.8 803.5,1259.5 805.1,1262.2 806.8,1264.8 808.6,1267.3 810.3,1269.7 812.1,1272.0 813.8,1274.1 815.6,1276.2 817.4,1278.1 819.2,1279.9 821.0,1281.6 822.8,1283.2 824.7,1284.6 826.5,1286.0 828.3,1287.2 830.1,1288.2 831.9,1289.2 833.7,1290.0 835.5,1290.6 837.3,1291.2" fill="none" stroke="#2f3637" stroke-width="5.4" stroke-linejoin="round" stroke-linecap="round" />
<polygon points="972.1,1197.3 971.9,1187.6 971.3,1177.7 970.3,1167.6 968.9,1157.5 967.1,1147.3 964.9,1137.3 962.4,1127.4 959.5,1117.7 956.3,1108.3 952.8,1099.3 949.1,1090.7 945.1,1082.7 940.9,1075.2 936.6,1068.3 932.1,1062.2 927.5,1056.7 922.8,1052.0 918.1,1048.1 913.4,1045.1 908.7,1042.9 904.1,1041.6 899.6,1041.1 895.3,1041.6 891.1,1042.9 887.1,1045.1 883.4,1048.2 879.9,1052.1 876.7,1056.7 873.9,1062.2 871.3,1068.4 869.2,1075.2 867.4,1082.7 865.9,1090.8 864.9,1099.4 864.3,1108.4 864.1,1117.7 864.3,1127.4 864.9,1137.3 865.9,1147.4 867.4,1157.6 869.2,1167.7 871.3,1177.8 873.9,1187.7 876.7,1197.4 879.9,1206.7 883.4,1215.7 887.1,1224.3 891.1,1232.4 895.3,1239.8 899.6,1246.7 904.1,1252.9 908.7,1258.3 913.4,1263.0 918.1,1266.9 922.8,1270.0 927.5,1272.2 932.1,1273.5 936.6,1273.9 940.9,1273.5 945.1,1272.1 949.1,1269.9 952.8,1266.9 956.3,1263.0 959.5,1258.3 962.4,1252.8 964.9,1246.7 967.1,1239.8 968.9,1232.3 970.3,1224.3 971.3,1215.7 971.9,1206.7" fill="none" stroke="#2b3132" stroke-width="6.4" stroke-linejoin="round" />
<polyline points="900.0,1222.6 901.6,1225.7 903.1,1228.8 904.7,1231.7 906.3,1234.6 908.0,1237.4 909.7,1240.1 911.4,1242.7 913.1,1245.1 914.8,1247.5 916.6,1249.8 918.3,1252.0 920.1,1254.0 921.9,1255.9 923.7,1257.8 925.5,1259.5 927.4,1261.0 929.2,1262.5 931.0,1263.8 932.8,1265.0 934.6,1266.1 936.4,1267.0 938.2,1267.8 940.0,1268.5 941.8,1269.0" fill="none" stroke="#2f3637" stroke-width="5.4" stroke-linejoin="round" stroke-linecap="round" />
<polygon points="452.3,1307.5 452.1,1297.8 451.4,1287.9 450.4,1277.8 449.0,1267.7 447.2,1257.6 445.0,1247.5 442.5,1237.6 439.6,1227.9 436.4,1218.5 433.0,1209.5 429.2,1200.9 425.3,1192.9 421.1,1185.4 416.7,1178.5 412.2,1172.4 407.6,1166.9 403.0,1162.2 398.2,1158.3 393.5,1155.3 388.9,1153.1 384.3,1151.8 379.8,1151.3 375.4,1151.8 371.2,1153.1 367.3,1155.3 363.5,1158.4 360.1,1162.3 356.9,1166.9 354.0,1172.4 351.5,1178.6 349.3,1185.5 347.5,1192.9 346.1,1201.0 345.1,1209.6 344.4,1218.6 344.2,1228.0 344.4,1237.6 345.1,1247.6 346.1,1257.6 347.5,1267.8 349.3,1277.9 351.5,1288.0 354.0,1297.9 356.9,1307.6 360.1,1317.0 363.5,1326.0 367.3,1334.5 371.2,1342.6 375.4,1350.1 379.8,1356.9 384.3,1363.1 388.9,1368.5 393.5,1373.2 398.2,1377.1 403.0,1380.2 407.6,1382.4 412.2,1383.7 416.7,1384.1 421.1,1383.7 425.3,1382.3 429.2,1380.1 433.0,1377.1 436.4,1373.2 439.6,1368.5 442.5,1363.1 445.0,1356.9 447.2,1350.0 449.0,1342.5 450.4,1334.5 451.4,1325.9 452.1,1316.9" fill="none" stroke="#2f3637" stroke-width="6.0" stroke-linejoin="round" />
<polygon points="348.6,1329.5 348.4,1319.8 347.8,1309.9 346.8,1299.8 345.4,1289.7 343.6,1279.5 341.4,1269.5 338.9,1259.5 336.0,1249.9 332.8,1240.5 329.4,1231.5 325.6,1222.9 321.6,1214.9 317.5,1207.4 313.1,1200.5 308.6,1194.3 304.0,1188.9 299.3,1184.2 294.6,1180.3 289.9,1177.3 285.3,1175.1 280.7,1173.7 276.2,1173.3 271.8,1173.7 267.6,1175.1 263.6,1177.3 259.9,1180.3 256.4,1184.2 253.3,1188.9 250.4,1194.4 247.9,1200.6 245.7,1207.4 243.9,1214.9 242.5,1223.0 241.4,1231.5 240.8,1240.5 240.6,1249.9 240.8,1259.6 241.4,1269.5 242.5,1279.6 243.9,1289.7 245.7,1299.9 247.9,1309.9 250.4,1319.9 253.3,1329.5 256.4,1338.9 259.9,1347.9 263.6,1356.5 267.6,1364.5 271.8,1372.0 276.2,1378.9 280.7,1385.1 285.3,1390.5 289.9,1395.2 294.6,1399.1 299.3,1402.1 304.0,1404.3 308.6,1405.6 313.1,1406.1 317.5,1405.6 321.6,1404.3 325.6,1402.1 329.4,1399.1 332.8,1395.2 336.0,1390.5 338.9,1385.0 341.4,1378.8 343.6,1372.0 345.4,1364.5 346.8,1356.4 347.8,1347.9 348.4,1338.9" fill="none" stroke="#333a3b" stroke-width="5.6" stroke-linejoin="round" />
<line x1="278.5" y1="1355.1" x2="993.8" y2="1203.4" stroke="#73807f" stroke-width="4.4" stroke-linecap="butt"/>
<line x1="278.5" y1="1355.1" x2="993.8" y2="1203.4" stroke="#a9b8bb" stroke-width="3.0" stroke-linecap="butt"/>
<line x1="294.1" y1="1388.8" x2="1014.9" y2="1236.0" stroke="#73807f" stroke-width="4.4" stroke-linecap="butt"/>
<line x1="294.1" y1="1388.8" x2="1014.9" y2="1236.0" stroke="#a9b8bb" stroke-width="3.0" stroke-linecap="butt"/>
<polygon points="346.4,1362.7 368.0,1358.1 465.5,1429.9 443.9,1434.5" fill="#3f4647" stroke="#23282a" stroke-width="1" stroke-linejoin="round" />
<polygon points="346.4,1367.6 443.9,1439.4 443.9,1429.7 346.4,1357.9" fill="#2e3435" stroke="#1d2122" stroke-width="0.8" stroke-linejoin="round" />
<polygon points="346.4,1357.9 443.9,1429.7 447.5,1428.9 350.0,1357.1" fill="#5d6768" stroke="#23282a" stroke-width="0.6" stroke-linejoin="round" />
<polygon points="381.7,1380.6 384.1,1382.6 386.5,1384.4 388.9,1386.0 391.4,1387.3 393.7,1388.5 396.1,1389.4 398.5,1390.1 400.8,1390.6 403.1,1390.9 405.4,1391.0 407.6,1390.8 409.8,1390.4 412.0,1389.8 414.1,1388.9 416.1,1387.9 418.1,1386.6 420.0,1385.1 421.9,1383.4 423.7,1381.5 425.4,1379.4 427.1,1377.0 428.7,1374.5 430.2,1371.8 431.6,1368.9 432.9,1365.8 434.2,1362.6 435.3,1359.1 436.4,1355.5 437.3,1351.8 438.2,1347.9 477.0,1339.7 476.1,1343.6 475.1,1347.3 474.0,1350.9 472.9,1354.3 471.6,1357.6 470.3,1360.7 468.9,1363.6 467.4,1366.3 465.8,1368.8 464.2,1371.1 462.4,1373.3 460.6,1375.2 458.8,1376.9 456.8,1378.4 454.8,1379.7 452.8,1380.7 450.7,1381.6 448.5,1382.2 446.4,1382.6 444.1,1382.7 441.8,1382.7 439.5,1382.4 437.2,1381.9 434.9,1381.2 432.5,1380.3 430.1,1379.1 427.7,1377.7 425.3,1376.2 422.9,1374.4 420.5,1372.3" fill="#586061" stroke="#5d6768" stroke-width="0.8" stroke-linejoin="round"/>
<polygon points="440.6,1364.1 443.5,1354.1 441.3,1361.2 438.7,1367.6 435.7,1373.3 432.4,1378.1 428.8,1382.2 424.9,1385.3 420.8,1387.6 416.5,1389.0 412.0,1389.4 407.3,1389.0 407.3,1404.0 440.6,1428.6" fill="#3b4243" stroke="#23282a" stroke-width="0.8" stroke-linejoin="round" />
<polygon points="426.2,1418.0 431.9,1422.2 431.9,1400.4 426.2,1401.0" fill="#b4c0c2" stroke="#3a4142" stroke-width="0.8" stroke-linejoin="round" />
<polygon points="440.6,1433.4 465.0,1428.2 465.0,1358.9 440.6,1364.1" fill="#a9b8ba" stroke="#2a2f30" stroke-width="1" stroke-linejoin="round" />
<line x1="452.8" y1="1430.8" x2="452.8" y2="1355.7" stroke="#3a4041" stroke-width="1.2" stroke-linecap="butt"/>
<ellipse cx="457.3" cy="1385.7" rx="3.4" ry="4.4" fill="#474f50" stroke="#23282a" stroke-width="1" transform="rotate(35 457.3 1385.7)"/>
<polygon points="440.3,1435.3 469.1,1429.2 469.1,1432.1 440.3,1438.2" fill="#3a4142" stroke="#23282a" stroke-width="0.8" stroke-linejoin="round" />
<polygon points="752.1,1276.7 773.7,1272.1 871.2,1343.9 849.6,1348.5" fill="#3f4647" stroke="#23282a" stroke-width="1" stroke-linejoin="round" />
<polygon points="752.1,1281.5 849.6,1353.4 849.6,1343.7 752.1,1271.9" fill="#2e3435" stroke="#1d2122" stroke-width="0.8" stroke-linejoin="round" />
<polygon points="752.1,1271.9 849.6,1343.7 853.2,1342.9 755.7,1271.1" fill="#5d6768" stroke="#23282a" stroke-width="0.6" stroke-linejoin="round" />
<polygon points="787.4,1294.6 789.9,1296.6 792.3,1298.4 794.7,1299.9 797.1,1301.3 799.5,1302.5 801.8,1303.4 804.2,1304.1 806.5,1304.6 808.8,1304.9 811.1,1305.0 813.3,1304.8 815.5,1304.4 817.7,1303.8 819.8,1302.9 821.8,1301.9 823.8,1300.6 825.7,1299.1 827.6,1297.4 829.4,1295.5 831.1,1293.4 832.8,1291.0 834.4,1288.5 835.9,1285.8 837.3,1282.9 838.6,1279.8 839.9,1276.6 841.0,1273.1 842.1,1269.5 843.1,1265.8 843.9,1261.9 882.7,1253.7 881.8,1257.6 880.8,1261.3 879.8,1264.9 878.6,1268.3 877.4,1271.6 876.0,1274.7 874.6,1277.6 873.1,1280.3 871.5,1282.8 869.9,1285.1 868.2,1287.3 866.4,1289.2 864.5,1290.9 862.6,1292.4 860.6,1293.6 858.5,1294.7 856.4,1295.5 854.3,1296.2 852.1,1296.6 849.8,1296.7 847.6,1296.7 845.3,1296.4 842.9,1295.9 840.6,1295.2 838.2,1294.3 835.8,1293.1 833.4,1291.7 831.0,1290.1 828.6,1288.3 826.2,1286.3" fill="#586061" stroke="#5d6768" stroke-width="0.8" stroke-linejoin="round"/>
<polygon points="846.4,1278.1 849.3,1268.1 847.0,1275.2 844.4,1281.6 841.4,1287.3 838.1,1292.1 834.5,1296.1 830.7,1299.3 826.5,1301.6 822.2,1303.0 817.7,1303.4 813.0,1303.0 813.0,1318.0 846.4,1342.6" fill="#3b4243" stroke="#23282a" stroke-width="0.8" stroke-linejoin="round" />
<polygon points="831.9,1332.0 837.7,1336.2 837.7,1314.4 831.9,1315.0" fill="#b4c0c2" stroke="#3a4142" stroke-width="0.8" stroke-linejoin="round" />
<polygon points="846.4,1347.4 870.7,1342.2 870.7,1272.9 846.4,1278.1" fill="#a9b8ba" stroke="#2a2f30" stroke-width="1" stroke-linejoin="round" />
<line x1="858.5" y1="1344.8" x2="858.5" y2="1269.7" stroke="#3a4041" stroke-width="1.2" stroke-linecap="butt"/>
<ellipse cx="863.0" cy="1299.7" rx="3.4" ry="4.4" fill="#474f50" stroke="#23282a" stroke-width="1" transform="rotate(35 863.0 1299.7)"/>
<polygon points="846.0,1349.3 874.9,1343.2 874.9,1346.1 846.0,1352.2" fill="#3a4142" stroke="#23282a" stroke-width="0.8" stroke-linejoin="round" />
<polygon points="426.6,1139.8 453.6,1134.1 458.4,1137.6 431.3,1143.3" fill="#8f9c9e" stroke="#2d3334" stroke-width="1" stroke-linejoin="round" />
<polygon points="433.0,1140.7 433.0,1124.3 433.0,1124.3 433.3,1121.6 434.3,1118.9 435.8,1116.5 437.7,1114.4 440.0,1112.9 442.5,1112.1 444.9,1111.9 447.2,1112.4 449.2,1113.6 450.7,1115.4 451.6,1117.7 451.9,1120.2 451.9,1120.2 451.9,1136.7" fill="#a4b0b2" stroke="#2d3334" stroke-width="1.1" stroke-linejoin="round" />
<ellipse cx="442.5" cy="1122.2" rx="3.6" ry="3.9" fill="#eef0f0" stroke="#2d3334" stroke-width="1"/>
<polygon points="648.7,1092.7 675.8,1087.0 680.6,1090.5 653.5,1096.2" fill="#8f9c9e" stroke="#2d3334" stroke-width="1" stroke-linejoin="round" />
<polygon points="655.2,1093.6 655.2,1077.2 655.2,1077.2 655.5,1074.5 656.5,1071.8 658.0,1069.4 659.9,1067.3 662.2,1065.8 664.6,1065.0 667.1,1064.8 669.4,1065.3 671.3,1066.5 672.8,1068.3 673.8,1070.6 674.1,1073.1 674.1,1073.1 674.1,1089.6" fill="#a4b0b2" stroke="#2d3334" stroke-width="1.1" stroke-linejoin="round" />
<ellipse cx="664.6" cy="1075.1" rx="3.6" ry="3.9" fill="#eef0f0" stroke="#2d3334" stroke-width="1"/>
<polygon points="497.8,1192.3 524.8,1186.5 529.6,1190.0 502.6,1195.8" fill="#8f9c9e" stroke="#2d3334" stroke-width="1" stroke-linejoin="round" />
<polygon points="504.2,1193.2 504.2,1176.7 504.2,1176.7 504.5,1174.0 505.5,1171.4 507.0,1168.9 509.0,1166.9 511.2,1165.4 513.7,1164.5 516.1,1164.4 518.4,1164.9 520.4,1166.1 521.9,1167.9 522.8,1170.1 523.1,1172.7 523.1,1172.7 523.1,1189.1" fill="#a9b5b7" stroke="#2d3334" stroke-width="1.1" stroke-linejoin="round" />
<ellipse cx="513.7" cy="1174.7" rx="3.6" ry="3.9" fill="#eef0f0" stroke="#2d3334" stroke-width="1"/>
<polygon points="720.0,1145.2 747.0,1139.4 751.8,1142.9 724.7,1148.7" fill="#8f9c9e" stroke="#2d3334" stroke-width="1" stroke-linejoin="round" />
<polygon points="726.4,1146.1 726.4,1129.6 726.4,1129.6 726.7,1126.9 727.7,1124.3 729.2,1121.8 731.1,1119.8 733.4,1118.3 735.9,1117.4 738.3,1117.3 740.6,1117.8 742.6,1119.0 744.1,1120.8 745.0,1123.0 745.3,1125.6 745.3,1125.6 745.3,1142.0" fill="#a9b5b7" stroke="#2d3334" stroke-width="1.1" stroke-linejoin="round" />
<ellipse cx="735.9" cy="1127.6" rx="3.6" ry="3.9" fill="#eef0f0" stroke="#2d3334" stroke-width="1"/>
<polygon points="396.8,1324.6 409.4,1321.9 411.3,1313.7 398.7,1316.3" fill="#d9dddd" stroke="#3a4041" stroke-width="1" stroke-linejoin="round" />
<polygon points="396.8,1324.6 398.7,1316.3 401.6,1320.4 400.6,1328.4" fill="#3d4445" stroke="#2a2f30" stroke-width="0.8" stroke-linejoin="round" />
<polygon points="268.4,1347.8 268.2,1337.9 267.5,1327.7 266.5,1317.4 265.0,1307.0 263.2,1296.6 261.0,1286.2 258.4,1276.1 255.4,1266.2 252.2,1256.5 248.6,1247.3 244.8,1238.5 240.7,1230.3 236.4,1222.6 231.9,1215.6 227.3,1209.2 222.6,1203.6 217.8,1198.8 213.0,1194.9 208.2,1191.7 203.4,1189.5 198.7,1188.1 194.1,1187.7 189.6,1188.1 185.3,1189.5 181.2,1191.7 177.4,1194.9 173.8,1198.9 170.6,1203.7 167.6,1209.3 165.0,1215.6 162.8,1222.6 161.0,1230.3 159.5,1238.6 158.5,1247.4 157.8,1256.6 157.6,1266.2 157.8,1276.1 158.5,1286.3 159.5,1296.6 161.0,1307.0 162.8,1317.4 165.0,1327.8 167.6,1337.9 170.6,1347.8 173.8,1357.5 177.4,1366.7 181.2,1375.5 185.3,1383.7 189.6,1391.4 194.1,1398.4 198.7,1404.8 203.4,1410.4 208.2,1415.2 213.0,1419.1 217.8,1422.3 222.6,1424.5 227.3,1425.9 231.9,1426.3 236.4,1425.9 240.7,1424.5 244.8,1422.3 248.6,1419.1 252.2,1415.1 255.4,1410.3 258.4,1404.7 261.0,1398.4 263.2,1391.4 265.0,1383.7 266.5,1375.4 267.5,1366.6 268.2,1357.4" fill="url(#gFront)" stroke="#1d2222" stroke-width="1.2" stroke-linejoin="round" />
<polygon points="195.0,1321.9 194.9,1318.7 194.6,1315.5 194.1,1312.2 193.5,1308.9 192.6,1305.7 191.6,1302.7 190.5,1299.8 189.2,1297.1 187.8,1294.7 186.4,1292.7 184.9,1291.0 183.4,1289.7 181.8,1288.7 180.3,1288.2 178.9,1288.2 177.5,1288.5 176.3,1289.3 175.1,1290.5 174.1,1292.1 173.3,1294.0 172.6,1296.3 172.1,1298.9 171.8,1301.7 171.7,1304.7 171.8,1307.9 172.1,1311.1 172.6,1314.4 173.3,1317.7 174.1,1320.8 175.1,1323.9 176.3,1326.8 177.5,1329.4 178.9,1331.8 180.3,1333.9 181.8,1335.6 183.4,1336.9 184.9,1337.8 186.4,1338.3 187.8,1338.4 189.2,1338.0 190.5,1337.3 191.6,1336.1 192.6,1334.5 193.5,1332.5 194.1,1330.3 194.6,1327.7 194.9,1324.9" fill="#3c4343" stroke="#1f2424" stroke-width="1.1" stroke-linejoin="round"/>
</g>
<g id="p_view4b">
<line x1="195.7" y1="1160.5" x2="195.7" y2="1193.4" stroke="#2f3536" stroke-width="4.6" stroke-linecap="butt"/>
<line x1="195.7" y1="1160.5" x2="195.7" y2="1193.4" stroke="#8e9a9c" stroke-width="3.0" stroke-linecap="butt"/>
<polygon points="184.2,1186.8 200.4,1183.4 207.1,1185.4 190.9,1188.8" fill="#b4bfc0" stroke="#4a5253" stroke-width="0.8" stroke-linejoin="round" />
<line x1="253.0" y1="1202.8" x2="253.0" y2="1235.6" stroke="#2f3536" stroke-width="4.6" stroke-linecap="butt"/>
<line x1="253.0" y1="1202.8" x2="253.0" y2="1235.6" stroke="#8e9a9c" stroke-width="3.0" stroke-linecap="butt"/>
<polygon points="241.6,1229.0 257.8,1225.6 264.5,1233.4 248.3,1236.9" fill="#b4bfc0" stroke="#4a5253" stroke-width="0.8" stroke-linejoin="round" />
<line x1="229.9" y1="1153.3" x2="229.9" y2="1186.1" stroke="#2f3536" stroke-width="4.6" stroke-linecap="butt"/>
<line x1="229.9" y1="1153.3" x2="229.9" y2="1186.1" stroke="#8e9a9c" stroke-width="3.0" stroke-linecap="butt"/>
<polygon points="218.5,1179.5 234.7,1176.1 241.4,1178.1 225.1,1181.6" fill="#b4bfc0" stroke="#4a5253" stroke-width="0.8" stroke-linejoin="round" />
<line x1="287.3" y1="1195.5" x2="287.3" y2="1228.3" stroke="#2f3536" stroke-width="4.6" stroke-linecap="butt"/>
<line x1="287.3" y1="1195.5" x2="287.3" y2="1228.3" stroke="#8e9a9c" stroke-width="3.0" stroke-linecap="butt"/>
<polygon points="275.8,1221.8 292.0,1218.3 298.7,1226.2 282.5,1229.6" fill="#b4bfc0" stroke="#4a5253" stroke-width="0.8" stroke-linejoin="round" />
<line x1="284.4" y1="1141.7" x2="284.4" y2="1174.5" stroke="#2f3536" stroke-width="4.6" stroke-linecap="butt"/>
<line x1="284.4" y1="1141.7" x2="284.4" y2="1174.5" stroke="#8e9a9c" stroke-width="3.0" stroke-linecap="butt"/>
<polygon points="273.0,1168.0 289.2,1164.5 295.9,1166.6 279.7,1170.0" fill="#b4bfc0" stroke="#4a5253" stroke-width="0.8" stroke-linejoin="round" />
<line x1="341.8" y1="1184.0" x2="341.8" y2="1216.8" stroke="#2f3536" stroke-width="4.6" stroke-linecap="butt"/>
<line x1="341.8" y1="1184.0" x2="341.8" y2="1216.8" stroke="#8e9a9c" stroke-width="3.0" stroke-linecap="butt"/>
<polygon points="330.3,1210.2 346.5,1206.8 353.2,1214.6 337.0,1218.1" fill="#b4bfc0" stroke="#4a5253" stroke-width="0.8" stroke-linejoin="round" />
<line x1="325.1" y1="1133.1" x2="325.1" y2="1165.9" stroke="#2f3536" stroke-width="4.6" stroke-linecap="butt"/>
<line x1="325.1" y1="1133.1" x2="325.1" y2="1165.9" stroke="#8e9a9c" stroke-width="3.0" stroke-linecap="butt"/>
<polygon points="313.7,1159.4 329.9,1155.9 336.6,1157.9 320.4,1161.4" fill="#b4bfc0" stroke="#4a5253" stroke-width="0.8" stroke-linejoin="round" />
<line x1="382.5" y1="1175.3" x2="382.5" y2="1208.1" stroke="#2f3536" stroke-width="4.6" stroke-linecap="butt"/>
<line x1="382.5" y1="1175.3" x2="382.5" y2="1208.1" stroke="#8e9a9c" stroke-width="3.0" stroke-linecap="butt"/>
<polygon points="371.1,1201.6 387.3,1198.2 394.0,1206.0 377.7,1209.4" fill="#b4bfc0" stroke="#4a5253" stroke-width="0.8" stroke-linejoin="round" />
<line x1="183.2" y1="1158.6" x2="207.1" y2="1241.1" stroke="#3a4142" stroke-width="2.2" stroke-linecap="butt"/>
<line x1="250.2" y1="1207.9" x2="231.0" y2="1268.4" stroke="#3a4142" stroke-width="2.2" stroke-linecap="butt"/>
<polygon points="178.7,1138.8 279.1,1212.8 279.1,1229.3 178.7,1155.3" fill="#2f3536" stroke="#23282a" stroke-width="1" stroke-linejoin="round" />
<polygon points="279.1,1212.8 335.9,1200.8 335.9,1217.2 279.1,1229.3" fill="#c5cdcf" stroke="#23282a" stroke-width="1" stroke-linejoin="round" />
<polygon points="311.4,1182.7 335.9,1200.8 335.9,1217.2 311.4,1199.2" fill="#3a4142" stroke="#23282a" stroke-width="1" stroke-linejoin="round" />
<polygon points="178.7,1138.8 317.9,1109.3 393.9,1165.3 311.4,1182.7 335.9,1200.8 279.1,1212.8" fill="#4c4438" stroke="#23282a" stroke-width="1" stroke-linejoin="round" />
<polygon points="178.7,1138.8 189.5,1136.5 289.9,1210.5 279.1,1212.8" fill="#30363a" stroke="none" stroke-width="0" stroke-linejoin="round" />
<polygon points="217.7,1167.5 356.9,1138.0 361.6,1141.5 222.4,1171.0" fill="#363b3c" stroke="none" stroke-width="0" stroke-linejoin="round" />
<polygon points="285.1,1170.2 295.9,1167.9 339.5,1200.0 328.7,1202.3" fill="#353a3b" stroke="none" stroke-width="0" stroke-linejoin="round" />
<polygon points="287.1,1148.2 289.2,1150.2 290.5,1152.3 290.7,1154.5 290.1,1156.6 288.4,1158.7 285.9,1160.6 282.6,1162.4 278.6,1163.9 274.0,1165.0 268.9,1165.9 263.5,1166.4 258.0,1166.5 252.5,1166.3 247.3,1165.7 242.4,1164.7 238.0,1163.4 234.2,1161.9 231.2,1160.1 229.1,1158.1 227.8,1156.0 227.5,1153.8 228.2,1151.7 229.8,1149.6 232.3,1147.6 235.7,1145.9 239.7,1144.4 244.3,1143.2 249.4,1142.4 254.8,1141.9 260.3,1141.7 265.7,1142.0 271.0,1142.6 275.9,1143.6 280.3,1144.8 284.1,1146.4" fill="#3b4243" stroke="#1f2425" stroke-width="1.4" stroke-linejoin="round" />
<polyline points="225.8,1159.5 225.5,1157.2 226.2,1154.9 227.9,1152.7 230.6,1150.6 234.2,1148.8 238.4,1147.2 243.4,1145.9 248.8,1145.0 254.5,1144.5 260.3,1144.3 266.2,1144.6 271.8,1145.2 277.0,1146.3 281.7,1147.6 285.7,1149.3 288.9,1151.2 291.2,1153.3" fill="none" stroke="#9aa6a8" stroke-width="1.4" stroke-linejoin="round" stroke-linecap="round" />
<polygon points="229.5,1160.5 245.8,1157.0 252.4,1148.4 236.2,1151.9" fill="#2a2f30" stroke="#1c2021" stroke-width="1" stroke-linejoin="round" />
<line x1="224.4" y1="1159.4" x2="242.4" y2="1155.6" stroke="#2a2f30" stroke-width="4.6" stroke-linecap="butt"/>
<line x1="224.4" y1="1159.4" x2="242.4" y2="1155.6" stroke="#9aa6a8" stroke-width="3" stroke-linecap="butt"/>
<polygon points="178.7,1138.8 317.9,1109.3 317.9,1099.7 178.7,1129.2" fill="#a7b4b6" stroke="#5a6466" stroke-width="0.8" stroke-linejoin="round" />
<polygon points="317.9,1109.3 393.9,1165.3 393.9,1155.6 317.9,1099.7" fill="#3a4143" stroke="#23282a" stroke-width="0.8" stroke-linejoin="round" />
<polygon points="311.4,1194.4 393.9,1176.9 393.9,1165.3 311.4,1182.7" fill="#a7b4b6" stroke="#2f3536" stroke-width="0.8" stroke-linejoin="round" />
<polygon points="313.2,1202.2 393.9,1185.1 393.9,1179.8 313.2,1196.9" fill="#d8d3d6" stroke="#4a5254" stroke-width="0.8" stroke-linejoin="round" />
<line x1="309.6" y1="1196.1" x2="394.8" y2="1178.0" stroke="#16191a" stroke-width="2.6" stroke-linecap="butt"/>
<line x1="317.9" y1="1109.3" x2="317.9" y2="1019.9" stroke="#23282a" stroke-width="3.6" stroke-linecap="butt"/>
<line x1="317.9" y1="1109.3" x2="317.9" y2="1019.9" stroke="#8d999b" stroke-width="1.6" stroke-linecap="butt"/>
<line x1="247.6" y1="1124.2" x2="247.6" y2="1034.8" stroke="#23282a" stroke-width="3.0" stroke-linecap="butt"/>
<line x1="178.7" y1="1077.9" x2="317.9" y2="1048.3" stroke="#4a5254" stroke-width="3.0" stroke-linecap="butt"/>
<line x1="178.7" y1="1077.9" x2="317.9" y2="1048.3" stroke="#b8c2c3" stroke-width="1.6" stroke-linecap="butt"/>
<line x1="178.7" y1="1106.9" x2="317.9" y2="1077.4" stroke="#4a5254" stroke-width="3.0" stroke-linecap="butt"/>
<line x1="178.7" y1="1106.9" x2="317.9" y2="1077.4" stroke="#b8c2c3" stroke-width="1.6" stroke-linecap="butt"/>
<line x1="178.7" y1="1049.4" x2="317.9" y2="1019.9" stroke="#23282a" stroke-width="2.8" stroke-linecap="butt"/>
<line x1="355.9" y1="1137.3" x2="355.9" y2="1047.9" stroke="#23282a" stroke-width="3.4" stroke-linecap="butt"/>
<line x1="355.9" y1="1137.3" x2="355.9" y2="1047.9" stroke="#8d999b" stroke-width="1.4" stroke-linecap="butt"/>
<line x1="317.9" y1="1019.9" x2="393.9" y2="1075.8" stroke="#23282a" stroke-width="2.8" stroke-linecap="butt"/>
<line x1="317.9" y1="1048.3" x2="393.9" y2="1104.3" stroke="#23282a" stroke-width="2.8" stroke-linecap="butt"/>
<line x1="317.9" y1="1077.4" x2="393.9" y2="1133.3" stroke="#23282a" stroke-width="2.8" stroke-linecap="butt"/>
<line x1="178.7" y1="1049.4" x2="248.5" y2="1100.8" stroke="#23282a" stroke-width="2.8" stroke-linecap="butt"/>
<line x1="178.7" y1="1077.9" x2="248.5" y2="1129.3" stroke="#23282a" stroke-width="2.8" stroke-linecap="butt"/>
<line x1="178.7" y1="1106.9" x2="248.5" y2="1158.3" stroke="#23282a" stroke-width="2.8" stroke-linecap="butt"/>
<line x1="178.7" y1="1049.4" x2="279.1" y2="1123.4" stroke="#23282a" stroke-width="3.4" stroke-linecap="butt"/>
<line x1="204.3" y1="1157.7" x2="204.3" y2="1068.2" stroke="#23282a" stroke-width="3.0" stroke-linecap="butt"/>
<line x1="178.7" y1="1191.1" x2="178.7" y2="1049.4" stroke="#23282a" stroke-width="3.4" stroke-linecap="butt"/>
<line x1="311.4" y1="1182.7" x2="311.4" y2="1122.3" stroke="#23282a" stroke-width="3.4" stroke-linecap="butt"/>
<line x1="311.4" y1="1182.7" x2="311.4" y2="1122.3" stroke="#8d999b" stroke-width="1.4" stroke-linecap="butt"/>
<line x1="304.7" y1="1094.7" x2="393.9" y2="1075.8" stroke="#23282a" stroke-width="2.8" stroke-linecap="butt"/>
<line x1="304.7" y1="1123.2" x2="393.9" y2="1104.3" stroke="#23282a" stroke-width="2.8" stroke-linecap="butt"/>
<line x1="304.7" y1="1152.2" x2="393.9" y2="1133.3" stroke="#4a5254" stroke-width="3.0" stroke-linecap="butt"/>
<line x1="304.7" y1="1152.2" x2="393.9" y2="1133.3" stroke="#b8c2c3" stroke-width="1.6" stroke-linecap="butt"/>
<line x1="306.5" y1="1179.9" x2="306.5" y2="1077.9" stroke="#23282a" stroke-width="3.4" stroke-linecap="butt"/>
<line x1="393.9" y1="1221.4" x2="393.9" y2="1075.8" stroke="#23282a" stroke-width="3.8" stroke-linecap="butt"/>
<line x1="393.9" y1="1221.4" x2="393.9" y2="1075.8" stroke="#8d999b" stroke-width="1.7999999999999998" stroke-linecap="butt"/>
<line x1="279.1" y1="1361.9" x2="279.1" y2="1123.4" stroke="#23282a" stroke-width="3.2" stroke-linecap="butt"/>
<line x1="213.4" y1="1167.5" x2="213.4" y2="1008.8" stroke="#3a4143" stroke-width="5.8" stroke-linecap="butt"/>
<line x1="213.4" y1="1167.5" x2="213.4" y2="1008.8" stroke="#9aa7a9" stroke-width="4.0" stroke-linecap="butt"/>
<polygon points="205.7,1008.1 216.6,1005.8 221.3,1009.4 210.5,1011.6" fill="#23282a" stroke="#1c2021" stroke-width="1" stroke-linejoin="round" />
<line x1="213.4" y1="1008.8" x2="213.4" y2="1001.0" stroke="#1c2021" stroke-width="6.5" stroke-linecap="butt"/>
<line x1="213.4" y1="1008.8" x2="213.4" y2="1001.0" stroke="#2a2f30" stroke-width="5.5" stroke-linecap="butt"/>
<polygon points="202.1,1001.1 206.9,1004.7 206.9,992.1 202.1,988.6" fill="#2a2f30" stroke="#1c2021" stroke-width="1" stroke-linejoin="round" />
<polygon points="206.9,1004.7 228.5,1000.1 228.5,987.5 206.9,992.1" fill="#9eabad" stroke="#1c2021" stroke-width="1" stroke-linejoin="round" />
<polygon points="202.1,988.6 223.8,984.0 228.5,987.5 206.9,992.1" fill="#3a4143" stroke="#1c2021" stroke-width="1" stroke-linejoin="round" />
<line x1="259.1" y1="1212.4" x2="281.9" y2="1340.7" stroke="#2a2f30" stroke-width="2.4" stroke-linecap="butt"/>
<line x1="280.1" y1="1227.9" x2="281.9" y2="1340.7" stroke="#2a2f30" stroke-width="2.4" stroke-linecap="butt"/>
<line x1="298.7" y1="1207.8" x2="330.6" y2="1301.4" stroke="#2f3536" stroke-width="2.2" stroke-linecap="butt"/>
<polygon points="254.4,1228.0 287.0,1252.0 287.0,1261.6 254.4,1237.7" fill="#b7c1c3" stroke="#4a5254" stroke-width="0.8" stroke-linejoin="round" />
<polygon points="297.6,1218.8 330.2,1242.8 330.2,1252.5 297.6,1228.5" fill="#c3cbcd" stroke="#4a5254" stroke-width="0.8" stroke-linejoin="round" />
<polygon points="270.8,1274.9 287.0,1286.8 287.0,1296.5 270.8,1284.6" fill="#b7c1c3" stroke="#4a5254" stroke-width="0.8" stroke-linejoin="round" />
<polygon points="314.0,1265.7 330.2,1277.6 330.2,1287.3 314.0,1275.4" fill="#c3cbcd" stroke="#4a5254" stroke-width="0.8" stroke-linejoin="round" />
<polygon points="277.9,1318.9 287.0,1325.5 287.0,1335.2 277.9,1328.6" fill="#b7c1c3" stroke="#4a5254" stroke-width="0.8" stroke-linejoin="round" />
<polygon points="321.2,1309.7 330.2,1316.4 330.2,1326.0 321.2,1319.4" fill="#c3cbcd" stroke="#4a5254" stroke-width="0.8" stroke-linejoin="round" />
<polygon points="276.9,1366.5 287.0,1373.9 287.0,1383.6 276.9,1376.2" fill="#b7c1c3" stroke="#4a5254" stroke-width="0.8" stroke-linejoin="round" />
<polygon points="320.1,1357.3 330.2,1364.8 330.2,1374.4 320.1,1367.0" fill="#c3cbcd" stroke="#4a5254" stroke-width="0.8" stroke-linejoin="round" />
<line x1="284.6" y1="1250.9" x2="333.2" y2="1240.6" stroke="#8f9b9d" stroke-width="1.6" stroke-linecap="butt"/>
<line x1="284.6" y1="1275.4" x2="333.2" y2="1265.1" stroke="#8f9b9d" stroke-width="1.6" stroke-linecap="butt"/>
<line x1="284.6" y1="1299.9" x2="333.2" y2="1289.5" stroke="#8f9b9d" stroke-width="1.6" stroke-linecap="butt"/>
<line x1="284.6" y1="1324.3" x2="333.2" y2="1314.0" stroke="#8f9b9d" stroke-width="1.6" stroke-linecap="butt"/>
<line x1="284.6" y1="1348.8" x2="333.2" y2="1338.5" stroke="#8f9b9d" stroke-width="1.6" stroke-linecap="butt"/>
<line x1="284.6" y1="1373.3" x2="333.2" y2="1363.0" stroke="#8f9b9d" stroke-width="1.6" stroke-linecap="butt"/>
<line x1="284.6" y1="1397.8" x2="333.2" y2="1387.5" stroke="#8f9b9d" stroke-width="1.6" stroke-linecap="butt"/>
<line x1="284.6" y1="1422.3" x2="333.2" y2="1412.0" stroke="#8f9b9d" stroke-width="1.6" stroke-linecap="butt"/>
<line x1="284.6" y1="1446.8" x2="333.2" y2="1436.5" stroke="#8f9b9d" stroke-width="1.6" stroke-linecap="butt"/>
<line x1="284.6" y1="1471.3" x2="333.2" y2="1461.0" stroke="#8f9b9d" stroke-width="1.6" stroke-linecap="butt"/>
<line x1="283.5" y1="1481.2" x2="283.5" y2="1125.3" stroke="#1e2223" stroke-width="4.0" stroke-linecap="butt"/>
<line x1="286.9" y1="1477.6" x2="286.9" y2="1124.5" stroke="#7f8b8d" stroke-width="2.2" stroke-linecap="butt"/>
<line x1="331.8" y1="1468.1" x2="331.8" y2="1115.0" stroke="#87949a" stroke-width="3.4" stroke-linecap="butt"/>
<line x1="335.2" y1="1470.2" x2="335.2" y2="1114.3" stroke="#23282a" stroke-width="3.2" stroke-linecap="butt"/>
<line x1="301.6" y1="1144.5" x2="301.6" y2="1327.5" stroke="#23282a" stroke-width="2.6" stroke-linecap="butt"/>
<line x1="301.6" y1="1144.5" x2="301.6" y2="1327.5" stroke="#7f8b8d" stroke-width="1.0" stroke-linecap="butt"/>
<line x1="324.8" y1="1147.2" x2="324.8" y2="1330.1" stroke="#23282a" stroke-width="2.6" stroke-linecap="butt"/>
<line x1="324.8" y1="1147.2" x2="324.8" y2="1330.1" stroke="#7f8b8d" stroke-width="1.0" stroke-linecap="butt"/>
<line x1="351.5" y1="1141.5" x2="351.5" y2="1324.5" stroke="#23282a" stroke-width="2.6" stroke-linecap="butt"/>
<line x1="351.5" y1="1141.5" x2="351.5" y2="1324.5" stroke="#7f8b8d" stroke-width="1.0" stroke-linecap="butt"/>
<line x1="358.8" y1="1132.4" x2="358.8" y2="1315.4" stroke="#23282a" stroke-width="2.6" stroke-linecap="butt"/>
<line x1="358.8" y1="1132.4" x2="358.8" y2="1315.4" stroke="#7f8b8d" stroke-width="1.0" stroke-linecap="butt"/>
<polyline points="283.4,1127.7 285.0,1133.7 291.7,1140.1 294.1,1141.6 297.0,1143.0 300.4,1144.2 304.1,1145.2 308.2,1146.0 312.6,1146.7 317.1,1147.0 321.7,1147.2 326.4,1147.1 331.0,1146.8 335.5,1146.2 339.7,1145.5 343.7,1144.5 347.3,1143.3 350.5,1142.0 353.3,1140.5 355.5,1138.9 357.2,1137.2 358.3,1135.4 358.8,1133.6 358.7,1131.8 358.0,1130.0 356.7,1128.3 354.9,1126.7 345.2,1120.9 334.9,1116.8" fill="none" stroke="#30373a" stroke-width="3.0" stroke-linejoin="round" stroke-linecap="round" />
<polyline points="283.4,1127.7 285.0,1133.7 291.7,1140.1 294.1,1141.6 297.0,1143.0 300.4,1144.2 304.1,1145.2 308.2,1146.0 312.6,1146.7 317.1,1147.0 321.7,1147.2 326.4,1147.1 331.0,1146.8 335.5,1146.2 339.7,1145.5 343.7,1144.5 347.3,1143.3 350.5,1142.0 353.3,1140.5 355.5,1138.9 357.2,1137.2 358.3,1135.4 358.8,1133.6 358.7,1131.8 358.0,1130.0 356.7,1128.3 354.9,1126.7 345.2,1120.9 334.9,1116.8" fill="none" stroke="#aeb9bb" stroke-width="1.3" stroke-linejoin="round" stroke-linecap="round" />
<polyline points="283.4,1189.6 285.0,1195.6 291.7,1202.0 294.1,1203.5 297.0,1204.9 300.4,1206.1 304.1,1207.2 308.2,1208.0 312.6,1208.6 317.1,1209.0 321.7,1209.2 326.4,1209.1 331.0,1208.7 335.5,1208.2 339.7,1207.4 343.7,1206.4 347.3,1205.3 350.5,1203.9 353.3,1202.5 355.5,1200.8 357.2,1199.1 358.3,1197.4 358.8,1195.6 358.7,1193.8 358.0,1192.0 356.7,1190.3 354.9,1188.6 345.2,1182.9 334.9,1178.7" fill="none" stroke="#30373a" stroke-width="3.0" stroke-linejoin="round" stroke-linecap="round" />
<polyline points="283.4,1189.6 285.0,1195.6 291.7,1202.0 294.1,1203.5 297.0,1204.9 300.4,1206.1 304.1,1207.2 308.2,1208.0 312.6,1208.6 317.1,1209.0 321.7,1209.2 326.4,1209.1 331.0,1208.7 335.5,1208.2 339.7,1207.4 343.7,1206.4 347.3,1205.3 350.5,1203.9 353.3,1202.5 355.5,1200.8 357.2,1199.1 358.3,1197.4 358.8,1195.6 358.7,1193.8 358.0,1192.0 356.7,1190.3 354.9,1188.6 345.2,1182.9 334.9,1178.7" fill="none" stroke="#aeb9bb" stroke-width="1.3" stroke-linejoin="round" stroke-linecap="round" />
<polyline points="283.4,1248.7 285.0,1254.7 291.7,1261.1 294.1,1262.6 297.0,1264.0 300.4,1265.2 304.1,1266.2 308.2,1267.0 312.6,1267.7 317.1,1268.0 321.7,1268.2 326.4,1268.1 331.0,1267.8 335.5,1267.2 339.7,1266.5 343.7,1265.5 347.3,1264.3 350.5,1263.0 353.3,1261.5 355.5,1259.9 357.2,1258.2 358.3,1256.4 358.8,1254.6 358.7,1252.8 358.0,1251.0 356.7,1249.3 354.9,1247.7 345.2,1241.9 334.9,1237.8" fill="none" stroke="#23282a" stroke-width="3.2" stroke-linejoin="round" stroke-linecap="round" />
<polyline points="283.4,1310.6 285.0,1316.6 291.7,1323.0 294.1,1324.5 297.0,1325.9 300.4,1327.1 304.1,1328.2 308.2,1329.0 312.6,1329.6 317.1,1330.0 321.7,1330.2 326.4,1330.1 331.0,1329.7 335.5,1329.2 339.7,1328.4 343.7,1327.4 347.3,1326.3 350.5,1324.9 353.3,1323.5 355.5,1321.8 357.2,1320.1 358.3,1318.4 358.8,1316.6 358.7,1314.8 358.0,1313.0 356.7,1311.3 354.9,1309.6 345.2,1303.9 334.9,1299.7" fill="none" stroke="#23282a" stroke-width="3.2" stroke-linejoin="round" stroke-linecap="round" />
<line x1="103.1" y1="1428.0" x2="215.7" y2="1404.1" stroke="#30373a" stroke-width="8.5" stroke-linecap="butt"/>
<line x1="103.1" y1="1428.0" x2="215.7" y2="1404.1" stroke="#9ba8aa" stroke-width="6.5" stroke-linecap="butt"/>
<ellipse cx="125.6" cy="1423.2" rx="4.0" ry="8.0" fill="#2b3032" stroke="#15191a" stroke-width="1" transform="rotate(14 125.6 1423.2)"/>
<ellipse cx="134.6" cy="1421.3" rx="4.0" ry="8.0" fill="#2b3032" stroke="#15191a" stroke-width="1" transform="rotate(14 134.6 1421.3)"/>
<ellipse cx="145.5" cy="1419.0" rx="4.0" ry="8.0" fill="#2b3032" stroke="#15191a" stroke-width="1" transform="rotate(14 145.5 1419.0)"/>
<ellipse cx="154.5" cy="1417.1" rx="4.0" ry="8.0" fill="#2b3032" stroke="#15191a" stroke-width="1" transform="rotate(14 154.5 1417.1)"/>
<ellipse cx="192.3" cy="1409.1" rx="4.0" ry="8.0" fill="#2b3032" stroke="#15191a" stroke-width="1" transform="rotate(14 192.3 1409.1)"/>
<ellipse cx="95.9" cy="1429.5" rx="6.0" ry="12.0" fill="#353c3e" stroke="#15191a" stroke-width="1" transform="rotate(14 95.9 1429.5)"/>
<ellipse cx="99.5" cy="1428.8" rx="5.2" ry="10.5" fill="#6d787a" stroke="#15191a" stroke-width="1" transform="rotate(14 99.5 1428.8)"/>
<line x1="119.5" y1="1394.8" x2="143.8" y2="1389.6" stroke="#30373a" stroke-width="7.5" stroke-linecap="butt"/>
<line x1="119.5" y1="1394.8" x2="143.8" y2="1389.6" stroke="#9ba8aa" stroke-width="5.5" stroke-linecap="butt"/>
<ellipse cx="97.0" cy="1399.6" rx="3.5" ry="7.0" fill="#2b3032" stroke="#15191a" stroke-width="1" transform="rotate(14 97.0 1399.6)"/>
<ellipse cx="103.3" cy="1398.2" rx="3.5" ry="7.0" fill="#2b3032" stroke="#15191a" stroke-width="1" transform="rotate(14 103.3 1398.2)"/>
<ellipse cx="114.1" cy="1395.9" rx="3.5" ry="7.0" fill="#2b3032" stroke="#15191a" stroke-width="1" transform="rotate(14 114.1 1395.9)"/>
<ellipse cx="119.5" cy="1394.8" rx="3.5" ry="7.0" fill="#2b3032" stroke="#15191a" stroke-width="1" transform="rotate(14 119.5 1394.8)"/>
<line x1="140.4" y1="1390.4" x2="171.8" y2="1413.5" stroke="#30373a" stroke-width="8" stroke-linecap="round"/>
<line x1="140.4" y1="1390.4" x2="171.8" y2="1413.5" stroke="#59636a" stroke-width="6" stroke-linecap="round"/>
<line x1="108.5" y1="1397.1" x2="108.5" y2="1364.2" stroke="#30373a" stroke-width="4.800000000000001" stroke-linecap="butt"/>
<line x1="108.5" y1="1397.1" x2="108.5" y2="1364.2" stroke="#9ba8aa" stroke-width="3.2" stroke-linecap="butt"/>
<ellipse cx="108.5" cy="1362.3" rx="7.5" ry="3.4" fill="#2b3032" stroke="#15191a" stroke-width="1"/>
<ellipse cx="108.5" cy="1379.7" rx="5.0" ry="2.2" fill="#3a4144" stroke="#15191a" stroke-width="1"/>
<line x1="139.5" y1="1420.3" x2="139.5" y2="1389.3" stroke="#30373a" stroke-width="5.0" stroke-linecap="butt"/>
<line x1="139.5" y1="1420.3" x2="139.5" y2="1389.3" stroke="#9ba8aa" stroke-width="3.4" stroke-linecap="butt"/>
<ellipse cx="139.5" cy="1387.4" rx="7.5" ry="3.4" fill="#2b3032" stroke="#15191a" stroke-width="1"/>
<ellipse cx="139.5" cy="1405.8" rx="5.5" ry="2.5" fill="#3a4144" stroke="#15191a" stroke-width="1"/>
<line x1="182.5" y1="1387.6" x2="227.6" y2="1378.0" stroke="#3a4144" stroke-width="4.6" stroke-linecap="butt"/>
<line x1="182.5" y1="1387.6" x2="227.6" y2="1378.0" stroke="#c3cccd" stroke-width="3" stroke-linecap="butt"/>
<ellipse cx="185.2" cy="1387.0" rx="3.0" ry="6.0" fill="#2b3032" stroke="#15191a" stroke-width="1" transform="rotate(14 185.2 1387.0)"/>
<ellipse cx="197.9" cy="1384.3" rx="3.0" ry="6.0" fill="#2b3032" stroke="#15191a" stroke-width="1" transform="rotate(14 197.9 1384.3)"/>
<line x1="192.3" y1="1414.7" x2="237.3" y2="1405.1" stroke="#3a4144" stroke-width="4.6" stroke-linecap="butt"/>
<line x1="192.3" y1="1414.7" x2="237.3" y2="1405.1" stroke="#c3cccd" stroke-width="3" stroke-linecap="butt"/>
<ellipse cx="195.0" cy="1414.1" rx="3.0" ry="6.0" fill="#2b3032" stroke="#15191a" stroke-width="1" transform="rotate(14 195.0 1414.1)"/>
<ellipse cx="207.6" cy="1411.4" rx="3.0" ry="6.0" fill="#2b3032" stroke="#15191a" stroke-width="1" transform="rotate(14 207.6 1411.4)"/>
<line x1="193.4" y1="1385.3" x2="193.4" y2="1361.3" stroke="#30373a" stroke-width="4.6" stroke-linecap="butt"/>
<line x1="193.4" y1="1385.3" x2="193.4" y2="1361.3" stroke="#9ba8aa" stroke-width="3" stroke-linecap="butt"/>
<ellipse cx="193.4" cy="1359.3" rx="7.0" ry="3.1" fill="#2b3032" stroke="#15191a" stroke-width="1"/>
</g>
</svg>
</body></html>
